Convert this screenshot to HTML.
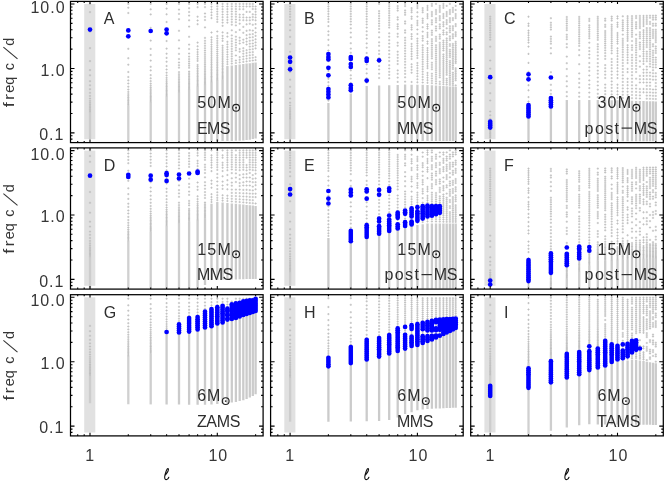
<!DOCTYPE html>
<html><head><meta charset="utf-8"><title>mode diagram</title>
<style>
html,body{margin:0;padding:0;background:#fff;}
body{width:664px;height:481px;overflow:hidden;}
svg{display:block;font-family:"Liberation Sans",sans-serif;}
.t{filter:grayscale(1);}
</style></head><body>
<svg width="664" height="481" viewBox="0 0 664 481">
<rect width="664" height="481" fill="#fff"/>
<g>
<rect x="84.2" y="4" width="11.1" height="135.2" fill="#e1e1e1"/>
<path d="M90 112.2V139M128.3 105.2V141" stroke="#cbcbcb" stroke-opacity="0.9" stroke-width="2.3" fill="none"/>
<path d="M150.7 101.8V141M166.6 96V141M179 92V141" stroke="#cbcbcb" stroke-opacity="0.95" stroke-width="2.3" fill="none"/>
<path d="M189.1 89V141M197.6 86V141M205 84V141M211.5 81.8V141M217.3 80V141M222.6 79.3V141M227.4 66.1V141M231.8 65.5V141M235.9 65V140.8M239.7 64.5V140.7M243.3 64V140.5M246.6 63.6V140.1M249.8 63.2V139.7M252.8 62.8V139.1M255.6 62.4V138.6" stroke="#cbcbcb" stroke-opacity="1.0" stroke-width="2.3" fill="none"/>
<path d="M88.9 104.4h2.2m-1.1 -1.1v2.2M88.9 106h2.2m-1.1 -1.1v2.2M88.9 107.4h2.2m-1.1 -1.1v2.2M88.9 108.9h2.2m-1.1 -1.1v2.2M88.9 110.2h2.2m-1.1 -1.1v2.2M88.9 111.6h2.2m-1.1 -1.1v2.2M88.9 102.7h2.2m-1.1 -1.1v2.2M88.9 100.8h2.2m-1.1 -1.1v2.2M88.9 98.5h2.2m-1.1 -1.1v2.2M88.9 95.9h2.2m-1.1 -1.1v2.2M88.9 92.8h2.2m-1.1 -1.1v2.2M88.9 89.2h2.2m-1.1 -1.1v2.2M88.9 85.3h2.2m-1.1 -1.1v2.2M88.9 81.2h2.2m-1.1 -1.1v2.2M88.9 75.3h2.2m-1.1 -1.1v2.2M88.9 70.1h2.2m-1.1 -1.1v2.2M88.9 61.1h2.2m-1.1 -1.1v2.2M88.9 48.1h2.2m-1.1 -1.1v2.2M88.9 31.7h2.2m-1.1 -1.1v2.2M88.9 12.1h2.2m-1.1 -1.1v2.2M88.9 3.9h2.2m-1.1 -1.1v2.2M127.2 97.4h2.2m-1.1 -1.1v2.2M127.2 99h2.2m-1.1 -1.1v2.2M127.2 100.4h2.2m-1.1 -1.1v2.2M127.2 101.9h2.2m-1.1 -1.1v2.2M127.2 103.2h2.2m-1.1 -1.1v2.2M127.2 104.6h2.2m-1.1 -1.1v2.2M127.2 95.8h2.2m-1.1 -1.1v2.2M127.2 94h2.2m-1.1 -1.1v2.2M127.2 91.9h2.2m-1.1 -1.1v2.2M127.2 89.5h2.2m-1.1 -1.1v2.2M127.2 86.7h2.2m-1.1 -1.1v2.2M127.2 83.5h2.2m-1.1 -1.1v2.2M127.2 80.4h2.2m-1.1 -1.1v2.2M127.2 77h2.2m-1.1 -1.1v2.2M127.2 72h2.2m-1.1 -1.1v2.2M127.2 64.7h2.2m-1.1 -1.1v2.2M127.2 58.2h2.2m-1.1 -1.1v2.2M127.2 48.8h2.2m-1.1 -1.1v2.2M127.2 31.5h2.2m-1.1 -1.1v2.2M127.2 13h2.2m-1.1 -1.1v2.2M127.2 7.7h2.2m-1.1 -1.1v2.2M127.2 3.9h2.2m-1.1 -1.1v2.2M149.6 89.2h2.2m-1.1 -1.1v2.2M149.6 90.8h2.2m-1.1 -1.1v2.2M149.6 92.2h2.2m-1.1 -1.1v2.2M149.6 93.7h2.2m-1.1 -1.1v2.2M149.6 95.1h2.2m-1.1 -1.1v2.2M149.6 96.4h2.2m-1.1 -1.1v2.2M149.6 97.7h2.2m-1.1 -1.1v2.2M149.6 98.9h2.2m-1.1 -1.1v2.2M149.6 100.1h2.2m-1.1 -1.1v2.2M149.6 101.2h2.2m-1.1 -1.1v2.2M149.6 87.6h2.2m-1.1 -1.1v2.2M149.6 85.7h2.2m-1.1 -1.1v2.2M149.6 83.6h2.2m-1.1 -1.1v2.2M149.6 81.1h2.2m-1.1 -1.1v2.2M149.6 78.3h2.2m-1.1 -1.1v2.2M149.6 75.1h2.2m-1.1 -1.1v2.2M149.6 70.4h2.2m-1.1 -1.1v2.2M149.6 66.8h2.2m-1.1 -1.1v2.2M149.6 60.6h2.2m-1.1 -1.1v2.2M149.6 55h2.2m-1.1 -1.1v2.2M149.6 48.9h2.2m-1.1 -1.1v2.2M149.6 40.6h2.2m-1.1 -1.1v2.2M149.6 27.9h2.2m-1.1 -1.1v2.2M149.6 14.4h2.2m-1.1 -1.1v2.2M149.6 9.3h2.2m-1.1 -1.1v2.2M149.6 3.9h2.2m-1.1 -1.1v2.2M165.5 83.4h2.2m-1.1 -1.1v2.2M165.5 85h2.2m-1.1 -1.1v2.2M165.5 86.4h2.2m-1.1 -1.1v2.2M165.5 87.9h2.2m-1.1 -1.1v2.2M165.5 89.2h2.2m-1.1 -1.1v2.2M165.5 90.6h2.2m-1.1 -1.1v2.2M165.5 91.8h2.2m-1.1 -1.1v2.2M165.5 93.1h2.2m-1.1 -1.1v2.2M165.5 94.3h2.2m-1.1 -1.1v2.2M165.5 95.4h2.2m-1.1 -1.1v2.2M165.5 81.8h2.2m-1.1 -1.1v2.2M165.5 79.9h2.2m-1.1 -1.1v2.2M165.5 77.8h2.2m-1.1 -1.1v2.2M165.5 75.4h2.2m-1.1 -1.1v2.2M165.5 72.7h2.2m-1.1 -1.1v2.2M165.5 69.5h2.2m-1.1 -1.1v2.2M165.5 66h2.2m-1.1 -1.1v2.2M165.5 61.7h2.2m-1.1 -1.1v2.2M165.5 57.9h2.2m-1.1 -1.1v2.2M165.5 53.7h2.2m-1.1 -1.1v2.2M165.5 48.6h2.2m-1.1 -1.1v2.2M165.5 41h2.2m-1.1 -1.1v2.2M165.5 31.5h2.2m-1.1 -1.1v2.2M165.5 22h2.2m-1.1 -1.1v2.2M165.5 14.3h2.2m-1.1 -1.1v2.2M165.5 8.6h2.2m-1.1 -1.1v2.2M165.5 3.9h2.2m-1.1 -1.1v2.2M177.9 79.4h2.2m-1.1 -1.1v2.2M177.9 81h2.2m-1.1 -1.1v2.2M177.9 82.4h2.2m-1.1 -1.1v2.2M177.9 83.9h2.2m-1.1 -1.1v2.2M177.9 85.2h2.2m-1.1 -1.1v2.2M177.9 86.6h2.2m-1.1 -1.1v2.2M177.9 87.8h2.2m-1.1 -1.1v2.2M177.9 89.1h2.2m-1.1 -1.1v2.2M177.9 90.3h2.2m-1.1 -1.1v2.2M177.9 91.4h2.2m-1.1 -1.1v2.2M177.9 77.8h2.2m-1.1 -1.1v2.2M177.9 76h2.2m-1.1 -1.1v2.2M177.9 74.2h2.2m-1.1 -1.1v2.2M177.9 72.1h2.2m-1.1 -1.1v2.2M177.9 67.7h2.2m-1.1 -1.1v2.2M177.9 65.2h2.2m-1.1 -1.1v2.2M177.9 62.5h2.2m-1.1 -1.1v2.2M177.9 59h2.2m-1.1 -1.1v2.2M177.9 53.9h2.2m-1.1 -1.1v2.2M177.9 48.4h2.2m-1.1 -1.1v2.2M177.9 40.3h2.2m-1.1 -1.1v2.2M177.9 30.8h2.2m-1.1 -1.1v2.2M177.9 19.2h2.2m-1.1 -1.1v2.2M177.9 13.9h2.2m-1.1 -1.1v2.2M177.9 9.6h2.2m-1.1 -1.1v2.2M177.9 3.9h2.2m-1.1 -1.1v2.2M188 76.4h2.2m-1.1 -1.1v2.2M188 78h2.2m-1.1 -1.1v2.2M188 79.4h2.2m-1.1 -1.1v2.2M188 80.9h2.2m-1.1 -1.1v2.2M188 82.2h2.2m-1.1 -1.1v2.2M188 83.6h2.2m-1.1 -1.1v2.2M188 84.8h2.2m-1.1 -1.1v2.2M188 86.1h2.2m-1.1 -1.1v2.2M188 87.3h2.2m-1.1 -1.1v2.2M188 88.4h2.2m-1.1 -1.1v2.2M188 74.8h2.2m-1.1 -1.1v2.2M188 73.2h2.2m-1.1 -1.1v2.2M188 71.5h2.2m-1.1 -1.1v2.2M188 67.8h2.2m-1.1 -1.1v2.2M188 65.7h2.2m-1.1 -1.1v2.2M188 63.6h2.2m-1.1 -1.1v2.2M188 61.4h2.2m-1.1 -1.1v2.2M188 59.1h2.2m-1.1 -1.1v2.2M188 56.6h2.2m-1.1 -1.1v2.2M188 53.5h2.2m-1.1 -1.1v2.2M188 49h2.2m-1.1 -1.1v2.2M188 44.6h2.2m-1.1 -1.1v2.2M188 36.8h2.2m-1.1 -1.1v2.2M188 26.6h2.2m-1.1 -1.1v2.2M188 20.3h2.2m-1.1 -1.1v2.2M188 15.6h2.2m-1.1 -1.1v2.2M188 12h2.2m-1.1 -1.1v2.2M188 8.2h2.2m-1.1 -1.1v2.2M188 3.9h2.2m-1.1 -1.1v2.2M196.5 73.4h2.2m-1.1 -1.1v2.2M196.5 75h2.2m-1.1 -1.1v2.2M196.5 76.4h2.2m-1.1 -1.1v2.2M196.5 77.9h2.2m-1.1 -1.1v2.2M196.5 79.2h2.2m-1.1 -1.1v2.2M196.5 80.6h2.2m-1.1 -1.1v2.2M196.5 81.8h2.2m-1.1 -1.1v2.2M196.5 83.1h2.2m-1.1 -1.1v2.2M196.5 84.3h2.2m-1.1 -1.1v2.2M196.5 85.4h2.2m-1.1 -1.1v2.2M196.5 71.8h2.2m-1.1 -1.1v2.2M196.5 70.2h2.2m-1.1 -1.1v2.2M196.5 68.5h2.2m-1.1 -1.1v2.2M196.5 66.7h2.2m-1.1 -1.1v2.2M196.5 64.9h2.2m-1.1 -1.1v2.2M196.5 60.9h2.2m-1.1 -1.1v2.2M196.5 58.8h2.2m-1.1 -1.1v2.2M196.5 56.6h2.2m-1.1 -1.1v2.2M196.5 54.3h2.2m-1.1 -1.1v2.2M196.5 52h2.2m-1.1 -1.1v2.2M196.5 49.5h2.2m-1.1 -1.1v2.2M196.5 46.3h2.2m-1.1 -1.1v2.2M196.5 42.6h2.2m-1.1 -1.1v2.2M196.5 24.2h2.2m-1.1 -1.1v2.2M196.5 20.5h2.2m-1.1 -1.1v2.2M196.5 16.7h2.2m-1.1 -1.1v2.2M196.5 7.2h2.2m-1.1 -1.1v2.2M196.5 3.9h2.2m-1.1 -1.1v2.2M203.9 71.4h2.2m-1.1 -1.1v2.2M203.9 73h2.2m-1.1 -1.1v2.2M203.9 74.4h2.2m-1.1 -1.1v2.2M203.9 75.9h2.2m-1.1 -1.1v2.2M203.9 77.2h2.2m-1.1 -1.1v2.2M203.9 78.6h2.2m-1.1 -1.1v2.2M203.9 79.8h2.2m-1.1 -1.1v2.2M203.9 81.1h2.2m-1.1 -1.1v2.2M203.9 82.3h2.2m-1.1 -1.1v2.2M203.9 83.4h2.2m-1.1 -1.1v2.2M203.9 69.8h2.2m-1.1 -1.1v2.2M203.9 68.1h2.2m-1.1 -1.1v2.2M203.9 66.4h2.2m-1.1 -1.1v2.2M203.9 64.6h2.2m-1.1 -1.1v2.2M203.9 62.8h2.2m-1.1 -1.1v2.2M203.9 60.9h2.2m-1.1 -1.1v2.2M203.9 58.9h2.2m-1.1 -1.1v2.2M203.9 56.9h2.2m-1.1 -1.1v2.2M203.9 54.8h2.2m-1.1 -1.1v2.2M203.9 52.7h2.2m-1.1 -1.1v2.2M203.9 50.5h2.2m-1.1 -1.1v2.2M203.9 48.2h2.2m-1.1 -1.1v2.2M203.9 45.8h2.2m-1.1 -1.1v2.2M203.9 43.3h2.2m-1.1 -1.1v2.2M203.9 40.8h2.2m-1.1 -1.1v2.2M203.9 37.9h2.2m-1.1 -1.1v2.2M203.9 27.4h2.2m-1.1 -1.1v2.2M203.9 20h2.2m-1.1 -1.1v2.2M203.9 16.8h2.2m-1.1 -1.1v2.2M203.9 13.5h2.2m-1.1 -1.1v2.2M203.9 7.1h2.2m-1.1 -1.1v2.2M203.9 3.9h2.2m-1.1 -1.1v2.2M210.4 69.3h2.2m-1.1 -1.1v2.2M210.4 70.8h2.2m-1.1 -1.1v2.2M210.4 72.3h2.2m-1.1 -1.1v2.2M210.4 73.8h2.2m-1.1 -1.1v2.2M210.4 75.1h2.2m-1.1 -1.1v2.2M210.4 76.5h2.2m-1.1 -1.1v2.2M210.4 77.7h2.2m-1.1 -1.1v2.2M210.4 79h2.2m-1.1 -1.1v2.2M210.4 80.2h2.2m-1.1 -1.1v2.2M210.4 81.3h2.2m-1.1 -1.1v2.2M210.4 67.7h2.2m-1.1 -1.1v2.2M210.4 66.1h2.2m-1.1 -1.1v2.2M210.4 64.4h2.2m-1.1 -1.1v2.2M210.4 62.7h2.2m-1.1 -1.1v2.2M210.4 60.9h2.2m-1.1 -1.1v2.2M210.4 59.1h2.2m-1.1 -1.1v2.2M210.4 57.2h2.2m-1.1 -1.1v2.2M210.4 55.2h2.2m-1.1 -1.1v2.2M210.4 53.2h2.2m-1.1 -1.1v2.2M210.4 51.2h2.2m-1.1 -1.1v2.2M210.4 49h2.2m-1.1 -1.1v2.2M210.4 46.8h2.2m-1.1 -1.1v2.2M210.4 44.6h2.2m-1.1 -1.1v2.2M210.4 42.2h2.2m-1.1 -1.1v2.2M210.4 39.8h2.2m-1.1 -1.1v2.2M210.4 37.3h2.2m-1.1 -1.1v2.2M210.4 32.5h2.2m-1.1 -1.1v2.2M210.4 18.1h2.2m-1.1 -1.1v2.2M210.4 15.2h2.2m-1.1 -1.1v2.2M210.4 12.4h2.2m-1.1 -1.1v2.2M210.4 9.5h2.2m-1.1 -1.1v2.2M210.4 6.7h2.2m-1.1 -1.1v2.2M210.4 3.9h2.2m-1.1 -1.1v2.2M216.2 67.4h2.2m-1.1 -1.1v2.2M216.2 69h2.2m-1.1 -1.1v2.2M216.2 70.4h2.2m-1.1 -1.1v2.2M216.2 71.9h2.2m-1.1 -1.1v2.2M216.2 73.2h2.2m-1.1 -1.1v2.2M216.2 74.6h2.2m-1.1 -1.1v2.2M216.2 75.8h2.2m-1.1 -1.1v2.2M216.2 77.1h2.2m-1.1 -1.1v2.2M216.2 78.3h2.2m-1.1 -1.1v2.2M216.2 79.4h2.2m-1.1 -1.1v2.2M216.2 65.8h2.2m-1.1 -1.1v2.2M216.2 64.2h2.2m-1.1 -1.1v2.2M216.2 62.6h2.2m-1.1 -1.1v2.2M216.2 60.9h2.2m-1.1 -1.1v2.2M216.2 59.1h2.2m-1.1 -1.1v2.2M216.2 57.3h2.2m-1.1 -1.1v2.2M216.2 55.4h2.2m-1.1 -1.1v2.2M216.2 53.5h2.2m-1.1 -1.1v2.2M216.2 51.5h2.2m-1.1 -1.1v2.2M216.2 49.5h2.2m-1.1 -1.1v2.2M216.2 47.4h2.2m-1.1 -1.1v2.2M216.2 45.3h2.2m-1.1 -1.1v2.2M216.2 43h2.2m-1.1 -1.1v2.2M216.2 40.8h2.2m-1.1 -1.1v2.2M216.2 38.4h2.2m-1.1 -1.1v2.2M216.2 36h2.2m-1.1 -1.1v2.2M216.2 31.5h2.2m-1.1 -1.1v2.2M216.2 21.9h2.2m-1.1 -1.1v2.2M216.2 19.3h2.2m-1.1 -1.1v2.2M216.2 16.7h2.2m-1.1 -1.1v2.2M216.2 14.1h2.2m-1.1 -1.1v2.2M216.2 11.6h2.2m-1.1 -1.1v2.2M216.2 9h2.2m-1.1 -1.1v2.2M216.2 6.4h2.2m-1.1 -1.1v2.2M216.2 3.9h2.2m-1.1 -1.1v2.2M221.5 66.7h2.2m-1.1 -1.1v2.2M221.5 68.3h2.2m-1.1 -1.1v2.2M221.5 69.7h2.2m-1.1 -1.1v2.2M221.5 71.2h2.2m-1.1 -1.1v2.2M221.5 72.6h2.2m-1.1 -1.1v2.2M221.5 73.9h2.2m-1.1 -1.1v2.2M221.5 75.2h2.2m-1.1 -1.1v2.2M221.5 76.4h2.2m-1.1 -1.1v2.2M221.5 77.6h2.2m-1.1 -1.1v2.2M221.5 78.7h2.2m-1.1 -1.1v2.2M221.5 65.1h2.2m-1.1 -1.1v2.2M221.5 63.4h2.2m-1.1 -1.1v2.2M221.5 61.7h2.2m-1.1 -1.1v2.2M221.5 59.9h2.2m-1.1 -1.1v2.2M221.5 58.1h2.2m-1.1 -1.1v2.2M221.5 56.2h2.2m-1.1 -1.1v2.2M221.5 54.2h2.2m-1.1 -1.1v2.2M221.5 52.2h2.2m-1.1 -1.1v2.2M221.5 50.1h2.2m-1.1 -1.1v2.2M221.5 47.9h2.2m-1.1 -1.1v2.2M221.5 45.7h2.2m-1.1 -1.1v2.2M221.5 40.9h2.2m-1.1 -1.1v2.2M221.5 38.5h2.2m-1.1 -1.1v2.2M221.5 35.9h2.2m-1.1 -1.1v2.2M221.5 32.4h2.2m-1.1 -1.1v2.2M221.5 25.8h2.2m-1.1 -1.1v2.2M221.5 22.6h2.2m-1.1 -1.1v2.2M221.5 19.9h2.2m-1.1 -1.1v2.2M221.5 17.2h2.2m-1.1 -1.1v2.2M221.5 14.5h2.2m-1.1 -1.1v2.2M221.5 11.8h2.2m-1.1 -1.1v2.2M221.5 9.2h2.2m-1.1 -1.1v2.2M221.5 6.5h2.2m-1.1 -1.1v2.2M221.5 3.9h2.2m-1.1 -1.1v2.2M226.3 64.2h2.2m-1.1 -1.1v2.2M226.3 61.8h2.2m-1.1 -1.1v2.2M226.3 59.4h2.2m-1.1 -1.1v2.2M226.3 56.9h2.2m-1.1 -1.1v2.2M226.3 54.5h2.2m-1.1 -1.1v2.2M226.3 52h2.2m-1.1 -1.1v2.2M226.3 49.5h2.2m-1.1 -1.1v2.2M226.3 47h2.2m-1.1 -1.1v2.2M226.3 44.4h2.2m-1.1 -1.1v2.2M226.3 41.8h2.2m-1.1 -1.1v2.2M226.3 36.6h2.2m-1.1 -1.1v2.2M226.3 33.1h2.2m-1.1 -1.1v2.2M226.3 22.6h2.2m-1.1 -1.1v2.2M226.3 19.9h2.2m-1.1 -1.1v2.2M226.3 17.2h2.2m-1.1 -1.1v2.2M226.3 14.5h2.2m-1.1 -1.1v2.2M226.3 11.8h2.2m-1.1 -1.1v2.2M226.3 9.1h2.2m-1.1 -1.1v2.2M226.3 6.5h2.2m-1.1 -1.1v2.2M226.3 3.9h2.2m-1.1 -1.1v2.2M230.7 63.6h2.2m-1.1 -1.1v2.2M230.7 61.2h2.2m-1.1 -1.1v2.2M230.7 58.8h2.2m-1.1 -1.1v2.2M230.7 56.3h2.2m-1.1 -1.1v2.2M230.7 53.9h2.2m-1.1 -1.1v2.2M230.7 51.4h2.2m-1.1 -1.1v2.2M230.7 48.9h2.2m-1.1 -1.1v2.2M230.7 46.3h2.2m-1.1 -1.1v2.2M230.7 43.8h2.2m-1.1 -1.1v2.2M230.7 41.2h2.2m-1.1 -1.1v2.2M230.7 38.6h2.2m-1.1 -1.1v2.2M230.7 35.4h2.2m-1.1 -1.1v2.2M230.7 30.3h2.2m-1.1 -1.1v2.2M230.7 24.7h2.2m-1.1 -1.1v2.2M230.7 22h2.2m-1.1 -1.1v2.2M230.7 19.4h2.2m-1.1 -1.1v2.2M230.7 16.7h2.2m-1.1 -1.1v2.2M230.7 14.1h2.2m-1.1 -1.1v2.2M230.7 11.5h2.2m-1.1 -1.1v2.2M230.7 9h2.2m-1.1 -1.1v2.2M230.7 6.4h2.2m-1.1 -1.1v2.2M230.7 3.9h2.2m-1.1 -1.1v2.2M234.8 63h2.2m-1.1 -1.1v2.2M234.8 60.5h2.2m-1.1 -1.1v2.2M234.8 55.5h2.2m-1.1 -1.1v2.2M234.8 50.3h2.2m-1.1 -1.1v2.2M234.8 47.7h2.2m-1.1 -1.1v2.2M234.8 45.1h2.2m-1.1 -1.1v2.2M234.8 42.5h2.2m-1.1 -1.1v2.2M234.8 39.8h2.2m-1.1 -1.1v2.2M234.8 36.7h2.2m-1.1 -1.1v2.2M234.8 32.1h2.2m-1.1 -1.1v2.2M234.8 25.4h2.2m-1.1 -1.1v2.2M234.8 22.2h2.2m-1.1 -1.1v2.2M234.8 19.5h2.2m-1.1 -1.1v2.2M234.8 16.8h2.2m-1.1 -1.1v2.2M234.8 14.2h2.2m-1.1 -1.1v2.2M234.8 11.6h2.2m-1.1 -1.1v2.2M234.8 9h2.2m-1.1 -1.1v2.2M234.8 6.4h2.2m-1.1 -1.1v2.2M234.8 3.9h2.2m-1.1 -1.1v2.2M238.6 62.4h2.2m-1.1 -1.1v2.2M238.6 59.8h2.2m-1.1 -1.1v2.2M238.6 57.1h2.2m-1.1 -1.1v2.2M238.6 51.7h2.2m-1.1 -1.1v2.2M238.6 49h2.2m-1.1 -1.1v2.2M238.6 43.5h2.2m-1.1 -1.1v2.2M238.6 40.7h2.2m-1.1 -1.1v2.2M238.6 37.7h2.2m-1.1 -1.1v2.2M238.6 29.9h2.2m-1.1 -1.1v2.2M238.6 23.7h2.2m-1.1 -1.1v2.2M238.6 20.1h2.2m-1.1 -1.1v2.2M238.6 17.3h2.2m-1.1 -1.1v2.2M238.6 14.6h2.2m-1.1 -1.1v2.2M238.6 9.2h2.2m-1.1 -1.1v2.2M238.6 6.5h2.2m-1.1 -1.1v2.2M238.6 3.9h2.2m-1.1 -1.1v2.2M242.2 61.9h2.2m-1.1 -1.1v2.2M242.2 59.2h2.2m-1.1 -1.1v2.2M242.2 56.5h2.2m-1.1 -1.1v2.2M242.2 53.7h2.2m-1.1 -1.1v2.2M242.2 51h2.2m-1.1 -1.1v2.2M242.2 48.2h2.2m-1.1 -1.1v2.2M242.2 42.6h2.2m-1.1 -1.1v2.2M242.2 39.7h2.2m-1.1 -1.1v2.2M242.2 32.8h2.2m-1.1 -1.1v2.2M242.2 26.9h2.2m-1.1 -1.1v2.2M242.2 20.2h2.2m-1.1 -1.1v2.2M242.2 17.4h2.2m-1.1 -1.1v2.2M242.2 14.6h2.2m-1.1 -1.1v2.2M242.2 9.2h2.2m-1.1 -1.1v2.2M242.2 6.5h2.2m-1.1 -1.1v2.2M242.2 3.9h2.2m-1.1 -1.1v2.2M245.5 61.4h2.2m-1.1 -1.1v2.2M245.5 58.6h2.2m-1.1 -1.1v2.2M245.5 55.8h2.2m-1.1 -1.1v2.2M245.5 53h2.2m-1.1 -1.1v2.2M245.5 50.2h2.2m-1.1 -1.1v2.2M245.5 44.5h2.2m-1.1 -1.1v2.2M245.5 41.6h2.2m-1.1 -1.1v2.2M245.5 38.5h2.2m-1.1 -1.1v2.2M245.5 35.1h2.2m-1.1 -1.1v2.2M245.5 30.8h2.2m-1.1 -1.1v2.2M245.5 24.3h2.2m-1.1 -1.1v2.2M245.5 20.3h2.2m-1.1 -1.1v2.2M245.5 17.5h2.2m-1.1 -1.1v2.2M245.5 11.9h2.2m-1.1 -1.1v2.2M245.5 6.5h2.2m-1.1 -1.1v2.2M245.5 3.9h2.2m-1.1 -1.1v2.2M248.7 60.9h2.2m-1.1 -1.1v2.2M248.7 58.1h2.2m-1.1 -1.1v2.2M248.7 55.3h2.2m-1.1 -1.1v2.2M248.7 52.4h2.2m-1.1 -1.1v2.2M248.7 49.5h2.2m-1.1 -1.1v2.2M248.7 46.6h2.2m-1.1 -1.1v2.2M248.7 43.7h2.2m-1.1 -1.1v2.2M248.7 40.8h2.2m-1.1 -1.1v2.2M248.7 37.5h2.2m-1.1 -1.1v2.2M248.7 34.4h2.2m-1.1 -1.1v2.2M248.7 30.2h2.2m-1.1 -1.1v2.2M248.7 23.8h2.2m-1.1 -1.1v2.2M248.7 20.3h2.2m-1.1 -1.1v2.2M248.7 17.5h2.2m-1.1 -1.1v2.2M248.7 11.9h2.2m-1.1 -1.1v2.2M248.7 6.5h2.2m-1.1 -1.1v2.2M248.7 3.9h2.2m-1.1 -1.1v2.2M251.7 60.5h2.2m-1.1 -1.1v2.2M251.7 57.7h2.2m-1.1 -1.1v2.2M251.7 54.9h2.2m-1.1 -1.1v2.2M251.7 52.1h2.2m-1.1 -1.1v2.2M251.7 49.2h2.2m-1.1 -1.1v2.2M251.7 46.3h2.2m-1.1 -1.1v2.2M251.7 43.5h2.2m-1.1 -1.1v2.2M251.7 40.4h2.2m-1.1 -1.1v2.2M251.7 37.2h2.2m-1.1 -1.1v2.2M251.7 34.1h2.2m-1.1 -1.1v2.2M251.7 30.6h2.2m-1.1 -1.1v2.2M251.7 24.8h2.2m-1.1 -1.1v2.2M251.7 19.8h2.2m-1.1 -1.1v2.2M251.7 17h2.2m-1.1 -1.1v2.2M251.7 14.3h2.2m-1.1 -1.1v2.2M251.7 9h2.2m-1.1 -1.1v2.2M251.7 6.4h2.2m-1.1 -1.1v2.2M251.7 3.9h2.2m-1.1 -1.1v2.2M254.5 60.1h2.2m-1.1 -1.1v2.2M254.5 57.2h2.2m-1.1 -1.1v2.2M254.5 48.4h2.2m-1.1 -1.1v2.2M254.5 45.4h2.2m-1.1 -1.1v2.2M254.5 42.4h2.2m-1.1 -1.1v2.2M254.5 39.3h2.2m-1.1 -1.1v2.2M254.5 35.9h2.2m-1.1 -1.1v2.2M254.5 32.5h2.2m-1.1 -1.1v2.2M254.5 28.1h2.2m-1.1 -1.1v2.2M254.5 24.1h2.2m-1.1 -1.1v2.2M254.5 20.3h2.2m-1.1 -1.1v2.2M254.5 17.4h2.2m-1.1 -1.1v2.2M254.5 14.6h2.2m-1.1 -1.1v2.2M254.5 11.8h2.2m-1.1 -1.1v2.2M254.5 9.1h2.2m-1.1 -1.1v2.2M254.5 6.5h2.2m-1.1 -1.1v2.2" stroke="#bcbcbc" stroke-width="0.8" fill="none"/>
<g fill="#0000ff"><circle cx="90" cy="29.6" r="2.35"/><circle cx="128.3" cy="30.4" r="2.35"/><circle cx="128.3" cy="36.3" r="2.35"/><circle cx="150.7" cy="31" r="2.35"/><circle cx="166.6" cy="29.5" r="2.35"/><circle cx="166.6" cy="33.3" r="2.35"/></g>
<path d="M70.5 139.1h2M263.1 139.1h-2M70.5 135.8h2M263.1 135.8h-2M70.5 132.9h4M263.1 132.9h-4M70.5 113.5h2M263.1 113.5h-2M70.5 102.1h2M263.1 102.1h-2M70.5 94.1h2M263.1 94.1h-2M70.5 87.8h2M263.1 87.8h-2M70.5 82.7h2M263.1 82.7h-2M70.5 78.4h2M263.1 78.4h-2M70.5 74.7h2M263.1 74.7h-2M70.5 71.4h2M263.1 71.4h-2M70.5 68.5h4M263.1 68.5h-4M70.5 49.1h2M263.1 49.1h-2M70.5 37.7h2M263.1 37.7h-2M70.5 29.7h2M263.1 29.7h-2M70.5 23.4h2M263.1 23.4h-2M70.5 18.3h2M263.1 18.3h-2M70.5 14h2M263.1 14h-2M70.5 10.3h2M263.1 10.3h-2M70.5 7h2M263.1 7h-2M70.5 4h4M263.1 4h-4M77.7 1.4v1.6M77.7 142.6v-1.7M84.2 1.4v1.6M84.2 142.6v-1.7M90 1.4v2.7M90 142.6v-3.2M128.3 1.4v1.6M128.3 142.6v-1.7M150.7 1.4v1.6M150.7 142.6v-1.7M166.6 1.4v1.6M166.6 142.6v-1.7M179 1.4v1.6M179 142.6v-1.7M189.1 1.4v1.6M189.1 142.6v-1.7M197.6 1.4v1.6M197.6 142.6v-1.7M205 1.4v1.6M205 142.6v-1.7M211.5 1.4v1.6M211.5 142.6v-1.7M217.3 1.4v2.7M217.3 142.6v-3.2M255.6 1.4v1.6M255.6 142.6v-1.7" stroke="#000" stroke-width="1.1" fill="none"/>
<rect x="70.5" y="1.4" width="192.6" height="141.2" fill="none" stroke="#000" stroke-width="1.25"/>
<g font-size="16" fill="#2e2e2e" class="t">
<text x="103.8" y="24.2">A</text>
<text x="197.2" y="108" textLength="33.6" lengthAdjust="spacing">50M</text>
<circle cx="236.1" cy="107.8" r="3.4" fill="none" stroke="#222" stroke-width="1.1"/><circle cx="236.1" cy="107.8" r="0.95"/>
<text x="196.9" y="133.7" textLength="33.4" lengthAdjust="spacing">EMS</text>
</g>
</g>
<g>
<rect x="284.3" y="4" width="11.1" height="135.2" fill="#e1e1e1"/>
<path d="M290.1 119.2V139" stroke="#cbcbcb" stroke-opacity="0.9" stroke-width="2.3" fill="none"/>
<path d="M328.4 103V141.2M350.8 93.6V141.2M366.7 86V141.1M379.1 85.5V141.1M389.2 85.2V141.1M397.7 84.9V141.1M405.1 84.6V141.1M411.6 84.7V141.1M417.4 84.8V141.1M422.7 84.8V141.1M427.5 84.9V141M431.9 85.2V141M436 85.5V141M439.8 85.7V141M443.4 86V141M446.7 86.2V141M449.9 86.4V141M452.9 86.6V141M455.7 86.8V141" stroke="#cbcbcb" stroke-opacity="1.0" stroke-width="2.3" fill="none"/>
<path d="M289 111.4h2.2m-1.1 -1.1v2.2M289 113h2.2m-1.1 -1.1v2.2M289 114.4h2.2m-1.1 -1.1v2.2M289 115.9h2.2m-1.1 -1.1v2.2M289 117.2h2.2m-1.1 -1.1v2.2M289 118.6h2.2m-1.1 -1.1v2.2M289 109.8h2.2m-1.1 -1.1v2.2M289 107.9h2.2m-1.1 -1.1v2.2M289 105.5h2.2m-1.1 -1.1v2.2M289 102.7h2.2m-1.1 -1.1v2.2M289 98.5h2.2m-1.1 -1.1v2.2M289 93h2.2m-1.1 -1.1v2.2M289 86.8h2.2m-1.1 -1.1v2.2M289 79.7h2.2m-1.1 -1.1v2.2M289 72h2.2m-1.1 -1.1v2.2M289 66.3h2.2m-1.1 -1.1v2.2M289 59h2.2m-1.1 -1.1v2.2M289 51.8h2.2m-1.1 -1.1v2.2M289 44h2.2m-1.1 -1.1v2.2M289 36.9h2.2m-1.1 -1.1v2.2M289 30.3h2.2m-1.1 -1.1v2.2M289 24.9h2.2m-1.1 -1.1v2.2M289 19.9h2.2m-1.1 -1.1v2.2M289 16.9h2.2m-1.1 -1.1v2.2M289 14.3h2.2m-1.1 -1.1v2.2M289 11.6h2.2m-1.1 -1.1v2.2M289 9h2.2m-1.1 -1.1v2.2M289 6.5h2.2m-1.1 -1.1v2.2M289 3.9h2.2m-1.1 -1.1v2.2M327.3 100.6h2.2m-1.1 -1.1v2.2M327.3 97.4h2.2m-1.1 -1.1v2.2M327.3 94.1h2.2m-1.1 -1.1v2.2M327.3 90.1h2.2m-1.1 -1.1v2.2M327.3 85.8h2.2m-1.1 -1.1v2.2M327.3 82.2h2.2m-1.1 -1.1v2.2M327.3 78.8h2.2m-1.1 -1.1v2.2M327.3 75.2h2.2m-1.1 -1.1v2.2M327.3 70.9h2.2m-1.1 -1.1v2.2M327.3 67h2.2m-1.1 -1.1v2.2M327.3 61.2h2.2m-1.1 -1.1v2.2M327.3 55.9h2.2m-1.1 -1.1v2.2M327.3 50.5h2.2m-1.1 -1.1v2.2M327.3 45.2h2.2m-1.1 -1.1v2.2M327.3 39.8h2.2m-1.1 -1.1v2.2M327.3 35h2.2m-1.1 -1.1v2.2M327.3 31.4h2.2m-1.1 -1.1v2.2M327.3 26.1h2.2m-1.1 -1.1v2.2M327.3 21.9h2.2m-1.1 -1.1v2.2M327.3 19.1h2.2m-1.1 -1.1v2.2M327.3 16.5h2.2m-1.1 -1.1v2.2M327.3 13.9h2.2m-1.1 -1.1v2.2M327.3 11.3h2.2m-1.1 -1.1v2.2M327.3 8.8h2.2m-1.1 -1.1v2.2M327.3 6.4h2.2m-1.1 -1.1v2.2M327.3 3.9h2.2m-1.1 -1.1v2.2M349.7 90.8h2.2m-1.1 -1.1v2.2M349.7 87h2.2m-1.1 -1.1v2.2M349.7 83h2.2m-1.1 -1.1v2.2M349.7 78.6h2.2m-1.1 -1.1v2.2M349.7 75.3h2.2m-1.1 -1.1v2.2M349.7 70.4h2.2m-1.1 -1.1v2.2M349.7 66.4h2.2m-1.1 -1.1v2.2M349.7 62.7h2.2m-1.1 -1.1v2.2M349.7 58.4h2.2m-1.1 -1.1v2.2M349.7 52.8h2.2m-1.1 -1.1v2.2M349.7 48.6h2.2m-1.1 -1.1v2.2M349.7 43.2h2.2m-1.1 -1.1v2.2M349.7 37.3h2.2m-1.1 -1.1v2.2M349.7 32.6h2.2m-1.1 -1.1v2.2M349.7 28.3h2.2m-1.1 -1.1v2.2M349.7 24.5h2.2m-1.1 -1.1v2.2M349.7 21.6h2.2m-1.1 -1.1v2.2M349.7 19h2.2m-1.1 -1.1v2.2M349.7 16.4h2.2m-1.1 -1.1v2.2M349.7 13.9h2.2m-1.1 -1.1v2.2M349.7 11.3h2.2m-1.1 -1.1v2.2M349.7 8.8h2.2m-1.1 -1.1v2.2M349.7 6.4h2.2m-1.1 -1.1v2.2M349.7 3.9h2.2m-1.1 -1.1v2.2M365.6 82.7h2.2m-1.1 -1.1v2.2M365.6 78.2h2.2m-1.1 -1.1v2.2M365.6 73.4h2.2m-1.1 -1.1v2.2M365.6 69h2.2m-1.1 -1.1v2.2M365.6 64.4h2.2m-1.1 -1.1v2.2M365.6 60.9h2.2m-1.1 -1.1v2.2M365.6 57.1h2.2m-1.1 -1.1v2.2M365.6 53h2.2m-1.1 -1.1v2.2M365.6 47.7h2.2m-1.1 -1.1v2.2M365.6 43.4h2.2m-1.1 -1.1v2.2M365.6 38.6h2.2m-1.1 -1.1v2.2M365.6 35h2.2m-1.1 -1.1v2.2M365.6 31.3h2.2m-1.1 -1.1v2.2M365.6 27.6h2.2m-1.1 -1.1v2.2M365.6 24.4h2.2m-1.1 -1.1v2.2M365.6 21.7h2.2m-1.1 -1.1v2.2M365.6 19.1h2.2m-1.1 -1.1v2.2M365.6 16.5h2.2m-1.1 -1.1v2.2M365.6 13.9h2.2m-1.1 -1.1v2.2M365.6 11.4h2.2m-1.1 -1.1v2.2M365.6 8.9h2.2m-1.1 -1.1v2.2M365.6 6.4h2.2m-1.1 -1.1v2.2M365.6 3.9h2.2m-1.1 -1.1v2.2M378 78h2.2m-1.1 -1.1v2.2M378 73.7h2.2m-1.1 -1.1v2.2M378 69.5h2.2m-1.1 -1.1v2.2M378 66h2.2m-1.1 -1.1v2.2M378 62h2.2m-1.1 -1.1v2.2M378 58h2.2m-1.1 -1.1v2.2M378 54h2.2m-1.1 -1.1v2.2M378 50.7h2.2m-1.1 -1.1v2.2M378 45.8h2.2m-1.1 -1.1v2.2M378 42.3h2.2m-1.1 -1.1v2.2M378 37.3h2.2m-1.1 -1.1v2.2M378 32.3h2.2m-1.1 -1.1v2.2M378 28.9h2.2m-1.1 -1.1v2.2M378 26h2.2m-1.1 -1.1v2.2M378 23.5h2.2m-1.1 -1.1v2.2M378 21h2.2m-1.1 -1.1v2.2M378 18.5h2.2m-1.1 -1.1v2.2M378 16h2.2m-1.1 -1.1v2.2M378 13.5h2.2m-1.1 -1.1v2.2M378 11.1h2.2m-1.1 -1.1v2.2M378 3.9h2.2m-1.1 -1.1v2.2M388.1 78.3h2.2m-1.1 -1.1v2.2M388.1 74.9h2.2m-1.1 -1.1v2.2M388.1 71.8h2.2m-1.1 -1.1v2.2M388.1 68.5h2.2m-1.1 -1.1v2.2M388.1 65.2h2.2m-1.1 -1.1v2.2M388.1 61h2.2m-1.1 -1.1v2.2M388.1 57.5h2.2m-1.1 -1.1v2.2M388.1 54.1h2.2m-1.1 -1.1v2.2M388.1 50.6h2.2m-1.1 -1.1v2.2M388.1 47.1h2.2m-1.1 -1.1v2.2M388.1 43.6h2.2m-1.1 -1.1v2.2M388.1 40.2h2.2m-1.1 -1.1v2.2M388.1 36.7h2.2m-1.1 -1.1v2.2M388.1 33.3h2.2m-1.1 -1.1v2.2M388.1 27.6h2.2m-1.1 -1.1v2.2M388.1 25.1h2.2m-1.1 -1.1v2.2M388.1 22.7h2.2m-1.1 -1.1v2.2M388.1 20.3h2.2m-1.1 -1.1v2.2M388.1 17.9h2.2m-1.1 -1.1v2.2M388.1 15.6h2.2m-1.1 -1.1v2.2M388.1 13.2h2.2m-1.1 -1.1v2.2M388.1 10.9h2.2m-1.1 -1.1v2.2M388.1 8.5h2.2m-1.1 -1.1v2.2M388.1 6.2h2.2m-1.1 -1.1v2.2M388.1 3.9h2.2m-1.1 -1.1v2.2M396.6 81.9h2.2m-1.1 -1.1v2.2M396.6 77.6h2.2m-1.1 -1.1v2.2M396.6 73.8h2.2m-1.1 -1.1v2.2M396.6 70.4h2.2m-1.1 -1.1v2.2M396.6 64h2.2m-1.1 -1.1v2.2M396.6 60.9h2.2m-1.1 -1.1v2.2M396.6 57.8h2.2m-1.1 -1.1v2.2M396.6 54.8h2.2m-1.1 -1.1v2.2M396.6 51.7h2.2m-1.1 -1.1v2.2M396.6 45.7h2.2m-1.1 -1.1v2.2M396.6 42.7h2.2m-1.1 -1.1v2.2M396.6 36.7h2.2m-1.1 -1.1v2.2M396.6 33.8h2.2m-1.1 -1.1v2.2M396.6 28.8h2.2m-1.1 -1.1v2.2M396.6 26.5h2.2m-1.1 -1.1v2.2M396.6 24.2h2.2m-1.1 -1.1v2.2M396.6 19.6h2.2m-1.1 -1.1v2.2M396.6 17.3h2.2m-1.1 -1.1v2.2M396.6 10.6h2.2m-1.1 -1.1v2.2M396.6 8.3h2.2m-1.1 -1.1v2.2M396.6 6.1h2.2m-1.1 -1.1v2.2M404 81.7h2.2m-1.1 -1.1v2.2M404 77.3h2.2m-1.1 -1.1v2.2M404 73.9h2.2m-1.1 -1.1v2.2M404 70.8h2.2m-1.1 -1.1v2.2M404 67.7h2.2m-1.1 -1.1v2.2M404 64.7h2.2m-1.1 -1.1v2.2M404 61.8h2.2m-1.1 -1.1v2.2M404 59h2.2m-1.1 -1.1v2.2M404 56.3h2.2m-1.1 -1.1v2.2M404 53.6h2.2m-1.1 -1.1v2.2M404 50.9h2.2m-1.1 -1.1v2.2M404 48.3h2.2m-1.1 -1.1v2.2M404 45.6h2.2m-1.1 -1.1v2.2M404 43h2.2m-1.1 -1.1v2.2M404 40.3h2.2m-1.1 -1.1v2.2M404 37.7h2.2m-1.1 -1.1v2.2M404 32.7h2.2m-1.1 -1.1v2.2M404 30.3h2.2m-1.1 -1.1v2.2M404 23.6h2.2m-1.1 -1.1v2.2M404 21.4h2.2m-1.1 -1.1v2.2M404 14.8h2.2m-1.1 -1.1v2.2M404 12.6h2.2m-1.1 -1.1v2.2M404 10.4h2.2m-1.1 -1.1v2.2M404 6.1h2.2m-1.1 -1.1v2.2M404 3.9h2.2m-1.1 -1.1v2.2M410.5 82h2.2m-1.1 -1.1v2.2M410.5 72.7h2.2m-1.1 -1.1v2.2M410.5 69.8h2.2m-1.1 -1.1v2.2M410.5 67h2.2m-1.1 -1.1v2.2M410.5 64.3h2.2m-1.1 -1.1v2.2M410.5 59h2.2m-1.1 -1.1v2.2M410.5 56.4h2.2m-1.1 -1.1v2.2M410.5 53.9h2.2m-1.1 -1.1v2.2M410.5 51.4h2.2m-1.1 -1.1v2.2M410.5 48.9h2.2m-1.1 -1.1v2.2M410.5 46.4h2.2m-1.1 -1.1v2.2M410.5 43.9h2.2m-1.1 -1.1v2.2M410.5 38.9h2.2m-1.1 -1.1v2.2M410.5 36.5h2.2m-1.1 -1.1v2.2M410.5 34.1h2.2m-1.1 -1.1v2.2M410.5 29.6h2.2m-1.1 -1.1v2.2M410.5 27.4h2.2m-1.1 -1.1v2.2M410.5 25.2h2.2m-1.1 -1.1v2.2M410.5 18.8h2.2m-1.1 -1.1v2.2M410.5 16.6h2.2m-1.1 -1.1v2.2M410.5 12.3h2.2m-1.1 -1.1v2.2M410.5 10.2h2.2m-1.1 -1.1v2.2M410.5 8.1h2.2m-1.1 -1.1v2.2M416.3 82.3h2.2m-1.1 -1.1v2.2M416.3 79.3h2.2m-1.1 -1.1v2.2M416.3 76.3h2.2m-1.1 -1.1v2.2M416.3 73.5h2.2m-1.1 -1.1v2.2M416.3 70.8h2.2m-1.1 -1.1v2.2M416.3 68.1h2.2m-1.1 -1.1v2.2M416.3 65.5h2.2m-1.1 -1.1v2.2M416.3 63h2.2m-1.1 -1.1v2.2M416.3 58h2.2m-1.1 -1.1v2.2M416.3 55.5h2.2m-1.1 -1.1v2.2M416.3 53.1h2.2m-1.1 -1.1v2.2M416.3 50.7h2.2m-1.1 -1.1v2.2M416.3 48.3h2.2m-1.1 -1.1v2.2M416.3 45.8h2.2m-1.1 -1.1v2.2M416.3 43.4h2.2m-1.1 -1.1v2.2M416.3 41h2.2m-1.1 -1.1v2.2M416.3 38.6h2.2m-1.1 -1.1v2.2M416.3 34h2.2m-1.1 -1.1v2.2M416.3 29.5h2.2m-1.1 -1.1v2.2M416.3 25.2h2.2m-1.1 -1.1v2.2M416.3 23h2.2m-1.1 -1.1v2.2M416.3 20.8h2.2m-1.1 -1.1v2.2M416.3 16.6h2.2m-1.1 -1.1v2.2M416.3 12.3h2.2m-1.1 -1.1v2.2M416.3 8.1h2.2m-1.1 -1.1v2.2M416.3 6h2.2m-1.1 -1.1v2.2M416.3 3.9h2.2m-1.1 -1.1v2.2M421.6 82.5h2.2m-1.1 -1.1v2.2M421.6 79.7h2.2m-1.1 -1.1v2.2M421.6 77h2.2m-1.1 -1.1v2.2M421.6 74.3h2.2m-1.1 -1.1v2.2M421.6 71.7h2.2m-1.1 -1.1v2.2M421.6 69.2h2.2m-1.1 -1.1v2.2M421.6 66.7h2.2m-1.1 -1.1v2.2M421.6 64.2h2.2m-1.1 -1.1v2.2M421.6 61.8h2.2m-1.1 -1.1v2.2M421.6 59.4h2.2m-1.1 -1.1v2.2M421.6 57h2.2m-1.1 -1.1v2.2M421.6 54.7h2.2m-1.1 -1.1v2.2M421.6 52.4h2.2m-1.1 -1.1v2.2M421.6 50h2.2m-1.1 -1.1v2.2M421.6 47.7h2.2m-1.1 -1.1v2.2M421.6 45.3h2.2m-1.1 -1.1v2.2M421.6 40.7h2.2m-1.1 -1.1v2.2M421.6 38.4h2.2m-1.1 -1.1v2.2M421.6 36.1h2.2m-1.1 -1.1v2.2M421.6 31.6h2.2m-1.1 -1.1v2.2M421.6 27.2h2.2m-1.1 -1.1v2.2M421.6 22.9h2.2m-1.1 -1.1v2.2M421.6 20.8h2.2m-1.1 -1.1v2.2M421.6 18.6h2.2m-1.1 -1.1v2.2M421.6 12.3h2.2m-1.1 -1.1v2.2M421.6 10.2h2.2m-1.1 -1.1v2.2M421.6 8.1h2.2m-1.1 -1.1v2.2M426.4 82.8h2.2m-1.1 -1.1v2.2M426.4 80.2h2.2m-1.1 -1.1v2.2M426.4 77.7h2.2m-1.1 -1.1v2.2M426.4 75.3h2.2m-1.1 -1.1v2.2M426.4 72.9h2.2m-1.1 -1.1v2.2M426.4 68.2h2.2m-1.1 -1.1v2.2M426.4 66h2.2m-1.1 -1.1v2.2M426.4 63.7h2.2m-1.1 -1.1v2.2M426.4 61.4h2.2m-1.1 -1.1v2.2M426.4 59.2h2.2m-1.1 -1.1v2.2M426.4 57h2.2m-1.1 -1.1v2.2M426.4 54.8h2.2m-1.1 -1.1v2.2M426.4 52.5h2.2m-1.1 -1.1v2.2M426.4 50.3h2.2m-1.1 -1.1v2.2M426.4 48.1h2.2m-1.1 -1.1v2.2M426.4 43.7h2.2m-1.1 -1.1v2.2M426.4 41.5h2.2m-1.1 -1.1v2.2M426.4 37.1h2.2m-1.1 -1.1v2.2M426.4 35h2.2m-1.1 -1.1v2.2M426.4 32.8h2.2m-1.1 -1.1v2.2M426.4 28.6h2.2m-1.1 -1.1v2.2M426.4 26.5h2.2m-1.1 -1.1v2.2M426.4 24.4h2.2m-1.1 -1.1v2.2M426.4 18.2h2.2m-1.1 -1.1v2.2M426.4 16.1h2.2m-1.1 -1.1v2.2M426.4 14.1h2.2m-1.1 -1.1v2.2M426.4 10h2.2m-1.1 -1.1v2.2M426.4 7.9h2.2m-1.1 -1.1v2.2M426.4 5.9h2.2m-1.1 -1.1v2.2M430.8 83.2h2.2m-1.1 -1.1v2.2M430.8 80.8h2.2m-1.1 -1.1v2.2M430.8 78.4h2.2m-1.1 -1.1v2.2M430.8 76h2.2m-1.1 -1.1v2.2M430.8 73.7h2.2m-1.1 -1.1v2.2M430.8 69.3h2.2m-1.1 -1.1v2.2M430.8 67.1h2.2m-1.1 -1.1v2.2M430.8 64.9h2.2m-1.1 -1.1v2.2M430.8 62.7h2.2m-1.1 -1.1v2.2M430.8 58.4h2.2m-1.1 -1.1v2.2M430.8 56.2h2.2m-1.1 -1.1v2.2M430.8 54.1h2.2m-1.1 -1.1v2.2M430.8 52h2.2m-1.1 -1.1v2.2M430.8 49.8h2.2m-1.1 -1.1v2.2M430.8 47.7h2.2m-1.1 -1.1v2.2M430.8 45.5h2.2m-1.1 -1.1v2.2M430.8 43.4h2.2m-1.1 -1.1v2.2M430.8 41.2h2.2m-1.1 -1.1v2.2M430.8 39.1h2.2m-1.1 -1.1v2.2M430.8 34.9h2.2m-1.1 -1.1v2.2M430.8 32.7h2.2m-1.1 -1.1v2.2M430.8 30.6h2.2m-1.1 -1.1v2.2M430.8 24.4h2.2m-1.1 -1.1v2.2M430.8 22.3h2.2m-1.1 -1.1v2.2M430.8 20.2h2.2m-1.1 -1.1v2.2M430.8 16.1h2.2m-1.1 -1.1v2.2M430.8 14.1h2.2m-1.1 -1.1v2.2M430.8 12h2.2m-1.1 -1.1v2.2M430.8 5.9h2.2m-1.1 -1.1v2.2M430.8 3.9h2.2m-1.1 -1.1v2.2M434.9 83.6h2.2m-1.1 -1.1v2.2M434.9 81.3h2.2m-1.1 -1.1v2.2M434.9 79h2.2m-1.1 -1.1v2.2M434.9 76.8h2.2m-1.1 -1.1v2.2M434.9 74.6h2.2m-1.1 -1.1v2.2M434.9 72.4h2.2m-1.1 -1.1v2.2M434.9 70.2h2.2m-1.1 -1.1v2.2M434.9 68.1h2.2m-1.1 -1.1v2.2M434.9 66h2.2m-1.1 -1.1v2.2M434.9 63.9h2.2m-1.1 -1.1v2.2M434.9 61.8h2.2m-1.1 -1.1v2.2M434.9 59.7h2.2m-1.1 -1.1v2.2M434.9 57.7h2.2m-1.1 -1.1v2.2M434.9 55.6h2.2m-1.1 -1.1v2.2M434.9 53.5h2.2m-1.1 -1.1v2.2M434.9 51.4h2.2m-1.1 -1.1v2.2M434.9 49.4h2.2m-1.1 -1.1v2.2M434.9 47.3h2.2m-1.1 -1.1v2.2M434.9 45.2h2.2m-1.1 -1.1v2.2M434.9 41h2.2m-1.1 -1.1v2.2M434.9 38.9h2.2m-1.1 -1.1v2.2M434.9 36.8h2.2m-1.1 -1.1v2.2M434.9 30.6h2.2m-1.1 -1.1v2.2M434.9 28.5h2.2m-1.1 -1.1v2.2M434.9 26.4h2.2m-1.1 -1.1v2.2M434.9 22.3h2.2m-1.1 -1.1v2.2M434.9 20.2h2.2m-1.1 -1.1v2.2M434.9 18.2h2.2m-1.1 -1.1v2.2M434.9 14.1h2.2m-1.1 -1.1v2.2M434.9 12h2.2m-1.1 -1.1v2.2M434.9 10h2.2m-1.1 -1.1v2.2M434.9 3.9h2.2m-1.1 -1.1v2.2M438.7 84h2.2m-1.1 -1.1v2.2M438.7 81.7h2.2m-1.1 -1.1v2.2M438.7 77.4h2.2m-1.1 -1.1v2.2M438.7 75.3h2.2m-1.1 -1.1v2.2M438.7 73.2h2.2m-1.1 -1.1v2.2M438.7 71.1h2.2m-1.1 -1.1v2.2M438.7 69.1h2.2m-1.1 -1.1v2.2M438.7 67.1h2.2m-1.1 -1.1v2.2M438.7 65h2.2m-1.1 -1.1v2.2M438.7 63h2.2m-1.1 -1.1v2.2M438.7 61h2.2m-1.1 -1.1v2.2M438.7 59h2.2m-1.1 -1.1v2.2M438.7 57h2.2m-1.1 -1.1v2.2M438.7 55h2.2m-1.1 -1.1v2.2M438.7 53h2.2m-1.1 -1.1v2.2M438.7 51h2.2m-1.1 -1.1v2.2M438.7 48.9h2.2m-1.1 -1.1v2.2M438.7 46.9h2.2m-1.1 -1.1v2.2M438.7 44.9h2.2m-1.1 -1.1v2.2M438.7 42.8h2.2m-1.1 -1.1v2.2M438.7 38.7h2.2m-1.1 -1.1v2.2M438.7 36.7h2.2m-1.1 -1.1v2.2M438.7 34.6h2.2m-1.1 -1.1v2.2M438.7 28.4h2.2m-1.1 -1.1v2.2M438.7 26.4h2.2m-1.1 -1.1v2.2M438.7 24.3h2.2m-1.1 -1.1v2.2M438.7 20.2h2.2m-1.1 -1.1v2.2M438.7 18.1h2.2m-1.1 -1.1v2.2M438.7 16.1h2.2m-1.1 -1.1v2.2M438.7 12h2.2m-1.1 -1.1v2.2M438.7 10h2.2m-1.1 -1.1v2.2M438.7 7.9h2.2m-1.1 -1.1v2.2M438.7 5.9h2.2m-1.1 -1.1v2.2M442.3 84.3h2.2m-1.1 -1.1v2.2M442.3 82.2h2.2m-1.1 -1.1v2.2M442.3 80.1h2.2m-1.1 -1.1v2.2M442.3 78.1h2.2m-1.1 -1.1v2.2M442.3 76h2.2m-1.1 -1.1v2.2M442.3 74h2.2m-1.1 -1.1v2.2M442.3 72h2.2m-1.1 -1.1v2.2M442.3 70h2.2m-1.1 -1.1v2.2M442.3 68.1h2.2m-1.1 -1.1v2.2M442.3 66.1h2.2m-1.1 -1.1v2.2M442.3 64.1h2.2m-1.1 -1.1v2.2M442.3 62.2h2.2m-1.1 -1.1v2.2M442.3 60.3h2.2m-1.1 -1.1v2.2M442.3 58.3h2.2m-1.1 -1.1v2.2M442.3 56.4h2.2m-1.1 -1.1v2.2M442.3 54.4h2.2m-1.1 -1.1v2.2M442.3 50.5h2.2m-1.1 -1.1v2.2M442.3 48.5h2.2m-1.1 -1.1v2.2M442.3 46.6h2.2m-1.1 -1.1v2.2M442.3 44.6h2.2m-1.1 -1.1v2.2M442.3 42.6h2.2m-1.1 -1.1v2.2M442.3 40.6h2.2m-1.1 -1.1v2.2M442.3 34.5h2.2m-1.1 -1.1v2.2M442.3 32.5h2.2m-1.1 -1.1v2.2M442.3 30.4h2.2m-1.1 -1.1v2.2M442.3 26.3h2.2m-1.1 -1.1v2.2M442.3 24.3h2.2m-1.1 -1.1v2.2M442.3 22.2h2.2m-1.1 -1.1v2.2M442.3 18.1h2.2m-1.1 -1.1v2.2M442.3 16.1h2.2m-1.1 -1.1v2.2M442.3 14h2.2m-1.1 -1.1v2.2M442.3 7.9h2.2m-1.1 -1.1v2.2M442.3 5.9h2.2m-1.1 -1.1v2.2M442.3 3.9h2.2m-1.1 -1.1v2.2M445.6 84.6h2.2m-1.1 -1.1v2.2M445.6 82.6h2.2m-1.1 -1.1v2.2M445.6 80.6h2.2m-1.1 -1.1v2.2M445.6 78.7h2.2m-1.1 -1.1v2.2M445.6 74.8h2.2m-1.1 -1.1v2.2M445.6 72.8h2.2m-1.1 -1.1v2.2M445.6 70.9h2.2m-1.1 -1.1v2.2M445.6 69h2.2m-1.1 -1.1v2.2M445.6 67.1h2.2m-1.1 -1.1v2.2M445.6 65.2h2.2m-1.1 -1.1v2.2M445.6 63.3h2.2m-1.1 -1.1v2.2M445.6 61.5h2.2m-1.1 -1.1v2.2M445.6 59.6h2.2m-1.1 -1.1v2.2M445.6 57.7h2.2m-1.1 -1.1v2.2M445.6 55.8h2.2m-1.1 -1.1v2.2M445.6 53.9h2.2m-1.1 -1.1v2.2M445.6 52h2.2m-1.1 -1.1v2.2M445.6 50.1h2.2m-1.1 -1.1v2.2M445.6 48.2h2.2m-1.1 -1.1v2.2M445.6 46.3h2.2m-1.1 -1.1v2.2M445.6 44.3h2.2m-1.1 -1.1v2.2M445.6 42.4h2.2m-1.1 -1.1v2.2M445.6 40.4h2.2m-1.1 -1.1v2.2M445.6 38.4h2.2m-1.1 -1.1v2.2M445.6 34.4h2.2m-1.1 -1.1v2.2M445.6 32.4h2.2m-1.1 -1.1v2.2M445.6 28.3h2.2m-1.1 -1.1v2.2M445.6 24.2h2.2m-1.1 -1.1v2.2M445.6 22.2h2.2m-1.1 -1.1v2.2M445.6 20.1h2.2m-1.1 -1.1v2.2M445.6 16.1h2.2m-1.1 -1.1v2.2M445.6 14h2.2m-1.1 -1.1v2.2M445.6 12h2.2m-1.1 -1.1v2.2M445.6 5.9h2.2m-1.1 -1.1v2.2M448.8 84.9h2.2m-1.1 -1.1v2.2M448.8 83h2.2m-1.1 -1.1v2.2M448.8 81.1h2.2m-1.1 -1.1v2.2M448.8 79.2h2.2m-1.1 -1.1v2.2M448.8 77.4h2.2m-1.1 -1.1v2.2M448.8 75.5h2.2m-1.1 -1.1v2.2M448.8 73.6h2.2m-1.1 -1.1v2.2M448.8 71.8h2.2m-1.1 -1.1v2.2M448.8 70h2.2m-1.1 -1.1v2.2M448.8 68.1h2.2m-1.1 -1.1v2.2M448.8 66.3h2.2m-1.1 -1.1v2.2M448.8 64.5h2.2m-1.1 -1.1v2.2M448.8 62.6h2.2m-1.1 -1.1v2.2M448.8 60.8h2.2m-1.1 -1.1v2.2M448.8 57.2h2.2m-1.1 -1.1v2.2M448.8 55.3h2.2m-1.1 -1.1v2.2M448.8 53.5h2.2m-1.1 -1.1v2.2M448.8 51.6h2.2m-1.1 -1.1v2.2M448.8 49.7h2.2m-1.1 -1.1v2.2M448.8 46h2.2m-1.1 -1.1v2.2M448.8 44.1h2.2m-1.1 -1.1v2.2M448.8 40.2h2.2m-1.1 -1.1v2.2M448.8 38.3h2.2m-1.1 -1.1v2.2M448.8 36.3h2.2m-1.1 -1.1v2.2M448.8 32.3h2.2m-1.1 -1.1v2.2M448.8 30.3h2.2m-1.1 -1.1v2.2M448.8 28.3h2.2m-1.1 -1.1v2.2M448.8 26.2h2.2m-1.1 -1.1v2.2M448.8 22.1h2.2m-1.1 -1.1v2.2M448.8 20.1h2.2m-1.1 -1.1v2.2M448.8 18.1h2.2m-1.1 -1.1v2.2M448.8 14h2.2m-1.1 -1.1v2.2M448.8 12h2.2m-1.1 -1.1v2.2M448.8 10h2.2m-1.1 -1.1v2.2M448.8 3.9h2.2m-1.1 -1.1v2.2M451.8 85.2h2.2m-1.1 -1.1v2.2M451.8 83.4h2.2m-1.1 -1.1v2.2M451.8 81.6h2.2m-1.1 -1.1v2.2M451.8 79.8h2.2m-1.1 -1.1v2.2M451.8 78h2.2m-1.1 -1.1v2.2M451.8 76.2h2.2m-1.1 -1.1v2.2M451.8 74.4h2.2m-1.1 -1.1v2.2M451.8 72.6h2.2m-1.1 -1.1v2.2M451.8 69.1h2.2m-1.1 -1.1v2.2M451.8 67.3h2.2m-1.1 -1.1v2.2M451.8 65.5h2.2m-1.1 -1.1v2.2M451.8 63.7h2.2m-1.1 -1.1v2.2M451.8 62h2.2m-1.1 -1.1v2.2M451.8 60.2h2.2m-1.1 -1.1v2.2M451.8 58.4h2.2m-1.1 -1.1v2.2M451.8 56.6h2.2m-1.1 -1.1v2.2M451.8 54.8h2.2m-1.1 -1.1v2.2M451.8 53h2.2m-1.1 -1.1v2.2M451.8 51.2h2.2m-1.1 -1.1v2.2M451.8 49.4h2.2m-1.1 -1.1v2.2M451.8 47.6h2.2m-1.1 -1.1v2.2M451.8 45.7h2.2m-1.1 -1.1v2.2M451.8 43.9h2.2m-1.1 -1.1v2.2M451.8 38.2h2.2m-1.1 -1.1v2.2M451.8 36.2h2.2m-1.1 -1.1v2.2M451.8 34.2h2.2m-1.1 -1.1v2.2M451.8 30.2h2.2m-1.1 -1.1v2.2M451.8 28.2h2.2m-1.1 -1.1v2.2M451.8 26.2h2.2m-1.1 -1.1v2.2M451.8 20.1h2.2m-1.1 -1.1v2.2M451.8 18.1h2.2m-1.1 -1.1v2.2M451.8 12h2.2m-1.1 -1.1v2.2M451.8 10h2.2m-1.1 -1.1v2.2M451.8 7.9h2.2m-1.1 -1.1v2.2M454.6 85.4h2.2m-1.1 -1.1v2.2M454.6 80.3h2.2m-1.1 -1.1v2.2M454.6 78.6h2.2m-1.1 -1.1v2.2M454.6 76.8h2.2m-1.1 -1.1v2.2M454.6 75.1h2.2m-1.1 -1.1v2.2M454.6 73.4h2.2m-1.1 -1.1v2.2M454.6 71.7h2.2m-1.1 -1.1v2.2M454.6 70h2.2m-1.1 -1.1v2.2M454.6 68.2h2.2m-1.1 -1.1v2.2M454.6 63.1h2.2m-1.1 -1.1v2.2M454.6 61.4h2.2m-1.1 -1.1v2.2M454.6 59.6h2.2m-1.1 -1.1v2.2M454.6 57.9h2.2m-1.1 -1.1v2.2M454.6 56.2h2.2m-1.1 -1.1v2.2M454.6 54.4h2.2m-1.1 -1.1v2.2M454.6 52.7h2.2m-1.1 -1.1v2.2M454.6 50.9h2.2m-1.1 -1.1v2.2M454.6 49.1h2.2m-1.1 -1.1v2.2M454.6 47.3h2.2m-1.1 -1.1v2.2M454.6 45.5h2.2m-1.1 -1.1v2.2M454.6 43.7h2.2m-1.1 -1.1v2.2M454.6 41.8h2.2m-1.1 -1.1v2.2M454.6 36.1h2.2m-1.1 -1.1v2.2M454.6 34.2h2.2m-1.1 -1.1v2.2M454.6 32.2h2.2m-1.1 -1.1v2.2M454.6 26.1h2.2m-1.1 -1.1v2.2M454.6 24.1h2.2m-1.1 -1.1v2.2M454.6 18.1h2.2m-1.1 -1.1v2.2M454.6 16h2.2m-1.1 -1.1v2.2M454.6 14h2.2m-1.1 -1.1v2.2M454.6 10h2.2m-1.1 -1.1v2.2M454.6 5.9h2.2m-1.1 -1.1v2.2" stroke="#bcbcbc" stroke-width="0.8" fill="none"/>
<g fill="#0000ff"><circle cx="290.1" cy="57.5" r="2.35"/><circle cx="290.1" cy="61.8" r="2.35"/><circle cx="290.1" cy="69.3" r="2.35"/><circle cx="328.4" cy="54" r="2.35"/><circle cx="328.4" cy="57.1" r="2.35"/><circle cx="328.4" cy="59.4" r="2.35"/><circle cx="328.4" cy="67.8" r="2.35"/><circle cx="328.4" cy="75.3" r="2.35"/><circle cx="328.4" cy="89" r="2.35"/><circle cx="328.4" cy="91.8" r="2.35"/><circle cx="328.4" cy="94.6" r="2.35"/><circle cx="328.4" cy="97.4" r="2.35"/><circle cx="350.8" cy="57.1" r="2.35"/><circle cx="350.8" cy="59" r="2.35"/><circle cx="350.8" cy="64.1" r="2.35"/><circle cx="350.8" cy="66.9" r="2.35"/><circle cx="350.8" cy="85.2" r="2.35"/><circle cx="350.8" cy="88" r="2.35"/><circle cx="350.8" cy="90.3" r="2.35"/><circle cx="366.7" cy="58.5" r="2.35"/><circle cx="366.7" cy="60.9" r="2.35"/><circle cx="366.7" cy="80.6" r="2.35"/><circle cx="379.1" cy="60.3" r="2.35"/></g>
<path d="M270.6 139.1h2M463.2 139.1h-2M270.6 135.8h2M463.2 135.8h-2M270.6 132.9h4M463.2 132.9h-4M270.6 113.5h2M463.2 113.5h-2M270.6 102.1h2M463.2 102.1h-2M270.6 94.1h2M463.2 94.1h-2M270.6 87.8h2M463.2 87.8h-2M270.6 82.7h2M463.2 82.7h-2M270.6 78.4h2M463.2 78.4h-2M270.6 74.7h2M463.2 74.7h-2M270.6 71.4h2M463.2 71.4h-2M270.6 68.5h4M463.2 68.5h-4M270.6 49.1h2M463.2 49.1h-2M270.6 37.7h2M463.2 37.7h-2M270.6 29.7h2M463.2 29.7h-2M270.6 23.4h2M463.2 23.4h-2M270.6 18.3h2M463.2 18.3h-2M270.6 14h2M463.2 14h-2M270.6 10.3h2M463.2 10.3h-2M270.6 7h2M463.2 7h-2M270.6 4h4M463.2 4h-4M277.8 1.4v1.6M277.8 142.6v-1.7M284.3 1.4v1.6M284.3 142.6v-1.7M290.1 1.4v2.7M290.1 142.6v-3.2M328.4 1.4v1.6M328.4 142.6v-1.7M350.8 1.4v1.6M350.8 142.6v-1.7M366.7 1.4v1.6M366.7 142.6v-1.7M379.1 1.4v1.6M379.1 142.6v-1.7M389.2 1.4v1.6M389.2 142.6v-1.7M397.7 1.4v1.6M397.7 142.6v-1.7M405.1 1.4v1.6M405.1 142.6v-1.7M411.6 1.4v1.6M411.6 142.6v-1.7M417.4 1.4v2.7M417.4 142.6v-3.2M455.7 1.4v1.6M455.7 142.6v-1.7" stroke="#000" stroke-width="1.1" fill="none"/>
<rect x="270.6" y="1.4" width="192.6" height="141.2" fill="none" stroke="#000" stroke-width="1.25"/>
<g font-size="16" fill="#2e2e2e" class="t">
<text x="303.9" y="24.2">B</text>
<text x="397.3" y="108" textLength="33.6" lengthAdjust="spacing">50M</text>
<circle cx="436.2" cy="107.8" r="3.4" fill="none" stroke="#222" stroke-width="1.1"/><circle cx="436.2" cy="107.8" r="0.95"/>
<text x="397" y="133.7" textLength="36.3" lengthAdjust="spacing">MMS</text>
</g>
</g>
<g>
<rect x="484.4" y="4" width="11.1" height="135.2" fill="#e1e1e1"/>
<path d="M528.5 117V141.2M550.9 107V141.2M566.8 100V141.2M579.2 100V141.2M589.3 100V141.2M597.8 100V141.3M605.2 100V141.3M611.7 100.2V141.3M617.5 100.3V141.3M622.8 100.5V141.3M627.6 100.6V141.3M632 100.7V141.3M636.1 100.9V141.3M639.9 101V141.3M643.5 101.1V141.3M646.8 101.2V141.3M650 101.2V141.3M653 101.3V141.3M655.8 101.4V141.3" stroke="#cbcbcb" stroke-opacity="1.0" stroke-width="2.3" fill="none"/>
<path d="M489.1 130.4h2.2m-1.1 -1.1v2.2M489.1 132h2.2m-1.1 -1.1v2.2M489.1 133.4h2.2m-1.1 -1.1v2.2M489.1 134.9h2.2m-1.1 -1.1v2.2M489.1 136.2h2.2m-1.1 -1.1v2.2M489.1 137.6h2.2m-1.1 -1.1v2.2M489.1 128.8h2.2m-1.1 -1.1v2.2M489.1 127h2.2m-1.1 -1.1v2.2M489.1 124.7h2.2m-1.1 -1.1v2.2M489.1 118.8h2.2m-1.1 -1.1v2.2M489.1 115.3h2.2m-1.1 -1.1v2.2M489.1 111.5h2.2m-1.1 -1.1v2.2M489.1 100.5h2.2m-1.1 -1.1v2.2M489.1 93.2h2.2m-1.1 -1.1v2.2M489.1 83.2h2.2m-1.1 -1.1v2.2M489.1 75.8h2.2m-1.1 -1.1v2.2M489.1 68.6h2.2m-1.1 -1.1v2.2M489.1 60.5h2.2m-1.1 -1.1v2.2M489.1 46.7h2.2m-1.1 -1.1v2.2M489.1 39.7h2.2m-1.1 -1.1v2.2M489.1 37.3h2.2m-1.1 -1.1v2.2M489.1 34.9h2.2m-1.1 -1.1v2.2M489.1 32.6h2.2m-1.1 -1.1v2.2M489.1 30.3h2.2m-1.1 -1.1v2.2M489.1 28h2.2m-1.1 -1.1v2.2M489.1 25.7h2.2m-1.1 -1.1v2.2M489.1 23.4h2.2m-1.1 -1.1v2.2M489.1 21.2h2.2m-1.1 -1.1v2.2M489.1 18.9h2.2m-1.1 -1.1v2.2M489.1 16.7h2.2m-1.1 -1.1v2.2M527.4 114.6h2.2m-1.1 -1.1v2.2M527.4 111.2h2.2m-1.1 -1.1v2.2M527.4 107h2.2m-1.1 -1.1v2.2M527.4 101.5h2.2m-1.1 -1.1v2.2M527.4 97.1h2.2m-1.1 -1.1v2.2M527.4 90.3h2.2m-1.1 -1.1v2.2M527.4 85.2h2.2m-1.1 -1.1v2.2M527.4 78.9h2.2m-1.1 -1.1v2.2M527.4 71.9h2.2m-1.1 -1.1v2.2M527.4 62.9h2.2m-1.1 -1.1v2.2M527.4 53.9h2.2m-1.1 -1.1v2.2M527.4 46.6h2.2m-1.1 -1.1v2.2M527.4 42.6h2.2m-1.1 -1.1v2.2M527.4 40.1h2.2m-1.1 -1.1v2.2M527.4 37.7h2.2m-1.1 -1.1v2.2M527.4 35.3h2.2m-1.1 -1.1v2.2M527.4 32.9h2.2m-1.1 -1.1v2.2M527.4 30.6h2.2m-1.1 -1.1v2.2M527.4 25.9h2.2m-1.1 -1.1v2.2M527.4 23.6h2.2m-1.1 -1.1v2.2M527.4 16.7h2.2m-1.1 -1.1v2.2M549.8 104.2h2.2m-1.1 -1.1v2.2M549.8 100.6h2.2m-1.1 -1.1v2.2M549.8 93.9h2.2m-1.1 -1.1v2.2M549.8 90.3h2.2m-1.1 -1.1v2.2M549.8 84.8h2.2m-1.1 -1.1v2.2M549.8 72.2h2.2m-1.1 -1.1v2.2M549.8 53.4h2.2m-1.1 -1.1v2.2M549.8 48.1h2.2m-1.1 -1.1v2.2M549.8 43.7h2.2m-1.1 -1.1v2.2M549.8 41.3h2.2m-1.1 -1.1v2.2M549.8 38.9h2.2m-1.1 -1.1v2.2M549.8 36.6h2.2m-1.1 -1.1v2.2M549.8 29.6h2.2m-1.1 -1.1v2.2M549.8 27.3h2.2m-1.1 -1.1v2.2M549.8 25h2.2m-1.1 -1.1v2.2M549.8 22.7h2.2m-1.1 -1.1v2.2M549.8 18.2h2.2m-1.1 -1.1v2.2M565.7 96.3h2.2m-1.1 -1.1v2.2M565.7 92h2.2m-1.1 -1.1v2.2M565.7 86.3h2.2m-1.1 -1.1v2.2M565.7 81.3h2.2m-1.1 -1.1v2.2M565.7 76.2h2.2m-1.1 -1.1v2.2M565.7 69h2.2m-1.1 -1.1v2.2M565.7 63.2h2.2m-1.1 -1.1v2.2M565.7 56.6h2.2m-1.1 -1.1v2.2M565.7 47.3h2.2m-1.1 -1.1v2.2M565.7 44h2.2m-1.1 -1.1v2.2M565.7 39.3h2.2m-1.1 -1.1v2.2M565.7 37h2.2m-1.1 -1.1v2.2M565.7 34.7h2.2m-1.1 -1.1v2.2M565.7 30.2h2.2m-1.1 -1.1v2.2M565.7 28h2.2m-1.1 -1.1v2.2M565.7 25.7h2.2m-1.1 -1.1v2.2M565.7 23.5h2.2m-1.1 -1.1v2.2M565.7 21.3h2.2m-1.1 -1.1v2.2M565.7 19.2h2.2m-1.1 -1.1v2.2M565.7 17h2.2m-1.1 -1.1v2.2M578.1 96.7h2.2m-1.1 -1.1v2.2M578.1 92.8h2.2m-1.1 -1.1v2.2M578.1 87.3h2.2m-1.1 -1.1v2.2M578.1 83h2.2m-1.1 -1.1v2.2M578.1 78.8h2.2m-1.1 -1.1v2.2M578.1 73.4h2.2m-1.1 -1.1v2.2M578.1 64.2h2.2m-1.1 -1.1v2.2M578.1 55.2h2.2m-1.1 -1.1v2.2M578.1 50h2.2m-1.1 -1.1v2.2M578.1 45.9h2.2m-1.1 -1.1v2.2M578.1 43.3h2.2m-1.1 -1.1v2.2M578.1 41h2.2m-1.1 -1.1v2.2M578.1 38.8h2.2m-1.1 -1.1v2.2M578.1 36.5h2.2m-1.1 -1.1v2.2M578.1 34.3h2.2m-1.1 -1.1v2.2M578.1 32.1h2.2m-1.1 -1.1v2.2M578.1 29.9h2.2m-1.1 -1.1v2.2M578.1 27.7h2.2m-1.1 -1.1v2.2M578.1 25.5h2.2m-1.1 -1.1v2.2M578.1 23.3h2.2m-1.1 -1.1v2.2M578.1 21.2h2.2m-1.1 -1.1v2.2M578.1 19h2.2m-1.1 -1.1v2.2M578.1 16.9h2.2m-1.1 -1.1v2.2M588.2 97h2.2m-1.1 -1.1v2.2M588.2 92.6h2.2m-1.1 -1.1v2.2M588.2 88.1h2.2m-1.1 -1.1v2.2M588.2 84.6h2.2m-1.1 -1.1v2.2M588.2 80.4h2.2m-1.1 -1.1v2.2M588.2 75.5h2.2m-1.1 -1.1v2.2M588.2 70.8h2.2m-1.1 -1.1v2.2M588.2 67.2h2.2m-1.1 -1.1v2.2M588.2 63h2.2m-1.1 -1.1v2.2M588.2 58h2.2m-1.1 -1.1v2.2M588.2 54.5h2.2m-1.1 -1.1v2.2M588.2 51.1h2.2m-1.1 -1.1v2.2M588.2 47.8h2.2m-1.1 -1.1v2.2M588.2 42.7h2.2m-1.1 -1.1v2.2M588.2 38.3h2.2m-1.1 -1.1v2.2M588.2 36.1h2.2m-1.1 -1.1v2.2M588.2 33.9h2.2m-1.1 -1.1v2.2M588.2 31.7h2.2m-1.1 -1.1v2.2M588.2 29.6h2.2m-1.1 -1.1v2.2M588.2 27.4h2.2m-1.1 -1.1v2.2M588.2 25.3h2.2m-1.1 -1.1v2.2M588.2 21h2.2m-1.1 -1.1v2.2M588.2 18.9h2.2m-1.1 -1.1v2.2M596.7 97.2h2.2m-1.1 -1.1v2.2M596.7 93.8h2.2m-1.1 -1.1v2.2M596.7 89.6h2.2m-1.1 -1.1v2.2M596.7 85.5h2.2m-1.1 -1.1v2.2M596.7 81.7h2.2m-1.1 -1.1v2.2M596.7 77.6h2.2m-1.1 -1.1v2.2M596.7 73.8h2.2m-1.1 -1.1v2.2M596.7 70.6h2.2m-1.1 -1.1v2.2M596.7 66.6h2.2m-1.1 -1.1v2.2M596.7 63.1h2.2m-1.1 -1.1v2.2M596.7 59h2.2m-1.1 -1.1v2.2M596.7 55.6h2.2m-1.1 -1.1v2.2M596.7 52.2h2.2m-1.1 -1.1v2.2M596.7 49.2h2.2m-1.1 -1.1v2.2M596.7 46.6h2.2m-1.1 -1.1v2.2M596.7 44.2h2.2m-1.1 -1.1v2.2M596.7 39.9h2.2m-1.1 -1.1v2.2M596.7 37.7h2.2m-1.1 -1.1v2.2M596.7 35.6h2.2m-1.1 -1.1v2.2M596.7 33.5h2.2m-1.1 -1.1v2.2M596.7 31.3h2.2m-1.1 -1.1v2.2M596.7 29.2h2.2m-1.1 -1.1v2.2M596.7 27.1h2.2m-1.1 -1.1v2.2M596.7 25h2.2m-1.1 -1.1v2.2M596.7 23h2.2m-1.1 -1.1v2.2M596.7 20.9h2.2m-1.1 -1.1v2.2M596.7 18.8h2.2m-1.1 -1.1v2.2M596.7 16.8h2.2m-1.1 -1.1v2.2M604.1 97.4h2.2m-1.1 -1.1v2.2M604.1 94.2h2.2m-1.1 -1.1v2.2M604.1 91h2.2m-1.1 -1.1v2.2M604.1 87.8h2.2m-1.1 -1.1v2.2M604.1 84.6h2.2m-1.1 -1.1v2.2M604.1 78h2.2m-1.1 -1.1v2.2M604.1 74.7h2.2m-1.1 -1.1v2.2M604.1 71.4h2.2m-1.1 -1.1v2.2M604.1 68.2h2.2m-1.1 -1.1v2.2M604.1 65.1h2.2m-1.1 -1.1v2.2M604.1 58.9h2.2m-1.1 -1.1v2.2M604.1 56h2.2m-1.1 -1.1v2.2M604.1 53.1h2.2m-1.1 -1.1v2.2M604.1 50.4h2.2m-1.1 -1.1v2.2M604.1 47.9h2.2m-1.1 -1.1v2.2M604.1 45.6h2.2m-1.1 -1.1v2.2M604.1 43.5h2.2m-1.1 -1.1v2.2M604.1 41.4h2.2m-1.1 -1.1v2.2M604.1 39.3h2.2m-1.1 -1.1v2.2M604.1 37.2h2.2m-1.1 -1.1v2.2M604.1 35.1h2.2m-1.1 -1.1v2.2M604.1 33h2.2m-1.1 -1.1v2.2M604.1 31h2.2m-1.1 -1.1v2.2M604.1 26.9h2.2m-1.1 -1.1v2.2M604.1 24.8h2.2m-1.1 -1.1v2.2M604.1 20.7h2.2m-1.1 -1.1v2.2M604.1 18.7h2.2m-1.1 -1.1v2.2M610.6 97.6h2.2m-1.1 -1.1v2.2M610.6 94.4h2.2m-1.1 -1.1v2.2M610.6 91.2h2.2m-1.1 -1.1v2.2M610.6 87.9h2.2m-1.1 -1.1v2.2M610.6 84.7h2.2m-1.1 -1.1v2.2M610.6 81.4h2.2m-1.1 -1.1v2.2M610.6 78.1h2.2m-1.1 -1.1v2.2M610.6 74.7h2.2m-1.1 -1.1v2.2M610.6 71.4h2.2m-1.1 -1.1v2.2M610.6 68.2h2.2m-1.1 -1.1v2.2M610.6 65.1h2.2m-1.1 -1.1v2.2M610.6 62h2.2m-1.1 -1.1v2.2M610.6 59h2.2m-1.1 -1.1v2.2M610.6 53.3h2.2m-1.1 -1.1v2.2M610.6 50.6h2.2m-1.1 -1.1v2.2M610.6 48.1h2.2m-1.1 -1.1v2.2M610.6 45.8h2.2m-1.1 -1.1v2.2M610.6 43.5h2.2m-1.1 -1.1v2.2M610.6 41.4h2.2m-1.1 -1.1v2.2M610.6 39.3h2.2m-1.1 -1.1v2.2M610.6 37.2h2.2m-1.1 -1.1v2.2M610.6 35.1h2.2m-1.1 -1.1v2.2M610.6 33h2.2m-1.1 -1.1v2.2M610.6 30.9h2.2m-1.1 -1.1v2.2M610.6 28.9h2.2m-1.1 -1.1v2.2M610.6 26.8h2.2m-1.1 -1.1v2.2M610.6 24.7h2.2m-1.1 -1.1v2.2M610.6 20.6h2.2m-1.1 -1.1v2.2M610.6 18.6h2.2m-1.1 -1.1v2.2M610.6 16.6h2.2m-1.1 -1.1v2.2M616.4 97.8h2.2m-1.1 -1.1v2.2M616.4 94.5h2.2m-1.1 -1.1v2.2M616.4 91.3h2.2m-1.1 -1.1v2.2M616.4 88h2.2m-1.1 -1.1v2.2M616.4 84.7h2.2m-1.1 -1.1v2.2M616.4 78.1h2.2m-1.1 -1.1v2.2M616.4 74.7h2.2m-1.1 -1.1v2.2M616.4 71.4h2.2m-1.1 -1.1v2.2M616.4 68.2h2.2m-1.1 -1.1v2.2M616.4 65.1h2.2m-1.1 -1.1v2.2M616.4 62h2.2m-1.1 -1.1v2.2M616.4 59.1h2.2m-1.1 -1.1v2.2M616.4 56.2h2.2m-1.1 -1.1v2.2M616.4 53.4h2.2m-1.1 -1.1v2.2M616.4 50.8h2.2m-1.1 -1.1v2.2M616.4 48.3h2.2m-1.1 -1.1v2.2M616.4 43.6h2.2m-1.1 -1.1v2.2M616.4 41.5h2.2m-1.1 -1.1v2.2M616.4 39.4h2.2m-1.1 -1.1v2.2M616.4 37.2h2.2m-1.1 -1.1v2.2M616.4 35.1h2.2m-1.1 -1.1v2.2M616.4 33h2.2m-1.1 -1.1v2.2M616.4 26.8h2.2m-1.1 -1.1v2.2M616.4 24.7h2.2m-1.1 -1.1v2.2M616.4 22.6h2.2m-1.1 -1.1v2.2M616.4 18.5h2.2m-1.1 -1.1v2.2M616.4 16.4h2.2m-1.1 -1.1v2.2M621.7 98h2.2m-1.1 -1.1v2.2M621.7 94.8h2.2m-1.1 -1.1v2.2M621.7 91.6h2.2m-1.1 -1.1v2.2M621.7 88.4h2.2m-1.1 -1.1v2.2M621.7 85.2h2.2m-1.1 -1.1v2.2M621.7 81.9h2.2m-1.1 -1.1v2.2M621.7 78.6h2.2m-1.1 -1.1v2.2M621.7 75.3h2.2m-1.1 -1.1v2.2M621.7 72.1h2.2m-1.1 -1.1v2.2M621.7 69h2.2m-1.1 -1.1v2.2M621.7 65.9h2.2m-1.1 -1.1v2.2M621.7 63h2.2m-1.1 -1.1v2.2M621.7 60.1h2.2m-1.1 -1.1v2.2M621.7 57.3h2.2m-1.1 -1.1v2.2M621.7 54.7h2.2m-1.1 -1.1v2.2M621.7 52.1h2.2m-1.1 -1.1v2.2M621.7 49.7h2.2m-1.1 -1.1v2.2M621.7 47.3h2.2m-1.1 -1.1v2.2M621.7 45.1h2.2m-1.1 -1.1v2.2M621.7 43h2.2m-1.1 -1.1v2.2M621.7 40.9h2.2m-1.1 -1.1v2.2M621.7 38.8h2.2m-1.1 -1.1v2.2M621.7 34.6h2.2m-1.1 -1.1v2.2M621.7 30.5h2.2m-1.1 -1.1v2.2M621.7 28.5h2.2m-1.1 -1.1v2.2M621.7 26.4h2.2m-1.1 -1.1v2.2M621.7 24.4h2.2m-1.1 -1.1v2.2M621.7 22.4h2.2m-1.1 -1.1v2.2M621.7 20.3h2.2m-1.1 -1.1v2.2M621.7 16.3h2.2m-1.1 -1.1v2.2M626.5 98.1h2.2m-1.1 -1.1v2.2M626.5 94.9h2.2m-1.1 -1.1v2.2M626.5 91.7h2.2m-1.1 -1.1v2.2M626.5 88.5h2.2m-1.1 -1.1v2.2M626.5 85.2h2.2m-1.1 -1.1v2.2M626.5 82h2.2m-1.1 -1.1v2.2M626.5 78.7h2.2m-1.1 -1.1v2.2M626.5 72.1h2.2m-1.1 -1.1v2.2M626.5 68.9h2.2m-1.1 -1.1v2.2M626.5 63h2.2m-1.1 -1.1v2.2M626.5 60.1h2.2m-1.1 -1.1v2.2M626.5 57.4h2.2m-1.1 -1.1v2.2M626.5 54.8h2.2m-1.1 -1.1v2.2M626.5 52.3h2.2m-1.1 -1.1v2.2M626.5 49.8h2.2m-1.1 -1.1v2.2M626.5 47.5h2.2m-1.1 -1.1v2.2M626.5 45.2h2.2m-1.1 -1.1v2.2M626.5 40.9h2.2m-1.1 -1.1v2.2M626.5 38.8h2.2m-1.1 -1.1v2.2M626.5 36.8h2.2m-1.1 -1.1v2.2M626.5 34.7h2.2m-1.1 -1.1v2.2M626.5 32.6h2.2m-1.1 -1.1v2.2M626.5 30.5h2.2m-1.1 -1.1v2.2M626.5 28.5h2.2m-1.1 -1.1v2.2M626.5 26.4h2.2m-1.1 -1.1v2.2M626.5 24.4h2.2m-1.1 -1.1v2.2M626.5 22.3h2.2m-1.1 -1.1v2.2M626.5 20.3h2.2m-1.1 -1.1v2.2M626.5 18.2h2.2m-1.1 -1.1v2.2M626.5 16.2h2.2m-1.1 -1.1v2.2M630.9 98.2h2.2m-1.1 -1.1v2.2M630.9 95h2.2m-1.1 -1.1v2.2M630.9 91.8h2.2m-1.1 -1.1v2.2M630.9 88.6h2.2m-1.1 -1.1v2.2M630.9 85.3h2.2m-1.1 -1.1v2.2M630.9 82h2.2m-1.1 -1.1v2.2M630.9 78.7h2.2m-1.1 -1.1v2.2M630.9 75.3h2.2m-1.1 -1.1v2.2M630.9 72.1h2.2m-1.1 -1.1v2.2M630.9 68.9h2.2m-1.1 -1.1v2.2M630.9 65.9h2.2m-1.1 -1.1v2.2M630.9 63h2.2m-1.1 -1.1v2.2M630.9 60.2h2.2m-1.1 -1.1v2.2M630.9 57.5h2.2m-1.1 -1.1v2.2M630.9 54.9h2.2m-1.1 -1.1v2.2M630.9 50h2.2m-1.1 -1.1v2.2M630.9 47.6h2.2m-1.1 -1.1v2.2M630.9 45.3h2.2m-1.1 -1.1v2.2M630.9 41h2.2m-1.1 -1.1v2.2M630.9 36.8h2.2m-1.1 -1.1v2.2M630.9 34.7h2.2m-1.1 -1.1v2.2M630.9 32.6h2.2m-1.1 -1.1v2.2M630.9 30.5h2.2m-1.1 -1.1v2.2M630.9 28.5h2.2m-1.1 -1.1v2.2M630.9 26.4h2.2m-1.1 -1.1v2.2M630.9 24.3h2.2m-1.1 -1.1v2.2M630.9 22.3h2.2m-1.1 -1.1v2.2M630.9 20.2h2.2m-1.1 -1.1v2.2M630.9 18.2h2.2m-1.1 -1.1v2.2M630.9 16.1h2.2m-1.1 -1.1v2.2M635 98.3h2.2m-1.1 -1.1v2.2M635 95.2h2.2m-1.1 -1.1v2.2M635 91.9h2.2m-1.1 -1.1v2.2M635 88.6h2.2m-1.1 -1.1v2.2M635 85.3h2.2m-1.1 -1.1v2.2M635 78.7h2.2m-1.1 -1.1v2.2M635 72h2.2m-1.1 -1.1v2.2M635 68.9h2.2m-1.1 -1.1v2.2M635 65.9h2.2m-1.1 -1.1v2.2M635 63h2.2m-1.1 -1.1v2.2M635 60.2h2.2m-1.1 -1.1v2.2M635 57.6h2.2m-1.1 -1.1v2.2M635 55h2.2m-1.1 -1.1v2.2M635 52.5h2.2m-1.1 -1.1v2.2M635 50.1h2.2m-1.1 -1.1v2.2M635 47.7h2.2m-1.1 -1.1v2.2M635 45.4h2.2m-1.1 -1.1v2.2M635 43.2h2.2m-1.1 -1.1v2.2M635 41h2.2m-1.1 -1.1v2.2M635 38.9h2.2m-1.1 -1.1v2.2M635 34.7h2.2m-1.1 -1.1v2.2M635 28.4h2.2m-1.1 -1.1v2.2M635 26.4h2.2m-1.1 -1.1v2.2M635 24.3h2.2m-1.1 -1.1v2.2M635 22.2h2.2m-1.1 -1.1v2.2M635 18.1h2.2m-1.1 -1.1v2.2M635 16h2.2m-1.1 -1.1v2.2M638.8 98.5h2.2m-1.1 -1.1v2.2M638.8 95.4h2.2m-1.1 -1.1v2.2M638.8 92.2h2.2m-1.1 -1.1v2.2M638.8 89h2.2m-1.1 -1.1v2.2M638.8 82.5h2.2m-1.1 -1.1v2.2M638.8 79.2h2.2m-1.1 -1.1v2.2M638.8 75.9h2.2m-1.1 -1.1v2.2M638.8 66.7h2.2m-1.1 -1.1v2.2M638.8 61.2h2.2m-1.1 -1.1v2.2M638.8 56.2h2.2m-1.1 -1.1v2.2M638.8 49.1h2.2m-1.1 -1.1v2.2M638.8 46.8h2.2m-1.1 -1.1v2.2M638.8 44.7h2.2m-1.1 -1.1v2.2M638.8 42.5h2.2m-1.1 -1.1v2.2M638.8 38.4h2.2m-1.1 -1.1v2.2M638.8 36.3h2.2m-1.1 -1.1v2.2M638.8 34.3h2.2m-1.1 -1.1v2.2M638.8 32.2h2.2m-1.1 -1.1v2.2M638.8 28.1h2.2m-1.1 -1.1v2.2M638.8 26.1h2.2m-1.1 -1.1v2.2M638.8 24h2.2m-1.1 -1.1v2.2M638.8 22h2.2m-1.1 -1.1v2.2M638.8 20h2.2m-1.1 -1.1v2.2M638.8 18h2.2m-1.1 -1.1v2.2M638.8 15.9h2.2m-1.1 -1.1v2.2M642.4 92.3h2.2m-1.1 -1.1v2.2M642.4 89h2.2m-1.1 -1.1v2.2M642.4 82.5h2.2m-1.1 -1.1v2.2M642.4 79.2h2.2m-1.1 -1.1v2.2M642.4 75.9h2.2m-1.1 -1.1v2.2M642.4 72.7h2.2m-1.1 -1.1v2.2M642.4 69.6h2.2m-1.1 -1.1v2.2M642.4 63.9h2.2m-1.1 -1.1v2.2M642.4 61.2h2.2m-1.1 -1.1v2.2M642.4 58.7h2.2m-1.1 -1.1v2.2M642.4 56.2h2.2m-1.1 -1.1v2.2M642.4 53.8h2.2m-1.1 -1.1v2.2M642.4 51.5h2.2m-1.1 -1.1v2.2M642.4 49.2h2.2m-1.1 -1.1v2.2M642.4 47h2.2m-1.1 -1.1v2.2M642.4 44.8h2.2m-1.1 -1.1v2.2M642.4 42.6h2.2m-1.1 -1.1v2.2M642.4 40.5h2.2m-1.1 -1.1v2.2M642.4 38.4h2.2m-1.1 -1.1v2.2M642.4 36.4h2.2m-1.1 -1.1v2.2M642.4 34.3h2.2m-1.1 -1.1v2.2M642.4 32.2h2.2m-1.1 -1.1v2.2M642.4 30.2h2.2m-1.1 -1.1v2.2M642.4 26.1h2.2m-1.1 -1.1v2.2M642.4 24h2.2m-1.1 -1.1v2.2M642.4 22h2.2m-1.1 -1.1v2.2M642.4 19.9h2.2m-1.1 -1.1v2.2M642.4 17.9h2.2m-1.1 -1.1v2.2M642.4 15.9h2.2m-1.1 -1.1v2.2M645.7 98.7h2.2m-1.1 -1.1v2.2M645.7 95.6h2.2m-1.1 -1.1v2.2M645.7 92.4h2.2m-1.1 -1.1v2.2M645.7 89.1h2.2m-1.1 -1.1v2.2M645.7 85.8h2.2m-1.1 -1.1v2.2M645.7 82.5h2.2m-1.1 -1.1v2.2M645.7 79.2h2.2m-1.1 -1.1v2.2M645.7 75.8h2.2m-1.1 -1.1v2.2M645.7 72.6h2.2m-1.1 -1.1v2.2M645.7 69.6h2.2m-1.1 -1.1v2.2M645.7 66.6h2.2m-1.1 -1.1v2.2M645.7 61.2h2.2m-1.1 -1.1v2.2M645.7 58.7h2.2m-1.1 -1.1v2.2M645.7 56.3h2.2m-1.1 -1.1v2.2M645.7 53.9h2.2m-1.1 -1.1v2.2M645.7 51.6h2.2m-1.1 -1.1v2.2M645.7 47.1h2.2m-1.1 -1.1v2.2M645.7 44.9h2.2m-1.1 -1.1v2.2M645.7 42.7h2.2m-1.1 -1.1v2.2M645.7 40.6h2.2m-1.1 -1.1v2.2M645.7 38.5h2.2m-1.1 -1.1v2.2M645.7 36.4h2.2m-1.1 -1.1v2.2M645.7 34.3h2.2m-1.1 -1.1v2.2M645.7 32.2h2.2m-1.1 -1.1v2.2M645.7 30.2h2.2m-1.1 -1.1v2.2M645.7 28.1h2.2m-1.1 -1.1v2.2M645.7 24h2.2m-1.1 -1.1v2.2M645.7 21.9h2.2m-1.1 -1.1v2.2M645.7 19.9h2.2m-1.1 -1.1v2.2M645.7 17.8h2.2m-1.1 -1.1v2.2M645.7 15.8h2.2m-1.1 -1.1v2.2M648.9 98.8h2.2m-1.1 -1.1v2.2M648.9 95.6h2.2m-1.1 -1.1v2.2M648.9 92.4h2.2m-1.1 -1.1v2.2M648.9 89.1h2.2m-1.1 -1.1v2.2M648.9 85.8h2.2m-1.1 -1.1v2.2M648.9 82.5h2.2m-1.1 -1.1v2.2M648.9 79.2h2.2m-1.1 -1.1v2.2M648.9 75.8h2.2m-1.1 -1.1v2.2M648.9 72.6h2.2m-1.1 -1.1v2.2M648.9 66.6h2.2m-1.1 -1.1v2.2M648.9 63.9h2.2m-1.1 -1.1v2.2M648.9 61.2h2.2m-1.1 -1.1v2.2M648.9 58.8h2.2m-1.1 -1.1v2.2M648.9 56.4h2.2m-1.1 -1.1v2.2M648.9 54h2.2m-1.1 -1.1v2.2M648.9 51.7h2.2m-1.1 -1.1v2.2M648.9 49.4h2.2m-1.1 -1.1v2.2M648.9 47.1h2.2m-1.1 -1.1v2.2M648.9 44.9h2.2m-1.1 -1.1v2.2M648.9 42.8h2.2m-1.1 -1.1v2.2M648.9 40.6h2.2m-1.1 -1.1v2.2M648.9 38.5h2.2m-1.1 -1.1v2.2M648.9 36.4h2.2m-1.1 -1.1v2.2M648.9 34.3h2.2m-1.1 -1.1v2.2M648.9 32.3h2.2m-1.1 -1.1v2.2M648.9 30.2h2.2m-1.1 -1.1v2.2M648.9 28.1h2.2m-1.1 -1.1v2.2M648.9 24h2.2m-1.1 -1.1v2.2M648.9 21.9h2.2m-1.1 -1.1v2.2M648.9 17.8h2.2m-1.1 -1.1v2.2M648.9 15.7h2.2m-1.1 -1.1v2.2M651.9 98.9h2.2m-1.1 -1.1v2.2M651.9 95.8h2.2m-1.1 -1.1v2.2M651.9 92.7h2.2m-1.1 -1.1v2.2M651.9 89.5h2.2m-1.1 -1.1v2.2M651.9 79.7h2.2m-1.1 -1.1v2.2M651.9 76.4h2.2m-1.1 -1.1v2.2M651.9 73.2h2.2m-1.1 -1.1v2.2M651.9 70.2h2.2m-1.1 -1.1v2.2M651.9 67.4h2.2m-1.1 -1.1v2.2M651.9 64.7h2.2m-1.1 -1.1v2.2M651.9 62.2h2.2m-1.1 -1.1v2.2M651.9 59.8h2.2m-1.1 -1.1v2.2M651.9 57.5h2.2m-1.1 -1.1v2.2M651.9 55.2h2.2m-1.1 -1.1v2.2M651.9 52.9h2.2m-1.1 -1.1v2.2M651.9 50.7h2.2m-1.1 -1.1v2.2M651.9 46.3h2.2m-1.1 -1.1v2.2M651.9 44.2h2.2m-1.1 -1.1v2.2M651.9 38h2.2m-1.1 -1.1v2.2M651.9 35.9h2.2m-1.1 -1.1v2.2M651.9 33.9h2.2m-1.1 -1.1v2.2M651.9 31.9h2.2m-1.1 -1.1v2.2M651.9 29.8h2.2m-1.1 -1.1v2.2M651.9 25.8h2.2m-1.1 -1.1v2.2M651.9 23.7h2.2m-1.1 -1.1v2.2M651.9 19.7h2.2m-1.1 -1.1v2.2M651.9 17.7h2.2m-1.1 -1.1v2.2M651.9 15.7h2.2m-1.1 -1.1v2.2M654.7 99h2.2m-1.1 -1.1v2.2M654.7 95.9h2.2m-1.1 -1.1v2.2M654.7 92.7h2.2m-1.1 -1.1v2.2M654.7 89.5h2.2m-1.1 -1.1v2.2M654.7 86.3h2.2m-1.1 -1.1v2.2M654.7 83h2.2m-1.1 -1.1v2.2M654.7 79.7h2.2m-1.1 -1.1v2.2M654.7 76.4h2.2m-1.1 -1.1v2.2M654.7 73.2h2.2m-1.1 -1.1v2.2M654.7 67.4h2.2m-1.1 -1.1v2.2M654.7 64.7h2.2m-1.1 -1.1v2.2M654.7 62.2h2.2m-1.1 -1.1v2.2M654.7 59.8h2.2m-1.1 -1.1v2.2M654.7 57.5h2.2m-1.1 -1.1v2.2M654.7 53h2.2m-1.1 -1.1v2.2M654.7 50.8h2.2m-1.1 -1.1v2.2M654.7 48.6h2.2m-1.1 -1.1v2.2M654.7 46.4h2.2m-1.1 -1.1v2.2M654.7 42.2h2.2m-1.1 -1.1v2.2M654.7 40.1h2.2m-1.1 -1.1v2.2M654.7 38h2.2m-1.1 -1.1v2.2M654.7 36h2.2m-1.1 -1.1v2.2M654.7 33.9h2.2m-1.1 -1.1v2.2M654.7 31.9h2.2m-1.1 -1.1v2.2M654.7 29.8h2.2m-1.1 -1.1v2.2M654.7 25.7h2.2m-1.1 -1.1v2.2M654.7 23.7h2.2m-1.1 -1.1v2.2M654.7 19.6h2.2m-1.1 -1.1v2.2M654.7 17.6h2.2m-1.1 -1.1v2.2M654.7 15.6h2.2m-1.1 -1.1v2.2" stroke="#bcbcbc" stroke-width="0.8" fill="none"/>
<g fill="#0000ff"><circle cx="490.2" cy="77.2" r="2.35"/><circle cx="490.2" cy="121.7" r="2.35"/><circle cx="490.2" cy="123.7" r="2.35"/><circle cx="490.2" cy="125.6" r="2.35"/><circle cx="490.2" cy="127.6" r="2.35"/><circle cx="528.5" cy="74.3" r="2.35"/><circle cx="528.5" cy="79.3" r="2.35"/><circle cx="528.5" cy="105" r="2.35"/><circle cx="528.5" cy="106.9" r="2.35"/><circle cx="528.5" cy="108.8" r="2.35"/><circle cx="528.5" cy="110.7" r="2.35"/><circle cx="528.5" cy="112.6" r="2.35"/><circle cx="528.5" cy="114.5" r="2.35"/><circle cx="528.5" cy="116.4" r="2.35"/><circle cx="550.9" cy="77.5" r="2.35"/><circle cx="550.9" cy="98.1" r="2.35"/><circle cx="550.9" cy="100.2" r="2.35"/><circle cx="550.9" cy="102.3" r="2.35"/><circle cx="550.9" cy="104.4" r="2.35"/><circle cx="550.9" cy="106.5" r="2.35"/></g>
<path d="M470.7 139.1h2M663.3 139.1h-2M470.7 135.8h2M663.3 135.8h-2M470.7 132.9h4M663.3 132.9h-4M470.7 113.5h2M663.3 113.5h-2M470.7 102.1h2M663.3 102.1h-2M470.7 94.1h2M663.3 94.1h-2M470.7 87.8h2M663.3 87.8h-2M470.7 82.7h2M663.3 82.7h-2M470.7 78.4h2M663.3 78.4h-2M470.7 74.7h2M663.3 74.7h-2M470.7 71.4h2M663.3 71.4h-2M470.7 68.5h4M663.3 68.5h-4M470.7 49.1h2M663.3 49.1h-2M470.7 37.7h2M663.3 37.7h-2M470.7 29.7h2M663.3 29.7h-2M470.7 23.4h2M663.3 23.4h-2M470.7 18.3h2M663.3 18.3h-2M470.7 14h2M663.3 14h-2M470.7 10.3h2M663.3 10.3h-2M470.7 7h2M663.3 7h-2M470.7 4h4M663.3 4h-4M477.9 1.4v1.6M477.9 142.6v-1.7M484.4 1.4v1.6M484.4 142.6v-1.7M490.2 1.4v2.7M490.2 142.6v-3.2M528.5 1.4v1.6M528.5 142.6v-1.7M550.9 1.4v1.6M550.9 142.6v-1.7M566.8 1.4v1.6M566.8 142.6v-1.7M579.2 1.4v1.6M579.2 142.6v-1.7M589.3 1.4v1.6M589.3 142.6v-1.7M597.8 1.4v1.6M597.8 142.6v-1.7M605.2 1.4v1.6M605.2 142.6v-1.7M611.7 1.4v1.6M611.7 142.6v-1.7M617.5 1.4v2.7M617.5 142.6v-3.2M655.8 1.4v1.6M655.8 142.6v-1.7" stroke="#000" stroke-width="1.1" fill="none"/>
<rect x="470.7" y="1.4" width="192.6" height="141.2" fill="none" stroke="#000" stroke-width="1.25"/>
<g font-size="16" fill="#2e2e2e" class="t">
<text x="504" y="24.2">C</text>
<text x="597.4" y="108" textLength="33.6" lengthAdjust="spacing">30M</text>
<circle cx="636.3" cy="107.8" r="3.4" fill="none" stroke="#222" stroke-width="1.1"/><circle cx="636.3" cy="107.8" r="0.95"/>
<text x="584.6" y="133.7" textLength="34.4" lengthAdjust="spacing">post</text>
<text x="633.8" y="133.7" textLength="23.6" lengthAdjust="spacing">MS</text>
<path d="M621.6 128.1h10.4" stroke="#2e2e2e" stroke-width="1.2" fill="none"/>
</g>
</g>
<g>
<rect x="84.2" y="150.6" width="11.1" height="135.2" fill="#e1e1e1"/>
<path d="M90 256.7V288.4M128.3 240.7V288.4" stroke="#cbcbcb" stroke-opacity="0.9" stroke-width="2.3" fill="none"/>
<path d="M150.7 231.5V288.4M166.6 225.6V288.4M179 223.3V288.4" stroke="#cbcbcb" stroke-opacity="0.95" stroke-width="2.3" fill="none"/>
<path d="M189.1 221.4V288.4M197.6 219.8V288.4M205 218.5V284.9M211.5 203.8V280.1M217.3 201.9V279.9M222.6 202.5V279.8M227.4 203V279.7M231.8 203.4V279.5M235.9 203.8V279.4M239.7 204.2V279.3M243.3 204.6V279.2M246.6 205V279.1M249.8 205.3V279.1M252.8 205.6V279M255.6 205.9V278.9" stroke="#cbcbcb" stroke-opacity="1.0" stroke-width="2.3" fill="none"/>
<path d="M88.9 248.9h2.2m-1.1 -1.1v2.2M88.9 250.4h2.2m-1.1 -1.1v2.2M88.9 251.9h2.2m-1.1 -1.1v2.2M88.9 253.4h2.2m-1.1 -1.1v2.2M88.9 254.7h2.2m-1.1 -1.1v2.2M88.9 256.1h2.2m-1.1 -1.1v2.2M88.9 247.3h2.2m-1.1 -1.1v2.2M88.9 245.4h2.2m-1.1 -1.1v2.2M88.9 243.3h2.2m-1.1 -1.1v2.2M88.9 240.9h2.2m-1.1 -1.1v2.2M88.9 238h2.2m-1.1 -1.1v2.2M88.9 234.8h2.2m-1.1 -1.1v2.2M88.9 231.6h2.2m-1.1 -1.1v2.2M88.9 226.6h2.2m-1.1 -1.1v2.2M88.9 221.7h2.2m-1.1 -1.1v2.2M88.9 212.7h2.2m-1.1 -1.1v2.2M88.9 202.8h2.2m-1.1 -1.1v2.2M88.9 192h2.2m-1.1 -1.1v2.2M88.9 174.7h2.2m-1.1 -1.1v2.2M88.9 161.8h2.2m-1.1 -1.1v2.2M88.9 156h2.2m-1.1 -1.1v2.2M88.9 150.4h2.2m-1.1 -1.1v2.2M127.2 232.9h2.2m-1.1 -1.1v2.2M127.2 234.4h2.2m-1.1 -1.1v2.2M127.2 235.9h2.2m-1.1 -1.1v2.2M127.2 237.4h2.2m-1.1 -1.1v2.2M127.2 238.7h2.2m-1.1 -1.1v2.2M127.2 240.1h2.2m-1.1 -1.1v2.2M127.2 231.3h2.2m-1.1 -1.1v2.2M127.2 229.5h2.2m-1.1 -1.1v2.2M127.2 227.5h2.2m-1.1 -1.1v2.2M127.2 225.3h2.2m-1.1 -1.1v2.2M127.2 222.8h2.2m-1.1 -1.1v2.2M127.2 220h2.2m-1.1 -1.1v2.2M127.2 216.9h2.2m-1.1 -1.1v2.2M127.2 213.5h2.2m-1.1 -1.1v2.2M127.2 210.5h2.2m-1.1 -1.1v2.2M127.2 206.9h2.2m-1.1 -1.1v2.2M127.2 203.7h2.2m-1.1 -1.1v2.2M127.2 198.9h2.2m-1.1 -1.1v2.2M127.2 194.1h2.2m-1.1 -1.1v2.2M127.2 188.3h2.2m-1.1 -1.1v2.2M127.2 180.8h2.2m-1.1 -1.1v2.2M127.2 170.7h2.2m-1.1 -1.1v2.2M127.2 163.2h2.2m-1.1 -1.1v2.2M127.2 159.9h2.2m-1.1 -1.1v2.2M127.2 156.7h2.2m-1.1 -1.1v2.2M127.2 153.5h2.2m-1.1 -1.1v2.2M127.2 150.4h2.2m-1.1 -1.1v2.2M149.6 218.9h2.2m-1.1 -1.1v2.2M149.6 220.4h2.2m-1.1 -1.1v2.2M149.6 221.9h2.2m-1.1 -1.1v2.2M149.6 223.4h2.2m-1.1 -1.1v2.2M149.6 224.7h2.2m-1.1 -1.1v2.2M149.6 226.1h2.2m-1.1 -1.1v2.2M149.6 227.3h2.2m-1.1 -1.1v2.2M149.6 228.6h2.2m-1.1 -1.1v2.2M149.6 229.8h2.2m-1.1 -1.1v2.2M149.6 230.9h2.2m-1.1 -1.1v2.2M149.6 217.3h2.2m-1.1 -1.1v2.2M149.6 215.6h2.2m-1.1 -1.1v2.2M149.6 213.6h2.2m-1.1 -1.1v2.2M149.6 211.4h2.2m-1.1 -1.1v2.2M149.6 208.8h2.2m-1.1 -1.1v2.2M149.6 206h2.2m-1.1 -1.1v2.2M149.6 202.8h2.2m-1.1 -1.1v2.2M149.6 199.4h2.2m-1.1 -1.1v2.2M149.6 195.7h2.2m-1.1 -1.1v2.2M149.6 191.5h2.2m-1.1 -1.1v2.2M149.6 187.6h2.2m-1.1 -1.1v2.2M149.6 182.2h2.2m-1.1 -1.1v2.2M149.6 175.6h2.2m-1.1 -1.1v2.2M149.6 166h2.2m-1.1 -1.1v2.2M149.6 162.8h2.2m-1.1 -1.1v2.2M149.6 159.7h2.2m-1.1 -1.1v2.2M149.6 156.6h2.2m-1.1 -1.1v2.2M149.6 153.5h2.2m-1.1 -1.1v2.2M149.6 150.4h2.2m-1.1 -1.1v2.2M165.5 213h2.2m-1.1 -1.1v2.2M165.5 214.6h2.2m-1.1 -1.1v2.2M165.5 216h2.2m-1.1 -1.1v2.2M165.5 217.5h2.2m-1.1 -1.1v2.2M165.5 218.8h2.2m-1.1 -1.1v2.2M165.5 220.2h2.2m-1.1 -1.1v2.2M165.5 221.4h2.2m-1.1 -1.1v2.2M165.5 222.7h2.2m-1.1 -1.1v2.2M165.5 223.9h2.2m-1.1 -1.1v2.2M165.5 225h2.2m-1.1 -1.1v2.2M165.5 211.4h2.2m-1.1 -1.1v2.2M165.5 209.6h2.2m-1.1 -1.1v2.2M165.5 207.5h2.2m-1.1 -1.1v2.2M165.5 205.1h2.2m-1.1 -1.1v2.2M165.5 202.3h2.2m-1.1 -1.1v2.2M165.5 199.2h2.2m-1.1 -1.1v2.2M165.5 195.9h2.2m-1.1 -1.1v2.2M165.5 192h2.2m-1.1 -1.1v2.2M165.5 188.7h2.2m-1.1 -1.1v2.2M165.5 183.5h2.2m-1.1 -1.1v2.2M165.5 178h2.2m-1.1 -1.1v2.2M165.5 170.3h2.2m-1.1 -1.1v2.2M165.5 166.5h2.2m-1.1 -1.1v2.2M165.5 163.2h2.2m-1.1 -1.1v2.2M165.5 160h2.2m-1.1 -1.1v2.2M165.5 156.7h2.2m-1.1 -1.1v2.2M165.5 153.6h2.2m-1.1 -1.1v2.2M165.5 150.4h2.2m-1.1 -1.1v2.2M177.9 210.7h2.2m-1.1 -1.1v2.2M177.9 212.3h2.2m-1.1 -1.1v2.2M177.9 213.8h2.2m-1.1 -1.1v2.2M177.9 215.2h2.2m-1.1 -1.1v2.2M177.9 216.6h2.2m-1.1 -1.1v2.2M177.9 217.9h2.2m-1.1 -1.1v2.2M177.9 219.2h2.2m-1.1 -1.1v2.2M177.9 220.4h2.2m-1.1 -1.1v2.2M177.9 221.6h2.2m-1.1 -1.1v2.2M177.9 222.7h2.2m-1.1 -1.1v2.2M177.9 209.1h2.2m-1.1 -1.1v2.2M177.9 207.3h2.2m-1.1 -1.1v2.2M177.9 205.1h2.2m-1.1 -1.1v2.2M177.9 202.7h2.2m-1.1 -1.1v2.2M177.9 196.8h2.2m-1.1 -1.1v2.2M177.9 193.4h2.2m-1.1 -1.1v2.2M177.9 190.1h2.2m-1.1 -1.1v2.2M177.9 185.4h2.2m-1.1 -1.1v2.2M177.9 180.9h2.2m-1.1 -1.1v2.2M177.9 175.8h2.2m-1.1 -1.1v2.2M177.9 168.5h2.2m-1.1 -1.1v2.2M177.9 165.3h2.2m-1.1 -1.1v2.2M177.9 162.3h2.2m-1.1 -1.1v2.2M177.9 159.3h2.2m-1.1 -1.1v2.2M177.9 156.3h2.2m-1.1 -1.1v2.2M177.9 153.3h2.2m-1.1 -1.1v2.2M177.9 150.4h2.2m-1.1 -1.1v2.2M188 208.8h2.2m-1.1 -1.1v2.2M188 210.4h2.2m-1.1 -1.1v2.2M188 211.9h2.2m-1.1 -1.1v2.2M188 213.3h2.2m-1.1 -1.1v2.2M188 214.7h2.2m-1.1 -1.1v2.2M188 216h2.2m-1.1 -1.1v2.2M188 217.3h2.2m-1.1 -1.1v2.2M188 218.5h2.2m-1.1 -1.1v2.2M188 219.7h2.2m-1.1 -1.1v2.2M188 220.9h2.2m-1.1 -1.1v2.2M188 205.4h2.2m-1.1 -1.1v2.2M188 203.3h2.2m-1.1 -1.1v2.2M188 200.9h2.2m-1.1 -1.1v2.2M188 194.9h2.2m-1.1 -1.1v2.2M188 191.6h2.2m-1.1 -1.1v2.2M188 187.2h2.2m-1.1 -1.1v2.2M188 183.9h2.2m-1.1 -1.1v2.2M188 178.6h2.2m-1.1 -1.1v2.2M188 173.4h2.2m-1.1 -1.1v2.2M188 166.9h2.2m-1.1 -1.1v2.2M188 164.1h2.2m-1.1 -1.1v2.2M188 161.4h2.2m-1.1 -1.1v2.2M188 158.6h2.2m-1.1 -1.1v2.2M188 155.8h2.2m-1.1 -1.1v2.2M188 153.1h2.2m-1.1 -1.1v2.2M196.5 207.3h2.2m-1.1 -1.1v2.2M196.5 208.8h2.2m-1.1 -1.1v2.2M196.5 210.3h2.2m-1.1 -1.1v2.2M196.5 211.7h2.2m-1.1 -1.1v2.2M196.5 213.1h2.2m-1.1 -1.1v2.2M196.5 214.4h2.2m-1.1 -1.1v2.2M196.5 215.7h2.2m-1.1 -1.1v2.2M196.5 216.9h2.2m-1.1 -1.1v2.2M196.5 218.1h2.2m-1.1 -1.1v2.2M196.5 219.3h2.2m-1.1 -1.1v2.2M196.5 205.6h2.2m-1.1 -1.1v2.2M196.5 203.8h2.2m-1.1 -1.1v2.2M196.5 201.6h2.2m-1.1 -1.1v2.2M196.5 199.1h2.2m-1.1 -1.1v2.2M196.5 196.3h2.2m-1.1 -1.1v2.2M196.5 189.8h2.2m-1.1 -1.1v2.2M196.5 186.7h2.2m-1.1 -1.1v2.2M196.5 182.5h2.2m-1.1 -1.1v2.2M196.5 173.3h2.2m-1.1 -1.1v2.2M196.5 169.1h2.2m-1.1 -1.1v2.2M196.5 166.1h2.2m-1.1 -1.1v2.2M196.5 163.4h2.2m-1.1 -1.1v2.2M196.5 160.8h2.2m-1.1 -1.1v2.2M196.5 155.6h2.2m-1.1 -1.1v2.2M196.5 153h2.2m-1.1 -1.1v2.2M196.5 150.4h2.2m-1.1 -1.1v2.2M203.9 205.9h2.2m-1.1 -1.1v2.2M203.9 207.4h2.2m-1.1 -1.1v2.2M203.9 208.9h2.2m-1.1 -1.1v2.2M203.9 210.4h2.2m-1.1 -1.1v2.2M203.9 211.7h2.2m-1.1 -1.1v2.2M203.9 213.1h2.2m-1.1 -1.1v2.2M203.9 214.3h2.2m-1.1 -1.1v2.2M203.9 215.6h2.2m-1.1 -1.1v2.2M203.9 216.8h2.2m-1.1 -1.1v2.2M203.9 217.9h2.2m-1.1 -1.1v2.2M203.9 204.3h2.2m-1.1 -1.1v2.2M203.9 202.5h2.2m-1.1 -1.1v2.2M203.9 198h2.2m-1.1 -1.1v2.2M203.9 195.1h2.2m-1.1 -1.1v2.2M203.9 192.1h2.2m-1.1 -1.1v2.2M203.9 188.8h2.2m-1.1 -1.1v2.2M203.9 185.5h2.2m-1.1 -1.1v2.2M203.9 182.2h2.2m-1.1 -1.1v2.2M203.9 177.3h2.2m-1.1 -1.1v2.2M203.9 173h2.2m-1.1 -1.1v2.2M203.9 169.8h2.2m-1.1 -1.1v2.2M203.9 167.2h2.2m-1.1 -1.1v2.2M203.9 164.7h2.2m-1.1 -1.1v2.2M203.9 159.9h2.2m-1.1 -1.1v2.2M203.9 157.5h2.2m-1.1 -1.1v2.2M203.9 155.1h2.2m-1.1 -1.1v2.2M203.9 152.8h2.2m-1.1 -1.1v2.2M203.9 150.4h2.2m-1.1 -1.1v2.2M210.4 202h2.2m-1.1 -1.1v2.2M210.4 199.7h2.2m-1.1 -1.1v2.2M210.4 197.1h2.2m-1.1 -1.1v2.2M210.4 194.2h2.2m-1.1 -1.1v2.2M210.4 187.7h2.2m-1.1 -1.1v2.2M210.4 183.8h2.2m-1.1 -1.1v2.2M210.4 180.6h2.2m-1.1 -1.1v2.2M210.4 171.1h2.2m-1.1 -1.1v2.2M210.4 167.6h2.2m-1.1 -1.1v2.2M210.4 165.1h2.2m-1.1 -1.1v2.2M210.4 162.6h2.2m-1.1 -1.1v2.2M210.4 160.2h2.2m-1.1 -1.1v2.2M210.4 157.7h2.2m-1.1 -1.1v2.2M210.4 155.3h2.2m-1.1 -1.1v2.2M210.4 150.4h2.2m-1.1 -1.1v2.2M216.2 200.2h2.2m-1.1 -1.1v2.2M216.2 197.8h2.2m-1.1 -1.1v2.2M216.2 195.2h2.2m-1.1 -1.1v2.2M216.2 192.3h2.2m-1.1 -1.1v2.2M216.2 189.1h2.2m-1.1 -1.1v2.2M216.2 185.5h2.2m-1.1 -1.1v2.2M216.2 181.5h2.2m-1.1 -1.1v2.2M216.2 177.7h2.2m-1.1 -1.1v2.2M216.2 174h2.2m-1.1 -1.1v2.2M216.2 169.9h2.2m-1.1 -1.1v2.2M216.2 167.2h2.2m-1.1 -1.1v2.2M216.2 164.8h2.2m-1.1 -1.1v2.2M216.2 162.4h2.2m-1.1 -1.1v2.2M216.2 159.9h2.2m-1.1 -1.1v2.2M216.2 157.5h2.2m-1.1 -1.1v2.2M216.2 155.1h2.2m-1.1 -1.1v2.2M216.2 152.8h2.2m-1.1 -1.1v2.2M216.2 150.4h2.2m-1.1 -1.1v2.2M221.5 200.6h2.2m-1.1 -1.1v2.2M221.5 198.1h2.2m-1.1 -1.1v2.2M221.5 195.3h2.2m-1.1 -1.1v2.2M221.5 188.9h2.2m-1.1 -1.1v2.2M221.5 185.5h2.2m-1.1 -1.1v2.2M221.5 181.6h2.2m-1.1 -1.1v2.2M221.5 176.3h2.2m-1.1 -1.1v2.2M221.5 171h2.2m-1.1 -1.1v2.2M221.5 167.7h2.2m-1.1 -1.1v2.2M221.5 165.1h2.2m-1.1 -1.1v2.2M221.5 162.7h2.2m-1.1 -1.1v2.2M221.5 157.7h2.2m-1.1 -1.1v2.2M221.5 155.3h2.2m-1.1 -1.1v2.2M221.5 150.4h2.2m-1.1 -1.1v2.2M226.3 201h2.2m-1.1 -1.1v2.2M226.3 198.5h2.2m-1.1 -1.1v2.2M226.3 195.7h2.2m-1.1 -1.1v2.2M226.3 189.3h2.2m-1.1 -1.1v2.2M226.3 184.7h2.2m-1.1 -1.1v2.2M226.3 180.2h2.2m-1.1 -1.1v2.2M226.3 175h2.2m-1.1 -1.1v2.2M226.3 170.2h2.2m-1.1 -1.1v2.2M226.3 167.4h2.2m-1.1 -1.1v2.2M226.3 164.9h2.2m-1.1 -1.1v2.2M226.3 162.4h2.2m-1.1 -1.1v2.2M226.3 160h2.2m-1.1 -1.1v2.2M226.3 157.6h2.2m-1.1 -1.1v2.2M226.3 155.2h2.2m-1.1 -1.1v2.2M226.3 152.8h2.2m-1.1 -1.1v2.2M226.3 150.4h2.2m-1.1 -1.1v2.2M230.7 201.5h2.2m-1.1 -1.1v2.2M230.7 198.8h2.2m-1.1 -1.1v2.2M230.7 196h2.2m-1.1 -1.1v2.2M230.7 192.9h2.2m-1.1 -1.1v2.2M230.7 189.6h2.2m-1.1 -1.1v2.2M230.7 185.7h2.2m-1.1 -1.1v2.2M230.7 182.6h2.2m-1.1 -1.1v2.2M230.7 178.3h2.2m-1.1 -1.1v2.2M230.7 173.1h2.2m-1.1 -1.1v2.2M230.7 169.5h2.2m-1.1 -1.1v2.2M230.7 167h2.2m-1.1 -1.1v2.2M230.7 164.6h2.2m-1.1 -1.1v2.2M230.7 162.2h2.2m-1.1 -1.1v2.2M230.7 159.8h2.2m-1.1 -1.1v2.2M230.7 157.4h2.2m-1.1 -1.1v2.2M230.7 155.1h2.2m-1.1 -1.1v2.2M230.7 152.7h2.2m-1.1 -1.1v2.2M230.7 150.4h2.2m-1.1 -1.1v2.2M234.8 201.8h2.2m-1.1 -1.1v2.2M234.8 199.1h2.2m-1.1 -1.1v2.2M234.8 196.1h2.2m-1.1 -1.1v2.2M234.8 193h2.2m-1.1 -1.1v2.2M234.8 189.6h2.2m-1.1 -1.1v2.2M234.8 182h2.2m-1.1 -1.1v2.2M234.8 177.6h2.2m-1.1 -1.1v2.2M234.8 173.4h2.2m-1.1 -1.1v2.2M234.8 169.9h2.2m-1.1 -1.1v2.2M234.8 167.3h2.2m-1.1 -1.1v2.2M234.8 164.8h2.2m-1.1 -1.1v2.2M234.8 162.4h2.2m-1.1 -1.1v2.2M234.8 159.9h2.2m-1.1 -1.1v2.2M234.8 157.5h2.2m-1.1 -1.1v2.2M234.8 155.1h2.2m-1.1 -1.1v2.2M234.8 150.4h2.2m-1.1 -1.1v2.2M238.6 202.1h2.2m-1.1 -1.1v2.2M238.6 199.3h2.2m-1.1 -1.1v2.2M238.6 196.3h2.2m-1.1 -1.1v2.2M238.6 193.1h2.2m-1.1 -1.1v2.2M238.6 189.6h2.2m-1.1 -1.1v2.2M238.6 186h2.2m-1.1 -1.1v2.2M238.6 183h2.2m-1.1 -1.1v2.2M238.6 179.1h2.2m-1.1 -1.1v2.2M238.6 175h2.2m-1.1 -1.1v2.2M238.6 170.2h2.2m-1.1 -1.1v2.2M238.6 167.4h2.2m-1.1 -1.1v2.2M238.6 164.9h2.2m-1.1 -1.1v2.2M238.6 162.5h2.2m-1.1 -1.1v2.2M238.6 160h2.2m-1.1 -1.1v2.2M238.6 157.6h2.2m-1.1 -1.1v2.2M238.6 155.2h2.2m-1.1 -1.1v2.2M238.6 152.8h2.2m-1.1 -1.1v2.2M238.6 150.4h2.2m-1.1 -1.1v2.2M242.2 202.4h2.2m-1.1 -1.1v2.2M242.2 199.6h2.2m-1.1 -1.1v2.2M242.2 196.5h2.2m-1.1 -1.1v2.2M242.2 193.3h2.2m-1.1 -1.1v2.2M242.2 189.9h2.2m-1.1 -1.1v2.2M242.2 185.5h2.2m-1.1 -1.1v2.2M242.2 182.3h2.2m-1.1 -1.1v2.2M242.2 177.5h2.2m-1.1 -1.1v2.2M242.2 174.3h2.2m-1.1 -1.1v2.2M242.2 169.8h2.2m-1.1 -1.1v2.2M242.2 167.3h2.2m-1.1 -1.1v2.2M242.2 164.8h2.2m-1.1 -1.1v2.2M242.2 162.3h2.2m-1.1 -1.1v2.2M242.2 159.9h2.2m-1.1 -1.1v2.2M242.2 157.5h2.2m-1.1 -1.1v2.2M242.2 155.1h2.2m-1.1 -1.1v2.2M242.2 152.7h2.2m-1.1 -1.1v2.2M242.2 150.4h2.2m-1.1 -1.1v2.2M245.5 202.7h2.2m-1.1 -1.1v2.2M245.5 199.7h2.2m-1.1 -1.1v2.2M245.5 196.6h2.2m-1.1 -1.1v2.2M245.5 193.3h2.2m-1.1 -1.1v2.2M245.5 189.8h2.2m-1.1 -1.1v2.2M245.5 185.5h2.2m-1.1 -1.1v2.2M245.5 181.5h2.2m-1.1 -1.1v2.2M245.5 177.6h2.2m-1.1 -1.1v2.2M245.5 174h2.2m-1.1 -1.1v2.2M245.5 170.4h2.2m-1.1 -1.1v2.2M245.5 167.5h2.2m-1.1 -1.1v2.2M245.5 165h2.2m-1.1 -1.1v2.2M245.5 157.6h2.2m-1.1 -1.1v2.2M245.5 155.2h2.2m-1.1 -1.1v2.2M245.5 152.8h2.2m-1.1 -1.1v2.2M245.5 150.4h2.2m-1.1 -1.1v2.2M248.7 203h2.2m-1.1 -1.1v2.2M248.7 200h2.2m-1.1 -1.1v2.2M248.7 196.9h2.2m-1.1 -1.1v2.2M248.7 193.6h2.2m-1.1 -1.1v2.2M248.7 190.1h2.2m-1.1 -1.1v2.2M248.7 185.5h2.2m-1.1 -1.1v2.2M248.7 181.6h2.2m-1.1 -1.1v2.2M248.7 177.5h2.2m-1.1 -1.1v2.2M248.7 173h2.2m-1.1 -1.1v2.2M248.7 169.7h2.2m-1.1 -1.1v2.2M248.7 167.2h2.2m-1.1 -1.1v2.2M248.7 164.7h2.2m-1.1 -1.1v2.2M248.7 162.3h2.2m-1.1 -1.1v2.2M248.7 159.9h2.2m-1.1 -1.1v2.2M248.7 157.5h2.2m-1.1 -1.1v2.2M248.7 155.1h2.2m-1.1 -1.1v2.2M248.7 152.7h2.2m-1.1 -1.1v2.2M248.7 150.4h2.2m-1.1 -1.1v2.2M251.7 203.2h2.2m-1.1 -1.1v2.2M251.7 200.2h2.2m-1.1 -1.1v2.2M251.7 197h2.2m-1.1 -1.1v2.2M251.7 193.7h2.2m-1.1 -1.1v2.2M251.7 190.4h2.2m-1.1 -1.1v2.2M251.7 186.6h2.2m-1.1 -1.1v2.2M251.7 182.2h2.2m-1.1 -1.1v2.2M251.7 178.8h2.2m-1.1 -1.1v2.2M251.7 175.1h2.2m-1.1 -1.1v2.2M251.7 170.1h2.2m-1.1 -1.1v2.2M251.7 167.4h2.2m-1.1 -1.1v2.2M251.7 164.9h2.2m-1.1 -1.1v2.2M251.7 162.4h2.2m-1.1 -1.1v2.2M251.7 160h2.2m-1.1 -1.1v2.2M251.7 157.5h2.2m-1.1 -1.1v2.2M251.7 155.1h2.2m-1.1 -1.1v2.2M251.7 152.8h2.2m-1.1 -1.1v2.2M251.7 150.4h2.2m-1.1 -1.1v2.2M254.5 203.5h2.2m-1.1 -1.1v2.2M254.5 197.1h2.2m-1.1 -1.1v2.2M254.5 193.7h2.2m-1.1 -1.1v2.2M254.5 189.3h2.2m-1.1 -1.1v2.2M254.5 185.2h2.2m-1.1 -1.1v2.2M254.5 182.2h2.2m-1.1 -1.1v2.2M254.5 178.4h2.2m-1.1 -1.1v2.2M254.5 173.7h2.2m-1.1 -1.1v2.2M254.5 170.3h2.2m-1.1 -1.1v2.2M254.5 167.5h2.2m-1.1 -1.1v2.2M254.5 165h2.2m-1.1 -1.1v2.2M254.5 162.5h2.2m-1.1 -1.1v2.2M254.5 160h2.2m-1.1 -1.1v2.2M254.5 157.6h2.2m-1.1 -1.1v2.2M254.5 155.2h2.2m-1.1 -1.1v2.2M254.5 152.8h2.2m-1.1 -1.1v2.2M254.5 150.4h2.2m-1.1 -1.1v2.2" stroke="#bcbcbc" stroke-width="0.8" fill="none"/>
<g fill="#0000ff"><circle cx="90" cy="175.7" r="2.35"/><circle cx="128.3" cy="174.8" r="2.35"/><circle cx="128.3" cy="176.9" r="2.35"/><circle cx="150.7" cy="175.7" r="2.35"/><circle cx="150.7" cy="179.7" r="2.35"/><circle cx="166.6" cy="173.2" r="2.35"/><circle cx="166.6" cy="175" r="2.35"/><circle cx="166.6" cy="180.9" r="2.35"/><circle cx="179" cy="174.5" r="2.35"/><circle cx="179" cy="178.5" r="2.35"/><circle cx="189.1" cy="173.5" r="2.35"/><circle cx="197.6" cy="171.7" r="2.35"/><circle cx="197.6" cy="172.9" r="2.35"/></g>
<path d="M70.5 285.6h2M263.1 285.6h-2M70.5 282.3h2M263.1 282.3h-2M70.5 279.4h4M263.1 279.4h-4M70.5 260h2M263.1 260h-2M70.5 248.6h2M263.1 248.6h-2M70.5 240.6h2M263.1 240.6h-2M70.5 234.3h2M263.1 234.3h-2M70.5 229.2h2M263.1 229.2h-2M70.5 224.9h2M263.1 224.9h-2M70.5 221.2h2M263.1 221.2h-2M70.5 217.9h2M263.1 217.9h-2M70.5 215h4M263.1 215h-4M70.5 195.6h2M263.1 195.6h-2M70.5 184.2h2M263.1 184.2h-2M70.5 176.2h2M263.1 176.2h-2M70.5 169.9h2M263.1 169.9h-2M70.5 164.8h2M263.1 164.8h-2M70.5 160.5h2M263.1 160.5h-2M70.5 156.8h2M263.1 156.8h-2M70.5 153.5h2M263.1 153.5h-2M70.5 150.6h4M263.1 150.6h-4M77.7 147.9v1.6M77.7 289.1v-1.7M84.2 147.9v1.6M84.2 289.1v-1.7M90 147.9v2.7M90 289.1v-3.2M128.3 147.9v1.6M128.3 289.1v-1.7M150.7 147.9v1.6M150.7 289.1v-1.7M166.6 147.9v1.6M166.6 289.1v-1.7M179 147.9v1.6M179 289.1v-1.7M189.1 147.9v1.6M189.1 289.1v-1.7M197.6 147.9v1.6M197.6 289.1v-1.7M205 147.9v1.6M205 289.1v-1.7M211.5 147.9v1.6M211.5 289.1v-1.7M217.3 147.9v2.7M217.3 289.1v-3.2M255.6 147.9v1.6M255.6 289.1v-1.7" stroke="#000" stroke-width="1.1" fill="none"/>
<rect x="70.5" y="147.9" width="192.6" height="141.2" fill="none" stroke="#000" stroke-width="1.25"/>
<g font-size="16" fill="#2e2e2e" class="t">
<text x="103.8" y="170.7">D</text>
<text x="197.2" y="254.5" textLength="33.6" lengthAdjust="spacing">15M</text>
<circle cx="236.1" cy="254.3" r="3.4" fill="none" stroke="#222" stroke-width="1.1"/><circle cx="236.1" cy="254.3" r="0.95"/>
<text x="196.9" y="280.2" textLength="36.3" lengthAdjust="spacing">MMS</text>
</g>
</g>
<g>
<rect x="284.3" y="150.6" width="11.1" height="135.2" fill="#e1e1e1"/>
<path d="M290.1 271.7V285.7" stroke="#cbcbcb" stroke-opacity="0.9" stroke-width="2.3" fill="none"/>
<path d="M328.4 237.9V288.7M350.8 242.9V288.7M366.7 236.9V288.7M379.1 233.7V288.7M389.2 231.1V288.7M397.7 228.8V288.7M405.1 226.9V288.7M411.6 225.9V288.7M417.4 225V288.7M422.7 224.2V288.7M427.5 223.4V288.7M431.9 223.4V288.7M436 223.4V288.7M439.8 223.4V288.7M443.4 223.4V288.7M446.7 223.4V288.7M449.9 223.4V288.7M452.9 223.4V288.7M455.7 223.4V288.7" stroke="#cbcbcb" stroke-opacity="1.0" stroke-width="2.3" fill="none"/>
<path d="M289 263.9h2.2m-1.1 -1.1v2.2M289 265.4h2.2m-1.1 -1.1v2.2M289 266.9h2.2m-1.1 -1.1v2.2M289 268.4h2.2m-1.1 -1.1v2.2M289 269.7h2.2m-1.1 -1.1v2.2M289 271.1h2.2m-1.1 -1.1v2.2M289 262.3h2.2m-1.1 -1.1v2.2M289 260.6h2.2m-1.1 -1.1v2.2M289 258.6h2.2m-1.1 -1.1v2.2M289 256.4h2.2m-1.1 -1.1v2.2M289 254h2.2m-1.1 -1.1v2.2M289 251.3h2.2m-1.1 -1.1v2.2M289 248.3h2.2m-1.1 -1.1v2.2M289 244.9h2.2m-1.1 -1.1v2.2M289 241.8h2.2m-1.1 -1.1v2.2M289 238.4h2.2m-1.1 -1.1v2.2M289 234.6h2.2m-1.1 -1.1v2.2M289 229.2h2.2m-1.1 -1.1v2.2M289 221.6h2.2m-1.1 -1.1v2.2M289 212.9h2.2m-1.1 -1.1v2.2M289 201.3h2.2m-1.1 -1.1v2.2M289 191.5h2.2m-1.1 -1.1v2.2M289 184.3h2.2m-1.1 -1.1v2.2M289 176.3h2.2m-1.1 -1.1v2.2M289 171.9h2.2m-1.1 -1.1v2.2M289 168h2.2m-1.1 -1.1v2.2M289 165.4h2.2m-1.1 -1.1v2.2M289 162.9h2.2m-1.1 -1.1v2.2M289 160.4h2.2m-1.1 -1.1v2.2M289 157.8h2.2m-1.1 -1.1v2.2M289 155.4h2.2m-1.1 -1.1v2.2M289 152.9h2.2m-1.1 -1.1v2.2M289 150.4h2.2m-1.1 -1.1v2.2M327.3 235.9h2.2m-1.1 -1.1v2.2M327.3 233.3h2.2m-1.1 -1.1v2.2M327.3 230.5h2.2m-1.1 -1.1v2.2M327.3 227.5h2.2m-1.1 -1.1v2.2M327.3 224.3h2.2m-1.1 -1.1v2.2M327.3 220.8h2.2m-1.1 -1.1v2.2M327.3 217.3h2.2m-1.1 -1.1v2.2M327.3 213.9h2.2m-1.1 -1.1v2.2M327.3 210.1h2.2m-1.1 -1.1v2.2M327.3 206.5h2.2m-1.1 -1.1v2.2M327.3 200.9h2.2m-1.1 -1.1v2.2M327.3 195.7h2.2m-1.1 -1.1v2.2M327.3 190.8h2.2m-1.1 -1.1v2.2M327.3 185.6h2.2m-1.1 -1.1v2.2M327.3 180.6h2.2m-1.1 -1.1v2.2M327.3 176.5h2.2m-1.1 -1.1v2.2M327.3 170.9h2.2m-1.1 -1.1v2.2M327.3 168.1h2.2m-1.1 -1.1v2.2M327.3 165.5h2.2m-1.1 -1.1v2.2M327.3 163h2.2m-1.1 -1.1v2.2M327.3 160.4h2.2m-1.1 -1.1v2.2M327.3 157.9h2.2m-1.1 -1.1v2.2M327.3 155.4h2.2m-1.1 -1.1v2.2M327.3 152.9h2.2m-1.1 -1.1v2.2M327.3 150.4h2.2m-1.1 -1.1v2.2M349.7 240h2.2m-1.1 -1.1v2.2M349.7 236.1h2.2m-1.1 -1.1v2.2M349.7 231.5h2.2m-1.1 -1.1v2.2M349.7 227.7h2.2m-1.1 -1.1v2.2M349.7 223.6h2.2m-1.1 -1.1v2.2M349.7 220.1h2.2m-1.1 -1.1v2.2M349.7 216.9h2.2m-1.1 -1.1v2.2M349.7 211.8h2.2m-1.1 -1.1v2.2M349.7 206.5h2.2m-1.1 -1.1v2.2M349.7 202.3h2.2m-1.1 -1.1v2.2M349.7 196.5h2.2m-1.1 -1.1v2.2M349.7 190.7h2.2m-1.1 -1.1v2.2M349.7 186h2.2m-1.1 -1.1v2.2M349.7 180.6h2.2m-1.1 -1.1v2.2M349.7 174.1h2.2m-1.1 -1.1v2.2M349.7 170.6h2.2m-1.1 -1.1v2.2M349.7 168h2.2m-1.1 -1.1v2.2M349.7 165.4h2.2m-1.1 -1.1v2.2M349.7 162.9h2.2m-1.1 -1.1v2.2M349.7 160.4h2.2m-1.1 -1.1v2.2M349.7 157.9h2.2m-1.1 -1.1v2.2M349.7 155.4h2.2m-1.1 -1.1v2.2M349.7 152.9h2.2m-1.1 -1.1v2.2M349.7 150.4h2.2m-1.1 -1.1v2.2M365.6 234.1h2.2m-1.1 -1.1v2.2M365.6 229.6h2.2m-1.1 -1.1v2.2M365.6 226.4h2.2m-1.1 -1.1v2.2M365.6 222.8h2.2m-1.1 -1.1v2.2M365.6 218.5h2.2m-1.1 -1.1v2.2M365.6 215.1h2.2m-1.1 -1.1v2.2M365.6 211.5h2.2m-1.1 -1.1v2.2M365.6 206.6h2.2m-1.1 -1.1v2.2M365.6 202.3h2.2m-1.1 -1.1v2.2M365.6 197.2h2.2m-1.1 -1.1v2.2M365.6 193.1h2.2m-1.1 -1.1v2.2M365.6 189.2h2.2m-1.1 -1.1v2.2M365.6 184.9h2.2m-1.1 -1.1v2.2M365.6 180.9h2.2m-1.1 -1.1v2.2M365.6 175.5h2.2m-1.1 -1.1v2.2M365.6 172.5h2.2m-1.1 -1.1v2.2M365.6 170h2.2m-1.1 -1.1v2.2M365.6 167.5h2.2m-1.1 -1.1v2.2M365.6 165.1h2.2m-1.1 -1.1v2.2M365.6 162.6h2.2m-1.1 -1.1v2.2M365.6 160.1h2.2m-1.1 -1.1v2.2M365.6 157.7h2.2m-1.1 -1.1v2.2M365.6 155.2h2.2m-1.1 -1.1v2.2M365.6 152.8h2.2m-1.1 -1.1v2.2M365.6 150.4h2.2m-1.1 -1.1v2.2M378 231h2.2m-1.1 -1.1v2.2M378 224.1h2.2m-1.1 -1.1v2.2M378 220.8h2.2m-1.1 -1.1v2.2M378 217.1h2.2m-1.1 -1.1v2.2M378 214.1h2.2m-1.1 -1.1v2.2M378 210.4h2.2m-1.1 -1.1v2.2M378 206.8h2.2m-1.1 -1.1v2.2M378 203.1h2.2m-1.1 -1.1v2.2M378 199.9h2.2m-1.1 -1.1v2.2M378 196.6h2.2m-1.1 -1.1v2.2M378 191.9h2.2m-1.1 -1.1v2.2M378 188.1h2.2m-1.1 -1.1v2.2M378 184.5h2.2m-1.1 -1.1v2.2M378 181h2.2m-1.1 -1.1v2.2M378 177.7h2.2m-1.1 -1.1v2.2M378 174.6h2.2m-1.1 -1.1v2.2M378 172h2.2m-1.1 -1.1v2.2M378 169.6h2.2m-1.1 -1.1v2.2M378 167.2h2.2m-1.1 -1.1v2.2M378 164.7h2.2m-1.1 -1.1v2.2M378 162.3h2.2m-1.1 -1.1v2.2M378 159.9h2.2m-1.1 -1.1v2.2M378 157.5h2.2m-1.1 -1.1v2.2M378 155.1h2.2m-1.1 -1.1v2.2M378 152.8h2.2m-1.1 -1.1v2.2M378 150.4h2.2m-1.1 -1.1v2.2M388.1 228.5h2.2m-1.1 -1.1v2.2M388.1 225.2h2.2m-1.1 -1.1v2.2M388.1 222h2.2m-1.1 -1.1v2.2M388.1 218.7h2.2m-1.1 -1.1v2.2M388.1 215.4h2.2m-1.1 -1.1v2.2M388.1 212.2h2.2m-1.1 -1.1v2.2M388.1 208.9h2.2m-1.1 -1.1v2.2M388.1 205.5h2.2m-1.1 -1.1v2.2M388.1 202.2h2.2m-1.1 -1.1v2.2M388.1 198.7h2.2m-1.1 -1.1v2.2M388.1 195.3h2.2m-1.1 -1.1v2.2M388.1 191.9h2.2m-1.1 -1.1v2.2M388.1 188.5h2.2m-1.1 -1.1v2.2M388.1 185h2.2m-1.1 -1.1v2.2M388.1 181.6h2.2m-1.1 -1.1v2.2M388.1 178.5h2.2m-1.1 -1.1v2.2M388.1 175.8h2.2m-1.1 -1.1v2.2M388.1 173.5h2.2m-1.1 -1.1v2.2M388.1 171.1h2.2m-1.1 -1.1v2.2M388.1 168.8h2.2m-1.1 -1.1v2.2M388.1 166.4h2.2m-1.1 -1.1v2.2M388.1 164.1h2.2m-1.1 -1.1v2.2M388.1 161.8h2.2m-1.1 -1.1v2.2M388.1 159.5h2.2m-1.1 -1.1v2.2M388.1 157.2h2.2m-1.1 -1.1v2.2M388.1 154.9h2.2m-1.1 -1.1v2.2M388.1 152.7h2.2m-1.1 -1.1v2.2M388.1 150.4h2.2m-1.1 -1.1v2.2M396.6 226.3h2.2m-1.1 -1.1v2.2M396.6 223.1h2.2m-1.1 -1.1v2.2M396.6 220h2.2m-1.1 -1.1v2.2M396.6 216.9h2.2m-1.1 -1.1v2.2M396.6 213.8h2.2m-1.1 -1.1v2.2M396.6 210.8h2.2m-1.1 -1.1v2.2M396.6 207.7h2.2m-1.1 -1.1v2.2M396.6 204.7h2.2m-1.1 -1.1v2.2M396.6 201.6h2.2m-1.1 -1.1v2.2M396.6 198.6h2.2m-1.1 -1.1v2.2M396.6 195.5h2.2m-1.1 -1.1v2.2M396.6 189.4h2.2m-1.1 -1.1v2.2M396.6 186.4h2.2m-1.1 -1.1v2.2M396.6 183.4h2.2m-1.1 -1.1v2.2M396.6 180.5h2.2m-1.1 -1.1v2.2M396.6 177.8h2.2m-1.1 -1.1v2.2M396.6 175.4h2.2m-1.1 -1.1v2.2M396.6 173.1h2.2m-1.1 -1.1v2.2M396.6 170.8h2.2m-1.1 -1.1v2.2M396.6 168.5h2.2m-1.1 -1.1v2.2M396.6 166.2h2.2m-1.1 -1.1v2.2M396.6 163.9h2.2m-1.1 -1.1v2.2M396.6 161.6h2.2m-1.1 -1.1v2.2M396.6 159.4h2.2m-1.1 -1.1v2.2M396.6 157.1h2.2m-1.1 -1.1v2.2M396.6 154.9h2.2m-1.1 -1.1v2.2M404 224.5h2.2m-1.1 -1.1v2.2M404 221.5h2.2m-1.1 -1.1v2.2M404 218.6h2.2m-1.1 -1.1v2.2M404 215.7h2.2m-1.1 -1.1v2.2M404 210.1h2.2m-1.1 -1.1v2.2M404 207.3h2.2m-1.1 -1.1v2.2M404 204.6h2.2m-1.1 -1.1v2.2M404 202h2.2m-1.1 -1.1v2.2M404 199.3h2.2m-1.1 -1.1v2.2M404 196.7h2.2m-1.1 -1.1v2.2M404 194.1h2.2m-1.1 -1.1v2.2M404 191.5h2.2m-1.1 -1.1v2.2M404 186.2h2.2m-1.1 -1.1v2.2M404 181.2h2.2m-1.1 -1.1v2.2M404 176.5h2.2m-1.1 -1.1v2.2M404 172.1h2.2m-1.1 -1.1v2.2M404 165.5h2.2m-1.1 -1.1v2.2M404 163.3h2.2m-1.1 -1.1v2.2M404 159h2.2m-1.1 -1.1v2.2M404 156.8h2.2m-1.1 -1.1v2.2M404 154.7h2.2m-1.1 -1.1v2.2M404 150.4h2.2m-1.1 -1.1v2.2M410.5 223.5h2.2m-1.1 -1.1v2.2M410.5 220.6h2.2m-1.1 -1.1v2.2M410.5 217.8h2.2m-1.1 -1.1v2.2M410.5 215h2.2m-1.1 -1.1v2.2M410.5 212.3h2.2m-1.1 -1.1v2.2M410.5 209.6h2.2m-1.1 -1.1v2.2M410.5 207h2.2m-1.1 -1.1v2.2M410.5 204.3h2.2m-1.1 -1.1v2.2M410.5 201.8h2.2m-1.1 -1.1v2.2M410.5 199.2h2.2m-1.1 -1.1v2.2M410.5 196.7h2.2m-1.1 -1.1v2.2M410.5 191.6h2.2m-1.1 -1.1v2.2M410.5 186.5h2.2m-1.1 -1.1v2.2M410.5 181.5h2.2m-1.1 -1.1v2.2M410.5 179.1h2.2m-1.1 -1.1v2.2M410.5 176.8h2.2m-1.1 -1.1v2.2M410.5 170.1h2.2m-1.1 -1.1v2.2M410.5 167.9h2.2m-1.1 -1.1v2.2M410.5 163.5h2.2m-1.1 -1.1v2.2M410.5 161.3h2.2m-1.1 -1.1v2.2M410.5 159.1h2.2m-1.1 -1.1v2.2M410.5 154.7h2.2m-1.1 -1.1v2.2M410.5 150.4h2.2m-1.1 -1.1v2.2M416.3 222.8h2.2m-1.1 -1.1v2.2M416.3 220h2.2m-1.1 -1.1v2.2M416.3 217.4h2.2m-1.1 -1.1v2.2M416.3 214.8h2.2m-1.1 -1.1v2.2M416.3 212.2h2.2m-1.1 -1.1v2.2M416.3 209.7h2.2m-1.1 -1.1v2.2M416.3 207.2h2.2m-1.1 -1.1v2.2M416.3 204.7h2.2m-1.1 -1.1v2.2M416.3 202.3h2.2m-1.1 -1.1v2.2M416.3 199.8h2.2m-1.1 -1.1v2.2M416.3 197.4h2.2m-1.1 -1.1v2.2M416.3 195h2.2m-1.1 -1.1v2.2M416.3 192.6h2.2m-1.1 -1.1v2.2M416.3 187.8h2.2m-1.1 -1.1v2.2M416.3 185.4h2.2m-1.1 -1.1v2.2M416.3 183h2.2m-1.1 -1.1v2.2M416.3 178.5h2.2m-1.1 -1.1v2.2M416.3 176.3h2.2m-1.1 -1.1v2.2M416.3 174.1h2.2m-1.1 -1.1v2.2M416.3 169.8h2.2m-1.1 -1.1v2.2M416.3 167.6h2.2m-1.1 -1.1v2.2M416.3 165.4h2.2m-1.1 -1.1v2.2M416.3 161.1h2.2m-1.1 -1.1v2.2M416.3 159h2.2m-1.1 -1.1v2.2M416.3 156.8h2.2m-1.1 -1.1v2.2M416.3 150.4h2.2m-1.1 -1.1v2.2M421.6 222.1h2.2m-1.1 -1.1v2.2M421.6 219.5h2.2m-1.1 -1.1v2.2M421.6 217h2.2m-1.1 -1.1v2.2M421.6 214.5h2.2m-1.1 -1.1v2.2M421.6 212.1h2.2m-1.1 -1.1v2.2M421.6 209.7h2.2m-1.1 -1.1v2.2M421.6 207.4h2.2m-1.1 -1.1v2.2M421.6 205h2.2m-1.1 -1.1v2.2M421.6 202.7h2.2m-1.1 -1.1v2.2M421.6 198.1h2.2m-1.1 -1.1v2.2M421.6 193.6h2.2m-1.1 -1.1v2.2M421.6 191.3h2.2m-1.1 -1.1v2.2M421.6 189h2.2m-1.1 -1.1v2.2M421.6 184.5h2.2m-1.1 -1.1v2.2M421.6 182.2h2.2m-1.1 -1.1v2.2M421.6 180h2.2m-1.1 -1.1v2.2M421.6 175.8h2.2m-1.1 -1.1v2.2M421.6 171.5h2.2m-1.1 -1.1v2.2M421.6 167.3h2.2m-1.1 -1.1v2.2M421.6 165.2h2.2m-1.1 -1.1v2.2M421.6 163.1h2.2m-1.1 -1.1v2.2M421.6 156.7h2.2m-1.1 -1.1v2.2M421.6 152.5h2.2m-1.1 -1.1v2.2M426.4 221.4h2.2m-1.1 -1.1v2.2M426.4 218.9h2.2m-1.1 -1.1v2.2M426.4 216.4h2.2m-1.1 -1.1v2.2M426.4 214h2.2m-1.1 -1.1v2.2M426.4 211.7h2.2m-1.1 -1.1v2.2M426.4 209.4h2.2m-1.1 -1.1v2.2M426.4 207.1h2.2m-1.1 -1.1v2.2M426.4 204.8h2.2m-1.1 -1.1v2.2M426.4 202.6h2.2m-1.1 -1.1v2.2M426.4 200.3h2.2m-1.1 -1.1v2.2M426.4 198.1h2.2m-1.1 -1.1v2.2M426.4 195.8h2.2m-1.1 -1.1v2.2M426.4 191.4h2.2m-1.1 -1.1v2.2M426.4 189.1h2.2m-1.1 -1.1v2.2M426.4 186.9h2.2m-1.1 -1.1v2.2M426.4 178.2h2.2m-1.1 -1.1v2.2M426.4 171.7h2.2m-1.1 -1.1v2.2M426.4 169.6h2.2m-1.1 -1.1v2.2M426.4 167.5h2.2m-1.1 -1.1v2.2M426.4 163.2h2.2m-1.1 -1.1v2.2M426.4 161.1h2.2m-1.1 -1.1v2.2M426.4 158.9h2.2m-1.1 -1.1v2.2M426.4 154.7h2.2m-1.1 -1.1v2.2M426.4 152.5h2.2m-1.1 -1.1v2.2M426.4 150.4h2.2m-1.1 -1.1v2.2M430.8 221.5h2.2m-1.1 -1.1v2.2M430.8 219.1h2.2m-1.1 -1.1v2.2M430.8 216.8h2.2m-1.1 -1.1v2.2M430.8 212.3h2.2m-1.1 -1.1v2.2M430.8 210h2.2m-1.1 -1.1v2.2M430.8 207.8h2.2m-1.1 -1.1v2.2M430.8 203.5h2.2m-1.1 -1.1v2.2M430.8 201.3h2.2m-1.1 -1.1v2.2M430.8 199.2h2.2m-1.1 -1.1v2.2M430.8 197h2.2m-1.1 -1.1v2.2M430.8 194.8h2.2m-1.1 -1.1v2.2M430.8 192.6h2.2m-1.1 -1.1v2.2M430.8 188.3h2.2m-1.1 -1.1v2.2M430.8 186.1h2.2m-1.1 -1.1v2.2M430.8 184h2.2m-1.1 -1.1v2.2M430.8 179.7h2.2m-1.1 -1.1v2.2M430.8 177.6h2.2m-1.1 -1.1v2.2M430.8 175.5h2.2m-1.1 -1.1v2.2M430.8 173.4h2.2m-1.1 -1.1v2.2M430.8 169.2h2.2m-1.1 -1.1v2.2M430.8 167.1h2.2m-1.1 -1.1v2.2M430.8 165.1h2.2m-1.1 -1.1v2.2M430.8 160.9h2.2m-1.1 -1.1v2.2M430.8 158.8h2.2m-1.1 -1.1v2.2M430.8 156.7h2.2m-1.1 -1.1v2.2M430.8 152.5h2.2m-1.1 -1.1v2.2M430.8 150.4h2.2m-1.1 -1.1v2.2M434.9 221.5h2.2m-1.1 -1.1v2.2M434.9 219.2h2.2m-1.1 -1.1v2.2M434.9 216.9h2.2m-1.1 -1.1v2.2M434.9 214.7h2.2m-1.1 -1.1v2.2M434.9 212.5h2.2m-1.1 -1.1v2.2M434.9 210.3h2.2m-1.1 -1.1v2.2M434.9 208.1h2.2m-1.1 -1.1v2.2M434.9 206h2.2m-1.1 -1.1v2.2M434.9 203.8h2.2m-1.1 -1.1v2.2M434.9 201.6h2.2m-1.1 -1.1v2.2M434.9 199.5h2.2m-1.1 -1.1v2.2M434.9 197.3h2.2m-1.1 -1.1v2.2M434.9 195.2h2.2m-1.1 -1.1v2.2M434.9 193h2.2m-1.1 -1.1v2.2M434.9 184.3h2.2m-1.1 -1.1v2.2M434.9 182.1h2.2m-1.1 -1.1v2.2M434.9 180h2.2m-1.1 -1.1v2.2M434.9 175.7h2.2m-1.1 -1.1v2.2M434.9 173.6h2.2m-1.1 -1.1v2.2M434.9 171.5h2.2m-1.1 -1.1v2.2M434.9 167.3h2.2m-1.1 -1.1v2.2M434.9 165.2h2.2m-1.1 -1.1v2.2M434.9 163.1h2.2m-1.1 -1.1v2.2M434.9 158.8h2.2m-1.1 -1.1v2.2M434.9 156.7h2.2m-1.1 -1.1v2.2M434.9 154.6h2.2m-1.1 -1.1v2.2M438.7 221.6h2.2m-1.1 -1.1v2.2M438.7 219.4h2.2m-1.1 -1.1v2.2M438.7 217.3h2.2m-1.1 -1.1v2.2M438.7 215.1h2.2m-1.1 -1.1v2.2M438.7 213h2.2m-1.1 -1.1v2.2M438.7 210.9h2.2m-1.1 -1.1v2.2M438.7 208.8h2.2m-1.1 -1.1v2.2M438.7 206.8h2.2m-1.1 -1.1v2.2M438.7 204.7h2.2m-1.1 -1.1v2.2M438.7 202.6h2.2m-1.1 -1.1v2.2M438.7 200.5h2.2m-1.1 -1.1v2.2M438.7 198.4h2.2m-1.1 -1.1v2.2M438.7 196.3h2.2m-1.1 -1.1v2.2M438.7 192.1h2.2m-1.1 -1.1v2.2M438.7 189.9h2.2m-1.1 -1.1v2.2M438.7 187.8h2.2m-1.1 -1.1v2.2M438.7 183.6h2.2m-1.1 -1.1v2.2M438.7 181.5h2.2m-1.1 -1.1v2.2M438.7 179.4h2.2m-1.1 -1.1v2.2M438.7 173.2h2.2m-1.1 -1.1v2.2M438.7 171.1h2.2m-1.1 -1.1v2.2M438.7 169h2.2m-1.1 -1.1v2.2M438.7 164.9h2.2m-1.1 -1.1v2.2M438.7 162.8h2.2m-1.1 -1.1v2.2M438.7 156.6h2.2m-1.1 -1.1v2.2M438.7 152.5h2.2m-1.1 -1.1v2.2M442.3 221.7h2.2m-1.1 -1.1v2.2M442.3 219.5h2.2m-1.1 -1.1v2.2M442.3 217.4h2.2m-1.1 -1.1v2.2M442.3 215.3h2.2m-1.1 -1.1v2.2M442.3 213.2h2.2m-1.1 -1.1v2.2M442.3 211.2h2.2m-1.1 -1.1v2.2M442.3 209.1h2.2m-1.1 -1.1v2.2M442.3 207h2.2m-1.1 -1.1v2.2M442.3 205h2.2m-1.1 -1.1v2.2M442.3 202.9h2.2m-1.1 -1.1v2.2M442.3 200.8h2.2m-1.1 -1.1v2.2M442.3 198.7h2.2m-1.1 -1.1v2.2M442.3 196.6h2.2m-1.1 -1.1v2.2M442.3 194.5h2.2m-1.1 -1.1v2.2M442.3 190.3h2.2m-1.1 -1.1v2.2M442.3 188.1h2.2m-1.1 -1.1v2.2M442.3 186h2.2m-1.1 -1.1v2.2M442.3 181.8h2.2m-1.1 -1.1v2.2M442.3 177.6h2.2m-1.1 -1.1v2.2M442.3 171.3h2.2m-1.1 -1.1v2.2M442.3 169.2h2.2m-1.1 -1.1v2.2M442.3 167.1h2.2m-1.1 -1.1v2.2M442.3 162.9h2.2m-1.1 -1.1v2.2M442.3 160.8h2.2m-1.1 -1.1v2.2M442.3 158.8h2.2m-1.1 -1.1v2.2M442.3 154.6h2.2m-1.1 -1.1v2.2M442.3 152.5h2.2m-1.1 -1.1v2.2M445.6 221.8h2.2m-1.1 -1.1v2.2M445.6 219.7h2.2m-1.1 -1.1v2.2M445.6 217.7h2.2m-1.1 -1.1v2.2M445.6 215.7h2.2m-1.1 -1.1v2.2M445.6 213.7h2.2m-1.1 -1.1v2.2M445.6 211.8h2.2m-1.1 -1.1v2.2M445.6 209.8h2.2m-1.1 -1.1v2.2M445.6 207.8h2.2m-1.1 -1.1v2.2M445.6 205.8h2.2m-1.1 -1.1v2.2M445.6 203.8h2.2m-1.1 -1.1v2.2M445.6 201.8h2.2m-1.1 -1.1v2.2M445.6 199.7h2.2m-1.1 -1.1v2.2M445.6 197.7h2.2m-1.1 -1.1v2.2M445.6 193.6h2.2m-1.1 -1.1v2.2M445.6 187.3h2.2m-1.1 -1.1v2.2M445.6 185.3h2.2m-1.1 -1.1v2.2M445.6 179.1h2.2m-1.1 -1.1v2.2M445.6 177h2.2m-1.1 -1.1v2.2M445.6 175h2.2m-1.1 -1.1v2.2M445.6 170.9h2.2m-1.1 -1.1v2.2M445.6 168.8h2.2m-1.1 -1.1v2.2M445.6 166.8h2.2m-1.1 -1.1v2.2M445.6 164.7h2.2m-1.1 -1.1v2.2M445.6 160.6h2.2m-1.1 -1.1v2.2M445.6 158.6h2.2m-1.1 -1.1v2.2M445.6 156.5h2.2m-1.1 -1.1v2.2M445.6 152.4h2.2m-1.1 -1.1v2.2M448.8 221.8h2.2m-1.1 -1.1v2.2M448.8 219.8h2.2m-1.1 -1.1v2.2M448.8 217.9h2.2m-1.1 -1.1v2.2M448.8 215.9h2.2m-1.1 -1.1v2.2M448.8 213.9h2.2m-1.1 -1.1v2.2M448.8 212h2.2m-1.1 -1.1v2.2M448.8 208.1h2.2m-1.1 -1.1v2.2M448.8 206.1h2.2m-1.1 -1.1v2.2M448.8 202.1h2.2m-1.1 -1.1v2.2M448.8 200h2.2m-1.1 -1.1v2.2M448.8 195.9h2.2m-1.1 -1.1v2.2M448.8 193.9h2.2m-1.1 -1.1v2.2M448.8 191.8h2.2m-1.1 -1.1v2.2M448.8 189.7h2.2m-1.1 -1.1v2.2M448.8 185.6h2.2m-1.1 -1.1v2.2M448.8 183.5h2.2m-1.1 -1.1v2.2M448.8 181.4h2.2m-1.1 -1.1v2.2M448.8 177.3h2.2m-1.1 -1.1v2.2M448.8 173.1h2.2m-1.1 -1.1v2.2M448.8 169h2.2m-1.1 -1.1v2.2M448.8 166.9h2.2m-1.1 -1.1v2.2M448.8 164.9h2.2m-1.1 -1.1v2.2M448.8 162.8h2.2m-1.1 -1.1v2.2M448.8 158.7h2.2m-1.1 -1.1v2.2M448.8 156.6h2.2m-1.1 -1.1v2.2M448.8 154.5h2.2m-1.1 -1.1v2.2M448.8 150.4h2.2m-1.1 -1.1v2.2M451.8 221.9h2.2m-1.1 -1.1v2.2M451.8 220h2.2m-1.1 -1.1v2.2M451.8 218.1h2.2m-1.1 -1.1v2.2M451.8 216.3h2.2m-1.1 -1.1v2.2M451.8 214.4h2.2m-1.1 -1.1v2.2M451.8 212.5h2.2m-1.1 -1.1v2.2M451.8 210.6h2.2m-1.1 -1.1v2.2M451.8 208.7h2.2m-1.1 -1.1v2.2M451.8 206.8h2.2m-1.1 -1.1v2.2M451.8 204.9h2.2m-1.1 -1.1v2.2M451.8 202.9h2.2m-1.1 -1.1v2.2M451.8 201h2.2m-1.1 -1.1v2.2M451.8 199h2.2m-1.1 -1.1v2.2M451.8 197h2.2m-1.1 -1.1v2.2M451.8 193h2.2m-1.1 -1.1v2.2M451.8 191h2.2m-1.1 -1.1v2.2M451.8 188.9h2.2m-1.1 -1.1v2.2M451.8 184.9h2.2m-1.1 -1.1v2.2M451.8 182.8h2.2m-1.1 -1.1v2.2M451.8 180.8h2.2m-1.1 -1.1v2.2M451.8 174.7h2.2m-1.1 -1.1v2.2M451.8 172.7h2.2m-1.1 -1.1v2.2M451.8 170.7h2.2m-1.1 -1.1v2.2M451.8 166.6h2.2m-1.1 -1.1v2.2M451.8 164.6h2.2m-1.1 -1.1v2.2M451.8 162.6h2.2m-1.1 -1.1v2.2M451.8 156.5h2.2m-1.1 -1.1v2.2M451.8 154.5h2.2m-1.1 -1.1v2.2M451.8 152.4h2.2m-1.1 -1.1v2.2M454.6 221.9h2.2m-1.1 -1.1v2.2M454.6 220.1h2.2m-1.1 -1.1v2.2M454.6 218.3h2.2m-1.1 -1.1v2.2M454.6 216.4h2.2m-1.1 -1.1v2.2M454.6 214.6h2.2m-1.1 -1.1v2.2M454.6 212.7h2.2m-1.1 -1.1v2.2M454.6 210.9h2.2m-1.1 -1.1v2.2M454.6 209h2.2m-1.1 -1.1v2.2M454.6 207.1h2.2m-1.1 -1.1v2.2M454.6 205.2h2.2m-1.1 -1.1v2.2M454.6 201.3h2.2m-1.1 -1.1v2.2M454.6 199.3h2.2m-1.1 -1.1v2.2M454.6 197.3h2.2m-1.1 -1.1v2.2M454.6 195.3h2.2m-1.1 -1.1v2.2M454.6 191.3h2.2m-1.1 -1.1v2.2M454.6 189.2h2.2m-1.1 -1.1v2.2M454.6 187.2h2.2m-1.1 -1.1v2.2M454.6 183.1h2.2m-1.1 -1.1v2.2M454.6 181h2.2m-1.1 -1.1v2.2M454.6 179h2.2m-1.1 -1.1v2.2M454.6 172.9h2.2m-1.1 -1.1v2.2M454.6 170.8h2.2m-1.1 -1.1v2.2M454.6 168.8h2.2m-1.1 -1.1v2.2M454.6 164.7h2.2m-1.1 -1.1v2.2M454.6 162.7h2.2m-1.1 -1.1v2.2M454.6 160.6h2.2m-1.1 -1.1v2.2M454.6 154.5h2.2m-1.1 -1.1v2.2M454.6 152.4h2.2m-1.1 -1.1v2.2M454.6 150.4h2.2m-1.1 -1.1v2.2" stroke="#bcbcbc" stroke-width="0.8" fill="none"/>
<g fill="#0000ff"><circle cx="290.1" cy="189.1" r="2.35"/><circle cx="290.1" cy="194.5" r="2.35"/><circle cx="328.4" cy="191" r="2.35"/><circle cx="328.4" cy="198.6" r="2.35"/><circle cx="328.4" cy="203.5" r="2.35"/><circle cx="350.8" cy="189.7" r="2.35"/><circle cx="350.8" cy="192.5" r="2.35"/><circle cx="350.8" cy="195.5" r="2.35"/><circle cx="350.8" cy="230.9" r="2.35"/><circle cx="350.8" cy="233" r="2.35"/><circle cx="350.8" cy="235" r="2.35"/><circle cx="350.8" cy="237.1" r="2.35"/><circle cx="350.8" cy="239.1" r="2.35"/><circle cx="350.8" cy="241.2" r="2.35"/><circle cx="366.7" cy="189.3" r="2.35"/><circle cx="366.7" cy="191.5" r="2.35"/><circle cx="366.7" cy="198.7" r="2.35"/><circle cx="366.7" cy="225.2" r="2.35"/><circle cx="366.7" cy="227.2" r="2.35"/><circle cx="366.7" cy="229.1" r="2.35"/><circle cx="366.7" cy="231.1" r="2.35"/><circle cx="366.7" cy="233.1" r="2.35"/><circle cx="366.7" cy="235" r="2.35"/><circle cx="366.7" cy="237" r="2.35"/><circle cx="379.1" cy="189.9" r="2.35"/><circle cx="379.1" cy="194.7" r="2.35"/><circle cx="379.1" cy="218.7" r="2.35"/><circle cx="379.1" cy="221.5" r="2.35"/><circle cx="379.1" cy="226.2" r="2.35"/><circle cx="379.1" cy="228.1" r="2.35"/><circle cx="379.1" cy="229.9" r="2.35"/><circle cx="379.1" cy="231.8" r="2.35"/><circle cx="379.1" cy="233.7" r="2.35"/><circle cx="389.2" cy="188.4" r="2.35"/><circle cx="389.2" cy="191" r="2.35"/><circle cx="389.2" cy="215.5" r="2.35"/><circle cx="389.2" cy="219.6" r="2.35"/><circle cx="389.2" cy="221.5" r="2.35"/><circle cx="389.2" cy="223.4" r="2.35"/><circle cx="389.2" cy="225.2" r="2.35"/><circle cx="389.2" cy="227.1" r="2.35"/><circle cx="389.2" cy="229" r="2.35"/><circle cx="389.2" cy="230.9" r="2.35"/><circle cx="397.7" cy="212.7" r="2.35"/><circle cx="397.7" cy="214.4" r="2.35"/><circle cx="397.7" cy="216.1" r="2.35"/><circle cx="397.7" cy="217.8" r="2.35"/><circle cx="397.7" cy="224.3" r="2.35"/><circle cx="397.7" cy="226.4" r="2.35"/><circle cx="397.7" cy="228.4" r="2.35"/><circle cx="405.1" cy="210.6" r="2.35"/><circle cx="405.1" cy="212.2" r="2.35"/><circle cx="405.1" cy="213.8" r="2.35"/><circle cx="405.1" cy="222.2" r="2.35"/><circle cx="405.1" cy="224.1" r="2.35"/><circle cx="405.1" cy="225.9" r="2.35"/><circle cx="411.6" cy="208.4" r="2.35"/><circle cx="411.6" cy="210.4" r="2.35"/><circle cx="411.6" cy="212.4" r="2.35"/><circle cx="411.6" cy="214.4" r="2.35"/><circle cx="411.6" cy="216.4" r="2.35"/><circle cx="411.6" cy="221.5" r="2.35"/><circle cx="411.6" cy="222.9" r="2.35"/><circle cx="411.6" cy="224.4" r="2.35"/><circle cx="417.4" cy="207.2" r="2.35"/><circle cx="417.4" cy="211.3" r="2.35"/><circle cx="417.4" cy="213.2" r="2.35"/><circle cx="417.4" cy="215.1" r="2.35"/><circle cx="417.4" cy="217" r="2.35"/><circle cx="417.4" cy="218.9" r="2.35"/><circle cx="417.4" cy="220.8" r="2.35"/><circle cx="422.7" cy="206.2" r="2.35"/><circle cx="422.7" cy="208" r="2.35"/><circle cx="422.7" cy="209.7" r="2.35"/><circle cx="422.7" cy="211.5" r="2.35"/><circle cx="422.7" cy="213.3" r="2.35"/><circle cx="422.7" cy="215.1" r="2.35"/><circle cx="422.7" cy="216.8" r="2.35"/><circle cx="422.7" cy="218.6" r="2.35"/><circle cx="427.5" cy="205.5" r="2.35"/><circle cx="427.5" cy="207.3" r="2.35"/><circle cx="427.5" cy="209.1" r="2.35"/><circle cx="427.5" cy="210.9" r="2.35"/><circle cx="427.5" cy="212.8" r="2.35"/><circle cx="427.5" cy="214.6" r="2.35"/><circle cx="427.5" cy="216.4" r="2.35"/><circle cx="431.9" cy="206.2" r="2.35"/><circle cx="431.9" cy="208.1" r="2.35"/><circle cx="431.9" cy="210" r="2.35"/><circle cx="431.9" cy="211.9" r="2.35"/><circle cx="431.9" cy="213.8" r="2.35"/><circle cx="431.9" cy="215.7" r="2.35"/><circle cx="436" cy="206.2" r="2.35"/><circle cx="436" cy="208.2" r="2.35"/><circle cx="436" cy="210.2" r="2.35"/><circle cx="436" cy="212.2" r="2.35"/><circle cx="436" cy="214.2" r="2.35"/><circle cx="439.8" cy="206.2" r="2.35"/><circle cx="439.8" cy="208.4" r="2.35"/><circle cx="439.8" cy="210.6" r="2.35"/><circle cx="439.8" cy="212.8" r="2.35"/></g>
<path d="M270.6 285.6h2M463.2 285.6h-2M270.6 282.3h2M463.2 282.3h-2M270.6 279.4h4M463.2 279.4h-4M270.6 260h2M463.2 260h-2M270.6 248.6h2M463.2 248.6h-2M270.6 240.6h2M463.2 240.6h-2M270.6 234.3h2M463.2 234.3h-2M270.6 229.2h2M463.2 229.2h-2M270.6 224.9h2M463.2 224.9h-2M270.6 221.2h2M463.2 221.2h-2M270.6 217.9h2M463.2 217.9h-2M270.6 215h4M463.2 215h-4M270.6 195.6h2M463.2 195.6h-2M270.6 184.2h2M463.2 184.2h-2M270.6 176.2h2M463.2 176.2h-2M270.6 169.9h2M463.2 169.9h-2M270.6 164.8h2M463.2 164.8h-2M270.6 160.5h2M463.2 160.5h-2M270.6 156.8h2M463.2 156.8h-2M270.6 153.5h2M463.2 153.5h-2M270.6 150.6h4M463.2 150.6h-4M277.8 147.9v1.6M277.8 289.1v-1.7M284.3 147.9v1.6M284.3 289.1v-1.7M290.1 147.9v2.7M290.1 289.1v-3.2M328.4 147.9v1.6M328.4 289.1v-1.7M350.8 147.9v1.6M350.8 289.1v-1.7M366.7 147.9v1.6M366.7 289.1v-1.7M379.1 147.9v1.6M379.1 289.1v-1.7M389.2 147.9v1.6M389.2 289.1v-1.7M397.7 147.9v1.6M397.7 289.1v-1.7M405.1 147.9v1.6M405.1 289.1v-1.7M411.6 147.9v1.6M411.6 289.1v-1.7M417.4 147.9v2.7M417.4 289.1v-3.2M455.7 147.9v1.6M455.7 289.1v-1.7" stroke="#000" stroke-width="1.1" fill="none"/>
<rect x="270.6" y="147.9" width="192.6" height="141.2" fill="none" stroke="#000" stroke-width="1.25"/>
<g font-size="16" fill="#2e2e2e" class="t">
<text x="303.9" y="170.7">E</text>
<text x="397.3" y="254.5" textLength="33.6" lengthAdjust="spacing">15M</text>
<circle cx="436.2" cy="254.3" r="3.4" fill="none" stroke="#222" stroke-width="1.1"/><circle cx="436.2" cy="254.3" r="0.95"/>
<text x="384.5" y="280.2" textLength="34.4" lengthAdjust="spacing">post</text>
<text x="433.7" y="280.2" textLength="23.6" lengthAdjust="spacing">MS</text>
<path d="M421.5 274.6h10.4" stroke="#2e2e2e" stroke-width="1.2" fill="none"/>
</g>
</g>
<g>
<rect x="484.4" y="150.6" width="11.1" height="135.2" fill="#e1e1e1"/>
<path d="M490.2 283.7V285.9M528.5 287.1V288.7" stroke="#cbcbcb" stroke-opacity="0.9" stroke-width="2.3" fill="none"/>
<path d="M550.9 286.5V288.7M566.8 278.5V288.7M579.2 271.3V288.7" stroke="#cbcbcb" stroke-opacity="0.95" stroke-width="2.3" fill="none"/>
<path d="M589.3 265.4V288.7M597.8 260.5V288.7M605.2 260.2V288.7M611.7 259.9V288.7M617.5 259.6V288.7M622.8 259.4V288.7M627.6 259.2V288.7M632 259V288.7M636.1 258.9V288.7M639.9 258.7V288.7M643.5 258.6V288.7M646.8 258.4V288.7M650 258.3V288.7M653 258.2V288.7M655.8 258.1V288.7" stroke="#cbcbcb" stroke-opacity="1.0" stroke-width="2.3" fill="none"/>
<path d="M489.1 275.9h2.2m-1.1 -1.1v2.2M489.1 277.5h2.2m-1.1 -1.1v2.2M489.1 278.9h2.2m-1.1 -1.1v2.2M489.1 280.4h2.2m-1.1 -1.1v2.2M489.1 281.7h2.2m-1.1 -1.1v2.2M489.1 283.1h2.2m-1.1 -1.1v2.2M489.1 274.3h2.2m-1.1 -1.1v2.2M489.1 272.5h2.2m-1.1 -1.1v2.2M489.1 270.3h2.2m-1.1 -1.1v2.2M489.1 265h2.2m-1.1 -1.1v2.2M489.1 261.6h2.2m-1.1 -1.1v2.2M489.1 257.3h2.2m-1.1 -1.1v2.2M489.1 246.9h2.2m-1.1 -1.1v2.2M489.1 241.1h2.2m-1.1 -1.1v2.2M489.1 235.6h2.2m-1.1 -1.1v2.2M489.1 211.6h2.2m-1.1 -1.1v2.2M489.1 204.6h2.2m-1.1 -1.1v2.2M489.1 202.2h2.2m-1.1 -1.1v2.2M489.1 199.9h2.2m-1.1 -1.1v2.2M489.1 197.6h2.2m-1.1 -1.1v2.2M489.1 195.3h2.2m-1.1 -1.1v2.2M489.1 193h2.2m-1.1 -1.1v2.2M489.1 190.7h2.2m-1.1 -1.1v2.2M489.1 188.5h2.2m-1.1 -1.1v2.2M489.1 186.2h2.2m-1.1 -1.1v2.2M489.1 184h2.2m-1.1 -1.1v2.2M489.1 181.7h2.2m-1.1 -1.1v2.2M489.1 179.5h2.2m-1.1 -1.1v2.2M489.1 177.3h2.2m-1.1 -1.1v2.2M489.1 175.1h2.2m-1.1 -1.1v2.2M489.1 172.9h2.2m-1.1 -1.1v2.2M489.1 170.8h2.2m-1.1 -1.1v2.2M489.1 168.6h2.2m-1.1 -1.1v2.2M527.4 281.9h2.2m-1.1 -1.1v2.2M527.4 283.5h2.2m-1.1 -1.1v2.2M527.4 284.9h2.2m-1.1 -1.1v2.2M527.4 286.4h2.2m-1.1 -1.1v2.2M527.4 280.3h2.2m-1.1 -1.1v2.2M527.4 278.7h2.2m-1.1 -1.1v2.2M527.4 268.7h2.2m-1.1 -1.1v2.2M527.4 266.3h2.2m-1.1 -1.1v2.2M527.4 263.8h2.2m-1.1 -1.1v2.2M527.4 261.1h2.2m-1.1 -1.1v2.2M527.4 258.3h2.2m-1.1 -1.1v2.2M527.4 252.1h2.2m-1.1 -1.1v2.2M527.4 248.8h2.2m-1.1 -1.1v2.2M527.4 245.5h2.2m-1.1 -1.1v2.2M527.4 241.6h2.2m-1.1 -1.1v2.2M527.4 233.5h2.2m-1.1 -1.1v2.2M527.4 230.4h2.2m-1.1 -1.1v2.2M527.4 226.3h2.2m-1.1 -1.1v2.2M527.4 222h2.2m-1.1 -1.1v2.2M527.4 217.5h2.2m-1.1 -1.1v2.2M527.4 213.9h2.2m-1.1 -1.1v2.2M527.4 209.5h2.2m-1.1 -1.1v2.2M527.4 206.7h2.2m-1.1 -1.1v2.2M527.4 204.4h2.2m-1.1 -1.1v2.2M527.4 202h2.2m-1.1 -1.1v2.2M527.4 197.4h2.2m-1.1 -1.1v2.2M527.4 192.9h2.2m-1.1 -1.1v2.2M527.4 190.6h2.2m-1.1 -1.1v2.2M527.4 188.4h2.2m-1.1 -1.1v2.2M527.4 183.9h2.2m-1.1 -1.1v2.2M527.4 181.7h2.2m-1.1 -1.1v2.2M527.4 179.5h2.2m-1.1 -1.1v2.2M527.4 177.3h2.2m-1.1 -1.1v2.2M527.4 175.1h2.2m-1.1 -1.1v2.2M527.4 172.9h2.2m-1.1 -1.1v2.2M527.4 170.8h2.2m-1.1 -1.1v2.2M527.4 168.6h2.2m-1.1 -1.1v2.2M549.8 273.9h2.2m-1.1 -1.1v2.2M549.8 275.4h2.2m-1.1 -1.1v2.2M549.8 276.9h2.2m-1.1 -1.1v2.2M549.8 278.4h2.2m-1.1 -1.1v2.2M549.8 279.7h2.2m-1.1 -1.1v2.2M549.8 281.1h2.2m-1.1 -1.1v2.2M549.8 282.3h2.2m-1.1 -1.1v2.2M549.8 283.6h2.2m-1.1 -1.1v2.2M549.8 284.8h2.2m-1.1 -1.1v2.2M549.8 285.9h2.2m-1.1 -1.1v2.2M549.8 272.3h2.2m-1.1 -1.1v2.2M549.8 270.7h2.2m-1.1 -1.1v2.2M549.8 268.9h2.2m-1.1 -1.1v2.2M549.8 267.1h2.2m-1.1 -1.1v2.2M549.8 265.2h2.2m-1.1 -1.1v2.2M549.8 261.1h2.2m-1.1 -1.1v2.2M549.8 258.9h2.2m-1.1 -1.1v2.2M549.8 256.6h2.2m-1.1 -1.1v2.2M549.8 254.2h2.2m-1.1 -1.1v2.2M549.8 251.7h2.2m-1.1 -1.1v2.2M549.8 249h2.2m-1.1 -1.1v2.2M549.8 246.3h2.2m-1.1 -1.1v2.2M549.8 243.3h2.2m-1.1 -1.1v2.2M549.8 240.2h2.2m-1.1 -1.1v2.2M549.8 236.9h2.2m-1.1 -1.1v2.2M549.8 233.3h2.2m-1.1 -1.1v2.2M549.8 230.1h2.2m-1.1 -1.1v2.2M549.8 226.9h2.2m-1.1 -1.1v2.2M549.8 222.8h2.2m-1.1 -1.1v2.2M549.8 219.4h2.2m-1.1 -1.1v2.2M549.8 216.4h2.2m-1.1 -1.1v2.2M549.8 213.8h2.2m-1.1 -1.1v2.2M549.8 211.5h2.2m-1.1 -1.1v2.2M549.8 209.2h2.2m-1.1 -1.1v2.2M549.8 206.9h2.2m-1.1 -1.1v2.2M549.8 204.5h2.2m-1.1 -1.1v2.2M549.8 202.2h2.2m-1.1 -1.1v2.2M549.8 200h2.2m-1.1 -1.1v2.2M549.8 197.7h2.2m-1.1 -1.1v2.2M549.8 190.9h2.2m-1.1 -1.1v2.2M549.8 186.4h2.2m-1.1 -1.1v2.2M549.8 182h2.2m-1.1 -1.1v2.2M549.8 177.6h2.2m-1.1 -1.1v2.2M549.8 175.4h2.2m-1.1 -1.1v2.2M549.8 171.1h2.2m-1.1 -1.1v2.2M549.8 168.9h2.2m-1.1 -1.1v2.2M565.7 265.9h2.2m-1.1 -1.1v2.2M565.7 267.4h2.2m-1.1 -1.1v2.2M565.7 268.9h2.2m-1.1 -1.1v2.2M565.7 270.4h2.2m-1.1 -1.1v2.2M565.7 271.7h2.2m-1.1 -1.1v2.2M565.7 273.1h2.2m-1.1 -1.1v2.2M565.7 274.3h2.2m-1.1 -1.1v2.2M565.7 275.6h2.2m-1.1 -1.1v2.2M565.7 276.8h2.2m-1.1 -1.1v2.2M565.7 277.9h2.2m-1.1 -1.1v2.2M565.7 264.3h2.2m-1.1 -1.1v2.2M565.7 262.7h2.2m-1.1 -1.1v2.2M565.7 261h2.2m-1.1 -1.1v2.2M565.7 257.2h2.2m-1.1 -1.1v2.2M565.7 255.1h2.2m-1.1 -1.1v2.2M565.7 253h2.2m-1.1 -1.1v2.2M565.7 248.2h2.2m-1.1 -1.1v2.2M565.7 245.6h2.2m-1.1 -1.1v2.2M565.7 242.9h2.2m-1.1 -1.1v2.2M565.7 234h2.2m-1.1 -1.1v2.2M565.7 230.9h2.2m-1.1 -1.1v2.2M565.7 227.8h2.2m-1.1 -1.1v2.2M565.7 221.7h2.2m-1.1 -1.1v2.2M565.7 216.7h2.2m-1.1 -1.1v2.2M565.7 214.5h2.2m-1.1 -1.1v2.2M565.7 212.3h2.2m-1.1 -1.1v2.2M565.7 208h2.2m-1.1 -1.1v2.2M565.7 205.8h2.2m-1.1 -1.1v2.2M565.7 201.4h2.2m-1.1 -1.1v2.2M565.7 199.3h2.2m-1.1 -1.1v2.2M565.7 197.1h2.2m-1.1 -1.1v2.2M565.7 195h2.2m-1.1 -1.1v2.2M565.7 192.8h2.2m-1.1 -1.1v2.2M565.7 190.6h2.2m-1.1 -1.1v2.2M565.7 188.5h2.2m-1.1 -1.1v2.2M565.7 186.4h2.2m-1.1 -1.1v2.2M565.7 184.2h2.2m-1.1 -1.1v2.2M565.7 182.1h2.2m-1.1 -1.1v2.2M565.7 180h2.2m-1.1 -1.1v2.2M565.7 173.6h2.2m-1.1 -1.1v2.2M565.7 171.5h2.2m-1.1 -1.1v2.2M565.7 169.4h2.2m-1.1 -1.1v2.2M578.1 258.7h2.2m-1.1 -1.1v2.2M578.1 260.3h2.2m-1.1 -1.1v2.2M578.1 261.8h2.2m-1.1 -1.1v2.2M578.1 263.2h2.2m-1.1 -1.1v2.2M578.1 264.6h2.2m-1.1 -1.1v2.2M578.1 265.9h2.2m-1.1 -1.1v2.2M578.1 267.2h2.2m-1.1 -1.1v2.2M578.1 268.4h2.2m-1.1 -1.1v2.2M578.1 269.6h2.2m-1.1 -1.1v2.2M578.1 270.8h2.2m-1.1 -1.1v2.2M578.1 257.1h2.2m-1.1 -1.1v2.2M578.1 253.6h2.2m-1.1 -1.1v2.2M578.1 251.6h2.2m-1.1 -1.1v2.2M578.1 249.5h2.2m-1.1 -1.1v2.2M578.1 247.2h2.2m-1.1 -1.1v2.2M578.1 244.7h2.2m-1.1 -1.1v2.2M578.1 242.1h2.2m-1.1 -1.1v2.2M578.1 239.3h2.2m-1.1 -1.1v2.2M578.1 236.3h2.2m-1.1 -1.1v2.2M578.1 233.2h2.2m-1.1 -1.1v2.2M578.1 230.2h2.2m-1.1 -1.1v2.2M578.1 227.2h2.2m-1.1 -1.1v2.2M578.1 224.2h2.2m-1.1 -1.1v2.2M578.1 221.3h2.2m-1.1 -1.1v2.2M578.1 218.8h2.2m-1.1 -1.1v2.2M578.1 216.4h2.2m-1.1 -1.1v2.2M578.1 212h2.2m-1.1 -1.1v2.2M578.1 207.7h2.2m-1.1 -1.1v2.2M578.1 205.5h2.2m-1.1 -1.1v2.2M578.1 203.3h2.2m-1.1 -1.1v2.2M578.1 201.1h2.2m-1.1 -1.1v2.2M578.1 199h2.2m-1.1 -1.1v2.2M578.1 196.8h2.2m-1.1 -1.1v2.2M578.1 194.6h2.2m-1.1 -1.1v2.2M578.1 190.3h2.2m-1.1 -1.1v2.2M578.1 188.2h2.2m-1.1 -1.1v2.2M578.1 186h2.2m-1.1 -1.1v2.2M578.1 181.8h2.2m-1.1 -1.1v2.2M578.1 179.7h2.2m-1.1 -1.1v2.2M578.1 177.5h2.2m-1.1 -1.1v2.2M578.1 175.4h2.2m-1.1 -1.1v2.2M578.1 173.3h2.2m-1.1 -1.1v2.2M578.1 171.2h2.2m-1.1 -1.1v2.2M588.2 252.9h2.2m-1.1 -1.1v2.2M588.2 254.4h2.2m-1.1 -1.1v2.2M588.2 255.9h2.2m-1.1 -1.1v2.2M588.2 257.3h2.2m-1.1 -1.1v2.2M588.2 258.7h2.2m-1.1 -1.1v2.2M588.2 260h2.2m-1.1 -1.1v2.2M588.2 261.3h2.2m-1.1 -1.1v2.2M588.2 262.5h2.2m-1.1 -1.1v2.2M588.2 263.7h2.2m-1.1 -1.1v2.2M588.2 264.9h2.2m-1.1 -1.1v2.2M588.2 251.3h2.2m-1.1 -1.1v2.2M588.2 249.5h2.2m-1.1 -1.1v2.2M588.2 247.5h2.2m-1.1 -1.1v2.2M588.2 245.3h2.2m-1.1 -1.1v2.2M588.2 242.9h2.2m-1.1 -1.1v2.2M588.2 240.2h2.2m-1.1 -1.1v2.2M588.2 237.4h2.2m-1.1 -1.1v2.2M588.2 234.4h2.2m-1.1 -1.1v2.2M588.2 231.4h2.2m-1.1 -1.1v2.2M588.2 228.5h2.2m-1.1 -1.1v2.2M588.2 225.6h2.2m-1.1 -1.1v2.2M588.2 222.8h2.2m-1.1 -1.1v2.2M588.2 220.2h2.2m-1.1 -1.1v2.2M588.2 217.8h2.2m-1.1 -1.1v2.2M588.2 215.6h2.2m-1.1 -1.1v2.2M588.2 213.4h2.2m-1.1 -1.1v2.2M588.2 211.2h2.2m-1.1 -1.1v2.2M588.2 209.1h2.2m-1.1 -1.1v2.2M588.2 206.9h2.2m-1.1 -1.1v2.2M588.2 204.8h2.2m-1.1 -1.1v2.2M588.2 202.6h2.2m-1.1 -1.1v2.2M588.2 200.5h2.2m-1.1 -1.1v2.2M588.2 198.3h2.2m-1.1 -1.1v2.2M588.2 196.2h2.2m-1.1 -1.1v2.2M588.2 194.1h2.2m-1.1 -1.1v2.2M588.2 191.9h2.2m-1.1 -1.1v2.2M588.2 187.7h2.2m-1.1 -1.1v2.2M588.2 185.6h2.2m-1.1 -1.1v2.2M588.2 183.5h2.2m-1.1 -1.1v2.2M588.2 181.4h2.2m-1.1 -1.1v2.2M588.2 179.3h2.2m-1.1 -1.1v2.2M588.2 177.2h2.2m-1.1 -1.1v2.2M588.2 175.1h2.2m-1.1 -1.1v2.2M588.2 173h2.2m-1.1 -1.1v2.2M588.2 170.9h2.2m-1.1 -1.1v2.2M588.2 168.8h2.2m-1.1 -1.1v2.2M596.7 247.9h2.2m-1.1 -1.1v2.2M596.7 249.4h2.2m-1.1 -1.1v2.2M596.7 250.9h2.2m-1.1 -1.1v2.2M596.7 252.4h2.2m-1.1 -1.1v2.2M596.7 253.7h2.2m-1.1 -1.1v2.2M596.7 255.1h2.2m-1.1 -1.1v2.2M596.7 256.3h2.2m-1.1 -1.1v2.2M596.7 257.6h2.2m-1.1 -1.1v2.2M596.7 258.8h2.2m-1.1 -1.1v2.2M596.7 259.9h2.2m-1.1 -1.1v2.2M596.7 246.3h2.2m-1.1 -1.1v2.2M596.7 244.4h2.2m-1.1 -1.1v2.2M596.7 242.2h2.2m-1.1 -1.1v2.2M596.7 236.8h2.2m-1.1 -1.1v2.2M596.7 233.9h2.2m-1.1 -1.1v2.2M596.7 231.1h2.2m-1.1 -1.1v2.2M596.7 223h2.2m-1.1 -1.1v2.2M596.7 218.3h2.2m-1.1 -1.1v2.2M596.7 216.1h2.2m-1.1 -1.1v2.2M596.7 214h2.2m-1.1 -1.1v2.2M596.7 211.9h2.2m-1.1 -1.1v2.2M596.7 207.7h2.2m-1.1 -1.1v2.2M596.7 205.6h2.2m-1.1 -1.1v2.2M596.7 203.5h2.2m-1.1 -1.1v2.2M596.7 201.4h2.2m-1.1 -1.1v2.2M596.7 199.3h2.2m-1.1 -1.1v2.2M596.7 197.3h2.2m-1.1 -1.1v2.2M596.7 195.2h2.2m-1.1 -1.1v2.2M596.7 191h2.2m-1.1 -1.1v2.2M596.7 189h2.2m-1.1 -1.1v2.2M596.7 186.9h2.2m-1.1 -1.1v2.2M596.7 184.9h2.2m-1.1 -1.1v2.2M596.7 182.8h2.2m-1.1 -1.1v2.2M596.7 180.8h2.2m-1.1 -1.1v2.2M596.7 178.7h2.2m-1.1 -1.1v2.2M596.7 174.7h2.2m-1.1 -1.1v2.2M596.7 172.6h2.2m-1.1 -1.1v2.2M596.7 168.6h2.2m-1.1 -1.1v2.2M604.1 247.6h2.2m-1.1 -1.1v2.2M604.1 249.1h2.2m-1.1 -1.1v2.2M604.1 250.6h2.2m-1.1 -1.1v2.2M604.1 252.1h2.2m-1.1 -1.1v2.2M604.1 253.4h2.2m-1.1 -1.1v2.2M604.1 254.8h2.2m-1.1 -1.1v2.2M604.1 256h2.2m-1.1 -1.1v2.2M604.1 257.3h2.2m-1.1 -1.1v2.2M604.1 258.5h2.2m-1.1 -1.1v2.2M604.1 259.6h2.2m-1.1 -1.1v2.2M604.1 246h2.2m-1.1 -1.1v2.2M604.1 244.1h2.2m-1.1 -1.1v2.2M604.1 241.8h2.2m-1.1 -1.1v2.2M604.1 239.1h2.2m-1.1 -1.1v2.2M604.1 236.3h2.2m-1.1 -1.1v2.2M604.1 230.3h2.2m-1.1 -1.1v2.2M604.1 227.5h2.2m-1.1 -1.1v2.2M604.1 224.6h2.2m-1.1 -1.1v2.2M604.1 221.9h2.2m-1.1 -1.1v2.2M604.1 219.3h2.2m-1.1 -1.1v2.2M604.1 216.9h2.2m-1.1 -1.1v2.2M604.1 214.6h2.2m-1.1 -1.1v2.2M604.1 210.3h2.2m-1.1 -1.1v2.2M604.1 208.1h2.2m-1.1 -1.1v2.2M604.1 206h2.2m-1.1 -1.1v2.2M604.1 203.9h2.2m-1.1 -1.1v2.2M604.1 201.8h2.2m-1.1 -1.1v2.2M604.1 199.6h2.2m-1.1 -1.1v2.2M604.1 197.5h2.2m-1.1 -1.1v2.2M604.1 195.4h2.2m-1.1 -1.1v2.2M604.1 193.3h2.2m-1.1 -1.1v2.2M604.1 191.2h2.2m-1.1 -1.1v2.2M604.1 189.1h2.2m-1.1 -1.1v2.2M604.1 187h2.2m-1.1 -1.1v2.2M604.1 185h2.2m-1.1 -1.1v2.2M604.1 182.9h2.2m-1.1 -1.1v2.2M604.1 180.8h2.2m-1.1 -1.1v2.2M604.1 178.7h2.2m-1.1 -1.1v2.2M604.1 176.7h2.2m-1.1 -1.1v2.2M604.1 172.5h2.2m-1.1 -1.1v2.2M604.1 170.5h2.2m-1.1 -1.1v2.2M604.1 168.4h2.2m-1.1 -1.1v2.2M610.6 247.3h2.2m-1.1 -1.1v2.2M610.6 248.9h2.2m-1.1 -1.1v2.2M610.6 250.4h2.2m-1.1 -1.1v2.2M610.6 251.8h2.2m-1.1 -1.1v2.2M610.6 253.2h2.2m-1.1 -1.1v2.2M610.6 254.5h2.2m-1.1 -1.1v2.2M610.6 255.8h2.2m-1.1 -1.1v2.2M610.6 257h2.2m-1.1 -1.1v2.2M610.6 258.2h2.2m-1.1 -1.1v2.2M610.6 259.4h2.2m-1.1 -1.1v2.2M610.6 245.8h2.2m-1.1 -1.1v2.2M610.6 243.9h2.2m-1.1 -1.1v2.2M610.6 241.6h2.2m-1.1 -1.1v2.2M610.6 236.1h2.2m-1.1 -1.1v2.2M610.6 233h2.2m-1.1 -1.1v2.2M610.6 230.1h2.2m-1.1 -1.1v2.2M610.6 227.2h2.2m-1.1 -1.1v2.2M610.6 224.3h2.2m-1.1 -1.1v2.2M610.6 221.6h2.2m-1.1 -1.1v2.2M610.6 218.9h2.2m-1.1 -1.1v2.2M610.6 216.4h2.2m-1.1 -1.1v2.2M610.6 214h2.2m-1.1 -1.1v2.2M610.6 211.8h2.2m-1.1 -1.1v2.2M610.6 209.7h2.2m-1.1 -1.1v2.2M610.6 207.6h2.2m-1.1 -1.1v2.2M610.6 205.4h2.2m-1.1 -1.1v2.2M610.6 203.3h2.2m-1.1 -1.1v2.2M610.6 199.2h2.2m-1.1 -1.1v2.2M610.6 197.1h2.2m-1.1 -1.1v2.2M610.6 195h2.2m-1.1 -1.1v2.2M610.6 192.9h2.2m-1.1 -1.1v2.2M610.6 188.8h2.2m-1.1 -1.1v2.2M610.6 184.6h2.2m-1.1 -1.1v2.2M610.6 178.5h2.2m-1.1 -1.1v2.2M610.6 176.4h2.2m-1.1 -1.1v2.2M610.6 172.4h2.2m-1.1 -1.1v2.2M610.6 170.3h2.2m-1.1 -1.1v2.2M610.6 168.3h2.2m-1.1 -1.1v2.2M616.4 247.1h2.2m-1.1 -1.1v2.2M616.4 248.6h2.2m-1.1 -1.1v2.2M616.4 250.1h2.2m-1.1 -1.1v2.2M616.4 251.6h2.2m-1.1 -1.1v2.2M616.4 252.9h2.2m-1.1 -1.1v2.2M616.4 254.3h2.2m-1.1 -1.1v2.2M616.4 255.5h2.2m-1.1 -1.1v2.2M616.4 256.8h2.2m-1.1 -1.1v2.2M616.4 258h2.2m-1.1 -1.1v2.2M616.4 259.1h2.2m-1.1 -1.1v2.2M616.4 243.6h2.2m-1.1 -1.1v2.2M616.4 241.2h2.2m-1.1 -1.1v2.2M616.4 238.5h2.2m-1.1 -1.1v2.2M616.4 235.6h2.2m-1.1 -1.1v2.2M616.4 232.5h2.2m-1.1 -1.1v2.2M616.4 229.4h2.2m-1.1 -1.1v2.2M616.4 223.5h2.2m-1.1 -1.1v2.2M616.4 220.6h2.2m-1.1 -1.1v2.2M616.4 215.2h2.2m-1.1 -1.1v2.2M616.4 212.7h2.2m-1.1 -1.1v2.2M616.4 210.4h2.2m-1.1 -1.1v2.2M616.4 208.1h2.2m-1.1 -1.1v2.2M616.4 206h2.2m-1.1 -1.1v2.2M616.4 203.8h2.2m-1.1 -1.1v2.2M616.4 201.7h2.2m-1.1 -1.1v2.2M616.4 199.6h2.2m-1.1 -1.1v2.2M616.4 197.4h2.2m-1.1 -1.1v2.2M616.4 193.2h2.2m-1.1 -1.1v2.2M616.4 191.1h2.2m-1.1 -1.1v2.2M616.4 189h2.2m-1.1 -1.1v2.2M616.4 186.9h2.2m-1.1 -1.1v2.2M616.4 184.8h2.2m-1.1 -1.1v2.2M616.4 182.7h2.2m-1.1 -1.1v2.2M616.4 178.5h2.2m-1.1 -1.1v2.2M616.4 176.4h2.2m-1.1 -1.1v2.2M616.4 174.4h2.2m-1.1 -1.1v2.2M616.4 172.3h2.2m-1.1 -1.1v2.2M616.4 170.2h2.2m-1.1 -1.1v2.2M616.4 168.2h2.2m-1.1 -1.1v2.2M621.7 246.9h2.2m-1.1 -1.1v2.2M621.7 248.4h2.2m-1.1 -1.1v2.2M621.7 249.9h2.2m-1.1 -1.1v2.2M621.7 251.3h2.2m-1.1 -1.1v2.2M621.7 252.7h2.2m-1.1 -1.1v2.2M621.7 254h2.2m-1.1 -1.1v2.2M621.7 255.3h2.2m-1.1 -1.1v2.2M621.7 256.5h2.2m-1.1 -1.1v2.2M621.7 257.7h2.2m-1.1 -1.1v2.2M621.7 258.9h2.2m-1.1 -1.1v2.2M621.7 245.3h2.2m-1.1 -1.1v2.2M621.7 243.4h2.2m-1.1 -1.1v2.2M621.7 241.1h2.2m-1.1 -1.1v2.2M621.7 238.4h2.2m-1.1 -1.1v2.2M621.7 232.3h2.2m-1.1 -1.1v2.2M621.7 229.2h2.2m-1.1 -1.1v2.2M621.7 226.2h2.2m-1.1 -1.1v2.2M621.7 223.3h2.2m-1.1 -1.1v2.2M621.7 220.4h2.2m-1.1 -1.1v2.2M621.7 217.6h2.2m-1.1 -1.1v2.2M621.7 215h2.2m-1.1 -1.1v2.2M621.7 212.4h2.2m-1.1 -1.1v2.2M621.7 210h2.2m-1.1 -1.1v2.2M621.7 207.7h2.2m-1.1 -1.1v2.2M621.7 205.5h2.2m-1.1 -1.1v2.2M621.7 203.4h2.2m-1.1 -1.1v2.2M621.7 201.3h2.2m-1.1 -1.1v2.2M621.7 199.2h2.2m-1.1 -1.1v2.2M621.7 197.1h2.2m-1.1 -1.1v2.2M621.7 192.8h2.2m-1.1 -1.1v2.2M621.7 190.8h2.2m-1.1 -1.1v2.2M621.7 186.6h2.2m-1.1 -1.1v2.2M621.7 182.4h2.2m-1.1 -1.1v2.2M621.7 180.4h2.2m-1.1 -1.1v2.2M621.7 178.3h2.2m-1.1 -1.1v2.2M621.7 176.3h2.2m-1.1 -1.1v2.2M621.7 174.2h2.2m-1.1 -1.1v2.2M621.7 172.2h2.2m-1.1 -1.1v2.2M621.7 170.1h2.2m-1.1 -1.1v2.2M621.7 168.1h2.2m-1.1 -1.1v2.2M626.5 246.7h2.2m-1.1 -1.1v2.2M626.5 248.2h2.2m-1.1 -1.1v2.2M626.5 249.7h2.2m-1.1 -1.1v2.2M626.5 251.1h2.2m-1.1 -1.1v2.2M626.5 252.5h2.2m-1.1 -1.1v2.2M626.5 253.8h2.2m-1.1 -1.1v2.2M626.5 255.1h2.2m-1.1 -1.1v2.2M626.5 256.3h2.2m-1.1 -1.1v2.2M626.5 257.5h2.2m-1.1 -1.1v2.2M626.5 258.7h2.2m-1.1 -1.1v2.2M626.5 245.1h2.2m-1.1 -1.1v2.2M626.5 243.2h2.2m-1.1 -1.1v2.2M626.5 240.9h2.2m-1.1 -1.1v2.2M626.5 235.3h2.2m-1.1 -1.1v2.2M626.5 223.1h2.2m-1.1 -1.1v2.2M626.5 220.2h2.2m-1.1 -1.1v2.2M626.5 217.4h2.2m-1.1 -1.1v2.2M626.5 214.7h2.2m-1.1 -1.1v2.2M626.5 209.7h2.2m-1.1 -1.1v2.2M626.5 207.3h2.2m-1.1 -1.1v2.2M626.5 200.9h2.2m-1.1 -1.1v2.2M626.5 196.7h2.2m-1.1 -1.1v2.2M626.5 194.6h2.2m-1.1 -1.1v2.2M626.5 192.5h2.2m-1.1 -1.1v2.2M626.5 190.4h2.2m-1.1 -1.1v2.2M626.5 188.4h2.2m-1.1 -1.1v2.2M626.5 186.3h2.2m-1.1 -1.1v2.2M626.5 182.2h2.2m-1.1 -1.1v2.2M626.5 180.2h2.2m-1.1 -1.1v2.2M626.5 178.1h2.2m-1.1 -1.1v2.2M626.5 174h2.2m-1.1 -1.1v2.2M626.5 172h2.2m-1.1 -1.1v2.2M626.5 170h2.2m-1.1 -1.1v2.2M630.9 246.5h2.2m-1.1 -1.1v2.2M630.9 248h2.2m-1.1 -1.1v2.2M630.9 249.5h2.2m-1.1 -1.1v2.2M630.9 251h2.2m-1.1 -1.1v2.2M630.9 252.3h2.2m-1.1 -1.1v2.2M630.9 253.7h2.2m-1.1 -1.1v2.2M630.9 254.9h2.2m-1.1 -1.1v2.2M630.9 256.2h2.2m-1.1 -1.1v2.2M630.9 257.4h2.2m-1.1 -1.1v2.2M630.9 258.5h2.2m-1.1 -1.1v2.2M630.9 244.9h2.2m-1.1 -1.1v2.2M630.9 243h2.2m-1.1 -1.1v2.2M630.9 237.9h2.2m-1.1 -1.1v2.2M630.9 231.7h2.2m-1.1 -1.1v2.2M630.9 228.5h2.2m-1.1 -1.1v2.2M630.9 222.3h2.2m-1.1 -1.1v2.2M630.9 216.5h2.2m-1.1 -1.1v2.2M630.9 213.7h2.2m-1.1 -1.1v2.2M630.9 211h2.2m-1.1 -1.1v2.2M630.9 208.4h2.2m-1.1 -1.1v2.2M630.9 203.7h2.2m-1.1 -1.1v2.2M630.9 201.5h2.2m-1.1 -1.1v2.2M630.9 199.3h2.2m-1.1 -1.1v2.2M630.9 197.2h2.2m-1.1 -1.1v2.2M630.9 190.8h2.2m-1.1 -1.1v2.2M630.9 188.7h2.2m-1.1 -1.1v2.2M630.9 186.6h2.2m-1.1 -1.1v2.2M630.9 184.5h2.2m-1.1 -1.1v2.2M630.9 182.4h2.2m-1.1 -1.1v2.2M630.9 178.2h2.2m-1.1 -1.1v2.2M630.9 176.1h2.2m-1.1 -1.1v2.2M630.9 174.1h2.2m-1.1 -1.1v2.2M630.9 172h2.2m-1.1 -1.1v2.2M630.9 169.9h2.2m-1.1 -1.1v2.2M635 246.3h2.2m-1.1 -1.1v2.2M635 247.9h2.2m-1.1 -1.1v2.2M635 249.4h2.2m-1.1 -1.1v2.2M635 250.8h2.2m-1.1 -1.1v2.2M635 252.2h2.2m-1.1 -1.1v2.2M635 253.5h2.2m-1.1 -1.1v2.2M635 254.8h2.2m-1.1 -1.1v2.2M635 256h2.2m-1.1 -1.1v2.2M635 257.2h2.2m-1.1 -1.1v2.2M635 258.3h2.2m-1.1 -1.1v2.2M635 244.7h2.2m-1.1 -1.1v2.2M635 242.8h2.2m-1.1 -1.1v2.2M635 240.5h2.2m-1.1 -1.1v2.2M635 237.7h2.2m-1.1 -1.1v2.2M635 231.6h2.2m-1.1 -1.1v2.2M635 225.2h2.2m-1.1 -1.1v2.2M635 219.2h2.2m-1.1 -1.1v2.2M635 213.5h2.2m-1.1 -1.1v2.2M635 208.2h2.2m-1.1 -1.1v2.2M635 205.7h2.2m-1.1 -1.1v2.2M635 203.4h2.2m-1.1 -1.1v2.2M635 201.1h2.2m-1.1 -1.1v2.2M635 199h2.2m-1.1 -1.1v2.2M635 196.9h2.2m-1.1 -1.1v2.2M635 194.8h2.2m-1.1 -1.1v2.2M635 188.4h2.2m-1.1 -1.1v2.2M635 184.3h2.2m-1.1 -1.1v2.2M635 182.2h2.2m-1.1 -1.1v2.2M635 178h2.2m-1.1 -1.1v2.2M635 176h2.2m-1.1 -1.1v2.2M635 173.9h2.2m-1.1 -1.1v2.2M635 171.9h2.2m-1.1 -1.1v2.2M635 169.8h2.2m-1.1 -1.1v2.2M635 167.8h2.2m-1.1 -1.1v2.2M638.8 246.2h2.2m-1.1 -1.1v2.2M638.8 247.7h2.2m-1.1 -1.1v2.2M638.8 249.2h2.2m-1.1 -1.1v2.2M638.8 250.6h2.2m-1.1 -1.1v2.2M638.8 252h2.2m-1.1 -1.1v2.2M638.8 253.3h2.2m-1.1 -1.1v2.2M638.8 254.6h2.2m-1.1 -1.1v2.2M638.8 255.8h2.2m-1.1 -1.1v2.2M638.8 257h2.2m-1.1 -1.1v2.2M638.8 258.2h2.2m-1.1 -1.1v2.2M638.8 244.6h2.2m-1.1 -1.1v2.2M638.8 242.7h2.2m-1.1 -1.1v2.2M638.8 240.4h2.2m-1.1 -1.1v2.2M638.8 234.7h2.2m-1.1 -1.1v2.2M638.8 231.5h2.2m-1.1 -1.1v2.2M638.8 228.2h2.2m-1.1 -1.1v2.2M638.8 222h2.2m-1.1 -1.1v2.2M638.8 210.6h2.2m-1.1 -1.1v2.2M638.8 208h2.2m-1.1 -1.1v2.2M638.8 203.1h2.2m-1.1 -1.1v2.2M638.8 200.9h2.2m-1.1 -1.1v2.2M638.8 198.7h2.2m-1.1 -1.1v2.2M638.8 196.6h2.2m-1.1 -1.1v2.2M638.8 194.5h2.2m-1.1 -1.1v2.2M638.8 190.3h2.2m-1.1 -1.1v2.2M638.8 188.2h2.2m-1.1 -1.1v2.2M638.8 186.1h2.2m-1.1 -1.1v2.2M638.8 182h2.2m-1.1 -1.1v2.2M638.8 179.9h2.2m-1.1 -1.1v2.2M638.8 177.9h2.2m-1.1 -1.1v2.2M638.8 175.8h2.2m-1.1 -1.1v2.2M638.8 173.8h2.2m-1.1 -1.1v2.2M638.8 171.8h2.2m-1.1 -1.1v2.2M638.8 169.7h2.2m-1.1 -1.1v2.2M642.4 246h2.2m-1.1 -1.1v2.2M642.4 247.6h2.2m-1.1 -1.1v2.2M642.4 249h2.2m-1.1 -1.1v2.2M642.4 250.5h2.2m-1.1 -1.1v2.2M642.4 251.9h2.2m-1.1 -1.1v2.2M642.4 253.2h2.2m-1.1 -1.1v2.2M642.4 254.5h2.2m-1.1 -1.1v2.2M642.4 255.7h2.2m-1.1 -1.1v2.2M642.4 256.9h2.2m-1.1 -1.1v2.2M642.4 258h2.2m-1.1 -1.1v2.2M642.4 242.5h2.2m-1.1 -1.1v2.2M642.4 240.1h2.2m-1.1 -1.1v2.2M642.4 237.3h2.2m-1.1 -1.1v2.2M642.4 224.4h2.2m-1.1 -1.1v2.2M642.4 218.2h2.2m-1.1 -1.1v2.2M642.4 212.3h2.2m-1.1 -1.1v2.2M642.4 204.2h2.2m-1.1 -1.1v2.2M642.4 201.8h2.2m-1.1 -1.1v2.2M642.4 199.4h2.2m-1.1 -1.1v2.2M642.4 195h2.2m-1.1 -1.1v2.2M642.4 192.8h2.2m-1.1 -1.1v2.2M642.4 190.7h2.2m-1.1 -1.1v2.2M642.4 188.6h2.2m-1.1 -1.1v2.2M642.4 186.5h2.2m-1.1 -1.1v2.2M642.4 184.3h2.2m-1.1 -1.1v2.2M642.4 180.1h2.2m-1.1 -1.1v2.2M642.4 178h2.2m-1.1 -1.1v2.2M642.4 175.9h2.2m-1.1 -1.1v2.2M642.4 173.9h2.2m-1.1 -1.1v2.2M642.4 171.8h2.2m-1.1 -1.1v2.2M642.4 169.7h2.2m-1.1 -1.1v2.2M642.4 167.7h2.2m-1.1 -1.1v2.2M645.7 245.9h2.2m-1.1 -1.1v2.2M645.7 247.4h2.2m-1.1 -1.1v2.2M645.7 248.9h2.2m-1.1 -1.1v2.2M645.7 250.3h2.2m-1.1 -1.1v2.2M645.7 251.7h2.2m-1.1 -1.1v2.2M645.7 253h2.2m-1.1 -1.1v2.2M645.7 254.3h2.2m-1.1 -1.1v2.2M645.7 255.6h2.2m-1.1 -1.1v2.2M645.7 256.7h2.2m-1.1 -1.1v2.2M645.7 257.9h2.2m-1.1 -1.1v2.2M645.7 244.3h2.2m-1.1 -1.1v2.2M645.7 242.4h2.2m-1.1 -1.1v2.2M645.7 240h2.2m-1.1 -1.1v2.2M645.7 237.2h2.2m-1.1 -1.1v2.2M645.7 234.2h2.2m-1.1 -1.1v2.2M645.7 224.3h2.2m-1.1 -1.1v2.2M645.7 221.2h2.2m-1.1 -1.1v2.2M645.7 218.1h2.2m-1.1 -1.1v2.2M645.7 212.2h2.2m-1.1 -1.1v2.2M645.7 204.1h2.2m-1.1 -1.1v2.2M645.7 201.6h2.2m-1.1 -1.1v2.2M645.7 196.9h2.2m-1.1 -1.1v2.2M645.7 194.7h2.2m-1.1 -1.1v2.2M645.7 192.6h2.2m-1.1 -1.1v2.2M645.7 190.5h2.2m-1.1 -1.1v2.2M645.7 188.4h2.2m-1.1 -1.1v2.2M645.7 186.3h2.2m-1.1 -1.1v2.2M645.7 182.1h2.2m-1.1 -1.1v2.2M645.7 175.8h2.2m-1.1 -1.1v2.2M645.7 173.7h2.2m-1.1 -1.1v2.2M645.7 171.7h2.2m-1.1 -1.1v2.2M645.7 169.6h2.2m-1.1 -1.1v2.2M645.7 167.6h2.2m-1.1 -1.1v2.2M648.9 245.7h2.2m-1.1 -1.1v2.2M648.9 247.3h2.2m-1.1 -1.1v2.2M648.9 248.8h2.2m-1.1 -1.1v2.2M648.9 250.2h2.2m-1.1 -1.1v2.2M648.9 251.6h2.2m-1.1 -1.1v2.2M648.9 252.9h2.2m-1.1 -1.1v2.2M648.9 254.2h2.2m-1.1 -1.1v2.2M648.9 255.4h2.2m-1.1 -1.1v2.2M648.9 256.6h2.2m-1.1 -1.1v2.2M648.9 257.8h2.2m-1.1 -1.1v2.2M648.9 244.2h2.2m-1.1 -1.1v2.2M648.9 239.9h2.2m-1.1 -1.1v2.2M648.9 227.5h2.2m-1.1 -1.1v2.2M648.9 221.1h2.2m-1.1 -1.1v2.2M648.9 215h2.2m-1.1 -1.1v2.2M648.9 206.5h2.2m-1.1 -1.1v2.2M648.9 203.9h2.2m-1.1 -1.1v2.2M648.9 199h2.2m-1.1 -1.1v2.2M648.9 196.7h2.2m-1.1 -1.1v2.2M648.9 194.5h2.2m-1.1 -1.1v2.2M648.9 192.4h2.2m-1.1 -1.1v2.2M648.9 188.2h2.2m-1.1 -1.1v2.2M648.9 186.1h2.2m-1.1 -1.1v2.2M648.9 184h2.2m-1.1 -1.1v2.2M648.9 181.9h2.2m-1.1 -1.1v2.2M648.9 179.8h2.2m-1.1 -1.1v2.2M648.9 177.7h2.2m-1.1 -1.1v2.2M648.9 173.6h2.2m-1.1 -1.1v2.2M648.9 171.6h2.2m-1.1 -1.1v2.2M648.9 169.6h2.2m-1.1 -1.1v2.2M648.9 167.5h2.2m-1.1 -1.1v2.2M651.9 245.6h2.2m-1.1 -1.1v2.2M651.9 247.2h2.2m-1.1 -1.1v2.2M651.9 248.7h2.2m-1.1 -1.1v2.2M651.9 250.1h2.2m-1.1 -1.1v2.2M651.9 251.5h2.2m-1.1 -1.1v2.2M651.9 252.8h2.2m-1.1 -1.1v2.2M651.9 254.1h2.2m-1.1 -1.1v2.2M651.9 255.3h2.2m-1.1 -1.1v2.2M651.9 256.5h2.2m-1.1 -1.1v2.2M651.9 257.7h2.2m-1.1 -1.1v2.2M651.9 244.1h2.2m-1.1 -1.1v2.2M651.9 242.2h2.2m-1.1 -1.1v2.2M651.9 230.8h2.2m-1.1 -1.1v2.2M651.9 217.9h2.2m-1.1 -1.1v2.2M651.9 214.9h2.2m-1.1 -1.1v2.2M651.9 212h2.2m-1.1 -1.1v2.2M651.9 198.8h2.2m-1.1 -1.1v2.2M651.9 196.5h2.2m-1.1 -1.1v2.2M651.9 192.2h2.2m-1.1 -1.1v2.2M651.9 190.1h2.2m-1.1 -1.1v2.2M651.9 185.9h2.2m-1.1 -1.1v2.2M651.9 183.8h2.2m-1.1 -1.1v2.2M651.9 181.7h2.2m-1.1 -1.1v2.2M651.9 179.7h2.2m-1.1 -1.1v2.2M651.9 177.6h2.2m-1.1 -1.1v2.2M651.9 175.6h2.2m-1.1 -1.1v2.2M651.9 173.5h2.2m-1.1 -1.1v2.2M651.9 171.5h2.2m-1.1 -1.1v2.2M651.9 169.5h2.2m-1.1 -1.1v2.2M651.9 167.5h2.2m-1.1 -1.1v2.2M654.7 245.5h2.2m-1.1 -1.1v2.2M654.7 247.1h2.2m-1.1 -1.1v2.2M654.7 248.5h2.2m-1.1 -1.1v2.2M654.7 250h2.2m-1.1 -1.1v2.2M654.7 251.3h2.2m-1.1 -1.1v2.2M654.7 252.7h2.2m-1.1 -1.1v2.2M654.7 253.9h2.2m-1.1 -1.1v2.2M654.7 255.2h2.2m-1.1 -1.1v2.2M654.7 256.4h2.2m-1.1 -1.1v2.2M654.7 257.5h2.2m-1.1 -1.1v2.2M654.7 243.9h2.2m-1.1 -1.1v2.2M654.7 239.6h2.2m-1.1 -1.1v2.2M654.7 236.7h2.2m-1.1 -1.1v2.2M654.7 230.3h2.2m-1.1 -1.1v2.2M654.7 226.8h2.2m-1.1 -1.1v2.2M654.7 214h2.2m-1.1 -1.1v2.2M654.7 211h2.2m-1.1 -1.1v2.2M654.7 205.2h2.2m-1.1 -1.1v2.2M654.7 202.5h2.2m-1.1 -1.1v2.2M654.7 197.4h2.2m-1.1 -1.1v2.2M654.7 195h2.2m-1.1 -1.1v2.2M654.7 192.7h2.2m-1.1 -1.1v2.2M654.7 188.4h2.2m-1.1 -1.1v2.2M654.7 186.3h2.2m-1.1 -1.1v2.2M654.7 184.1h2.2m-1.1 -1.1v2.2M654.7 182h2.2m-1.1 -1.1v2.2M654.7 179.9h2.2m-1.1 -1.1v2.2M654.7 177.8h2.2m-1.1 -1.1v2.2M654.7 175.7h2.2m-1.1 -1.1v2.2M654.7 173.6h2.2m-1.1 -1.1v2.2M654.7 171.5h2.2m-1.1 -1.1v2.2M654.7 169.5h2.2m-1.1 -1.1v2.2M654.7 167.4h2.2m-1.1 -1.1v2.2" stroke="#bcbcbc" stroke-width="0.8" fill="none"/>
<g fill="#0000ff"><circle cx="490.2" cy="280.6" r="2.35"/><circle cx="490.2" cy="284.5" r="2.35"/><circle cx="528.5" cy="260.1" r="2.35"/><circle cx="528.5" cy="262" r="2.35"/><circle cx="528.5" cy="263.9" r="2.35"/><circle cx="528.5" cy="265.8" r="2.35"/><circle cx="528.5" cy="267.7" r="2.35"/><circle cx="528.5" cy="269.6" r="2.35"/><circle cx="528.5" cy="271.6" r="2.35"/><circle cx="528.5" cy="273.5" r="2.35"/><circle cx="528.5" cy="275.4" r="2.35"/><circle cx="528.5" cy="277.3" r="2.35"/><circle cx="528.5" cy="279.2" r="2.35"/><circle cx="528.5" cy="281.1" r="2.35"/><circle cx="550.9" cy="253.4" r="2.35"/><circle cx="550.9" cy="255.3" r="2.35"/><circle cx="550.9" cy="257.3" r="2.35"/><circle cx="550.9" cy="259.2" r="2.35"/><circle cx="550.9" cy="261.2" r="2.35"/><circle cx="550.9" cy="263.1" r="2.35"/><circle cx="550.9" cy="265" r="2.35"/><circle cx="550.9" cy="267" r="2.35"/><circle cx="550.9" cy="268.9" r="2.35"/><circle cx="550.9" cy="270.9" r="2.35"/><circle cx="550.9" cy="272.8" r="2.35"/><circle cx="566.8" cy="247.5" r="2.35"/><circle cx="566.8" cy="253.8" r="2.35"/><circle cx="566.8" cy="255.7" r="2.35"/><circle cx="566.8" cy="257.6" r="2.35"/><circle cx="566.8" cy="259.5" r="2.35"/><circle cx="566.8" cy="261.4" r="2.35"/><circle cx="566.8" cy="263.3" r="2.35"/><circle cx="566.8" cy="265.2" r="2.35"/><circle cx="579.2" cy="246.6" r="2.35"/><circle cx="579.2" cy="248.2" r="2.35"/><circle cx="579.2" cy="249.8" r="2.35"/><circle cx="579.2" cy="252.5" r="2.35"/><circle cx="579.2" cy="254.5" r="2.35"/><circle cx="579.2" cy="256.5" r="2.35"/><circle cx="579.2" cy="258.5" r="2.35"/><circle cx="589.3" cy="247.1" r="2.35"/><circle cx="589.3" cy="250.7" r="2.35"/></g>
<path d="M470.7 285.6h2M663.3 285.6h-2M470.7 282.3h2M663.3 282.3h-2M470.7 279.4h4M663.3 279.4h-4M470.7 260h2M663.3 260h-2M470.7 248.6h2M663.3 248.6h-2M470.7 240.6h2M663.3 240.6h-2M470.7 234.3h2M663.3 234.3h-2M470.7 229.2h2M663.3 229.2h-2M470.7 224.9h2M663.3 224.9h-2M470.7 221.2h2M663.3 221.2h-2M470.7 217.9h2M663.3 217.9h-2M470.7 215h4M663.3 215h-4M470.7 195.6h2M663.3 195.6h-2M470.7 184.2h2M663.3 184.2h-2M470.7 176.2h2M663.3 176.2h-2M470.7 169.9h2M663.3 169.9h-2M470.7 164.8h2M663.3 164.8h-2M470.7 160.5h2M663.3 160.5h-2M470.7 156.8h2M663.3 156.8h-2M470.7 153.5h2M663.3 153.5h-2M470.7 150.6h4M663.3 150.6h-4M477.9 147.9v1.6M477.9 289.1v-1.7M484.4 147.9v1.6M484.4 289.1v-1.7M490.2 147.9v2.7M490.2 289.1v-3.2M528.5 147.9v1.6M528.5 289.1v-1.7M550.9 147.9v1.6M550.9 289.1v-1.7M566.8 147.9v1.6M566.8 289.1v-1.7M579.2 147.9v1.6M579.2 289.1v-1.7M589.3 147.9v1.6M589.3 289.1v-1.7M597.8 147.9v1.6M597.8 289.1v-1.7M605.2 147.9v1.6M605.2 289.1v-1.7M611.7 147.9v1.6M611.7 289.1v-1.7M617.5 147.9v2.7M617.5 289.1v-3.2M655.8 147.9v1.6M655.8 289.1v-1.7" stroke="#000" stroke-width="1.1" fill="none"/>
<rect x="470.7" y="147.9" width="192.6" height="141.2" fill="none" stroke="#000" stroke-width="1.25"/>
<g font-size="16" fill="#2e2e2e" class="t">
<text x="504" y="170.7">F</text>
<text x="597.4" y="254.5" textLength="33.6" lengthAdjust="spacing">15M</text>
<circle cx="636.3" cy="254.3" r="3.4" fill="none" stroke="#222" stroke-width="1.1"/><circle cx="636.3" cy="254.3" r="0.95"/>
<text x="584.6" y="280.2" textLength="34.4" lengthAdjust="spacing">post</text>
<text x="633.8" y="280.2" textLength="23.6" lengthAdjust="spacing">MS</text>
<path d="M621.6 274.6h10.4" stroke="#2e2e2e" stroke-width="1.2" fill="none"/>
</g>
</g>
<g>
<rect x="84.2" y="297.3" width="11.1" height="135.2" fill="#e1e1e1"/>
<path d="M90 375.5V403.3M128.3 356V404.3" stroke="#cbcbcb" stroke-opacity="0.9" stroke-width="2.3" fill="none"/>
<path d="M150.7 353.3V404.4" stroke="#cbcbcb" stroke-opacity="0.95" stroke-width="2.3" fill="none"/>
<path d="M166.6 333.7V404.5M179 332.7V404.6M189.1 331.7V404.7M197.6 329.7V404.8M205 327.7V404.8M211.5 325.6V404.4M217.3 323.7V404M222.6 322.2V403.5M227.4 320.8V403M231.8 319.5V402.6M235.9 318.4V402M239.7 317.3V401.1M243.3 316.2V400.3M246.6 315.3V398.9M249.8 314.4V397.6M252.8 313.5V395.9M255.6 312.7V394.2" stroke="#cbcbcb" stroke-opacity="1.0" stroke-width="2.3" fill="none"/>
<path d="M88.9 367.7h2.2m-1.1 -1.1v2.2M88.9 369.2h2.2m-1.1 -1.1v2.2M88.9 370.7h2.2m-1.1 -1.1v2.2M88.9 372.2h2.2m-1.1 -1.1v2.2M88.9 373.5h2.2m-1.1 -1.1v2.2M88.9 374.9h2.2m-1.1 -1.1v2.2M88.9 366.1h2.2m-1.1 -1.1v2.2M88.9 364.5h2.2m-1.1 -1.1v2.2M88.9 362.7h2.2m-1.1 -1.1v2.2M88.9 360.9h2.2m-1.1 -1.1v2.2M88.9 358.9h2.2m-1.1 -1.1v2.2M88.9 356.8h2.2m-1.1 -1.1v2.2M88.9 354.5h2.2m-1.1 -1.1v2.2M88.9 352.1h2.2m-1.1 -1.1v2.2M88.9 349.4h2.2m-1.1 -1.1v2.2M88.9 346.5h2.2m-1.1 -1.1v2.2M88.9 343.4h2.2m-1.1 -1.1v2.2M88.9 339.8h2.2m-1.1 -1.1v2.2M88.9 335.8h2.2m-1.1 -1.1v2.2M88.9 331.2h2.2m-1.1 -1.1v2.2M88.9 325.9h2.2m-1.1 -1.1v2.2M127.2 348.2h2.2m-1.1 -1.1v2.2M127.2 349.8h2.2m-1.1 -1.1v2.2M127.2 351.2h2.2m-1.1 -1.1v2.2M127.2 352.7h2.2m-1.1 -1.1v2.2M127.2 354h2.2m-1.1 -1.1v2.2M127.2 355.4h2.2m-1.1 -1.1v2.2M127.2 346.6h2.2m-1.1 -1.1v2.2M127.2 344.9h2.2m-1.1 -1.1v2.2M127.2 343.1h2.2m-1.1 -1.1v2.2M127.2 341.2h2.2m-1.1 -1.1v2.2M127.2 339.2h2.2m-1.1 -1.1v2.2M127.2 337h2.2m-1.1 -1.1v2.2M127.2 334.7h2.2m-1.1 -1.1v2.2M127.2 332.2h2.2m-1.1 -1.1v2.2M127.2 329.4h2.2m-1.1 -1.1v2.2M127.2 326.5h2.2m-1.1 -1.1v2.2M127.2 323.2h2.2m-1.1 -1.1v2.2M127.2 319.5h2.2m-1.1 -1.1v2.2M127.2 315.4h2.2m-1.1 -1.1v2.2M127.2 310.7h2.2m-1.1 -1.1v2.2M127.2 305.3h2.2m-1.1 -1.1v2.2M127.2 298.7h2.2m-1.1 -1.1v2.2M149.6 340.7h2.2m-1.1 -1.1v2.2M149.6 342.2h2.2m-1.1 -1.1v2.2M149.6 343.7h2.2m-1.1 -1.1v2.2M149.6 345.2h2.2m-1.1 -1.1v2.2M149.6 346.5h2.2m-1.1 -1.1v2.2M149.6 347.9h2.2m-1.1 -1.1v2.2M149.6 349.1h2.2m-1.1 -1.1v2.2M149.6 350.4h2.2m-1.1 -1.1v2.2M149.6 351.6h2.2m-1.1 -1.1v2.2M149.6 352.7h2.2m-1.1 -1.1v2.2M149.6 339.1h2.2m-1.1 -1.1v2.2M149.6 337.5h2.2m-1.1 -1.1v2.2M149.6 335.7h2.2m-1.1 -1.1v2.2M149.6 333.8h2.2m-1.1 -1.1v2.2M149.6 331.9h2.2m-1.1 -1.1v2.2M149.6 329.7h2.2m-1.1 -1.1v2.2M149.6 327.5h2.2m-1.1 -1.1v2.2M149.6 325h2.2m-1.1 -1.1v2.2M149.6 322.4h2.2m-1.1 -1.1v2.2M149.6 319.4h2.2m-1.1 -1.1v2.2M149.6 316.2h2.2m-1.1 -1.1v2.2M149.6 312.7h2.2m-1.1 -1.1v2.2M149.6 308.7h2.2m-1.1 -1.1v2.2M149.6 304.1h2.2m-1.1 -1.1v2.2M149.6 298.7h2.2m-1.1 -1.1v2.2M165.5 332h2.2m-1.1 -1.1v2.2M165.5 330.2h2.2m-1.1 -1.1v2.2M165.5 328.2h2.2m-1.1 -1.1v2.2M165.5 326.2h2.2m-1.1 -1.1v2.2M165.5 324h2.2m-1.1 -1.1v2.2M165.5 321.7h2.2m-1.1 -1.1v2.2M165.5 319.3h2.2m-1.1 -1.1v2.2M165.5 316.6h2.2m-1.1 -1.1v2.2M165.5 313.7h2.2m-1.1 -1.1v2.2M165.5 310.5h2.2m-1.1 -1.1v2.2M165.5 307h2.2m-1.1 -1.1v2.2M165.5 303.1h2.2m-1.1 -1.1v2.2M165.5 298.7h2.2m-1.1 -1.1v2.2M177.9 331h2.2m-1.1 -1.1v2.2M177.9 329.3h2.2m-1.1 -1.1v2.2M177.9 327.4h2.2m-1.1 -1.1v2.2M177.9 325.4h2.2m-1.1 -1.1v2.2M177.9 323.3h2.2m-1.1 -1.1v2.2M177.9 321.1h2.2m-1.1 -1.1v2.2M177.9 318.7h2.2m-1.1 -1.1v2.2M177.9 316.1h2.2m-1.1 -1.1v2.2M177.9 313.2h2.2m-1.1 -1.1v2.2M177.9 310.2h2.2m-1.1 -1.1v2.2M177.9 306.8h2.2m-1.1 -1.1v2.2M177.9 303h2.2m-1.1 -1.1v2.2M177.9 298.7h2.2m-1.1 -1.1v2.2M188 330.1h2.2m-1.1 -1.1v2.2M188 328.4h2.2m-1.1 -1.1v2.2M188 326.6h2.2m-1.1 -1.1v2.2M188 324.6h2.2m-1.1 -1.1v2.2M188 322.6h2.2m-1.1 -1.1v2.2M188 320.4h2.2m-1.1 -1.1v2.2M188 318.1h2.2m-1.1 -1.1v2.2M188 315.6h2.2m-1.1 -1.1v2.2M188 312.8h2.2m-1.1 -1.1v2.2M188 309.8h2.2m-1.1 -1.1v2.2M188 306.5h2.2m-1.1 -1.1v2.2M188 302.8h2.2m-1.1 -1.1v2.2M188 298.7h2.2m-1.1 -1.1v2.2M196.5 328h2.2m-1.1 -1.1v2.2M196.5 326.1h2.2m-1.1 -1.1v2.2M196.5 324.2h2.2m-1.1 -1.1v2.2M196.5 322.1h2.2m-1.1 -1.1v2.2M196.5 319.9h2.2m-1.1 -1.1v2.2M196.5 317.6h2.2m-1.1 -1.1v2.2M196.5 315.1h2.2m-1.1 -1.1v2.2M196.5 312.4h2.2m-1.1 -1.1v2.2M196.5 309.4h2.2m-1.1 -1.1v2.2M196.5 306.2h2.2m-1.1 -1.1v2.2M196.5 302.6h2.2m-1.1 -1.1v2.2M196.5 298.7h2.2m-1.1 -1.1v2.2M203.9 326.1h2.2m-1.1 -1.1v2.2M203.9 324.3h2.2m-1.1 -1.1v2.2M203.9 322.5h2.2m-1.1 -1.1v2.2M203.9 320.6h2.2m-1.1 -1.1v2.2M203.9 318.6h2.2m-1.1 -1.1v2.2M203.9 316.4h2.2m-1.1 -1.1v2.2M203.9 314h2.2m-1.1 -1.1v2.2M203.9 311.5h2.2m-1.1 -1.1v2.2M203.9 308.7h2.2m-1.1 -1.1v2.2M203.9 305.7h2.2m-1.1 -1.1v2.2M203.9 302.4h2.2m-1.1 -1.1v2.2M203.9 298.7h2.2m-1.1 -1.1v2.2M210.4 323.9h2.2m-1.1 -1.1v2.2M210.4 322h2.2m-1.1 -1.1v2.2M210.4 320.1h2.2m-1.1 -1.1v2.2M210.4 318.1h2.2m-1.1 -1.1v2.2M210.4 315.9h2.2m-1.1 -1.1v2.2M210.4 313.5h2.2m-1.1 -1.1v2.2M210.4 311h2.2m-1.1 -1.1v2.2M210.4 308.3h2.2m-1.1 -1.1v2.2M210.4 305.4h2.2m-1.1 -1.1v2.2M210.4 302.2h2.2m-1.1 -1.1v2.2M210.4 298.7h2.2m-1.1 -1.1v2.2M216.2 322.1h2.2m-1.1 -1.1v2.2M216.2 320.4h2.2m-1.1 -1.1v2.2M216.2 318.6h2.2m-1.1 -1.1v2.2M216.2 316.7h2.2m-1.1 -1.1v2.2M216.2 314.7h2.2m-1.1 -1.1v2.2M216.2 312.5h2.2m-1.1 -1.1v2.2M216.2 310.2h2.2m-1.1 -1.1v2.2M216.2 307.7h2.2m-1.1 -1.1v2.2M216.2 305h2.2m-1.1 -1.1v2.2M216.2 302h2.2m-1.1 -1.1v2.2M216.2 298.7h2.2m-1.1 -1.1v2.2M221.5 320.4h2.2m-1.1 -1.1v2.2M221.5 318.6h2.2m-1.1 -1.1v2.2M221.5 316.7h2.2m-1.1 -1.1v2.2M221.5 314.6h2.2m-1.1 -1.1v2.2M221.5 312.4h2.2m-1.1 -1.1v2.2M221.5 310.1h2.2m-1.1 -1.1v2.2M221.5 307.6h2.2m-1.1 -1.1v2.2M221.5 304.9h2.2m-1.1 -1.1v2.2M221.5 301.9h2.2m-1.1 -1.1v2.2M221.5 298.7h2.2m-1.1 -1.1v2.2M226.3 319.2h2.2m-1.1 -1.1v2.2M226.3 317.4h2.2m-1.1 -1.1v2.2M226.3 315.6h2.2m-1.1 -1.1v2.2M226.3 313.7h2.2m-1.1 -1.1v2.2M226.3 311.6h2.2m-1.1 -1.1v2.2M226.3 309.4h2.2m-1.1 -1.1v2.2M226.3 307h2.2m-1.1 -1.1v2.2M226.3 304.5h2.2m-1.1 -1.1v2.2M226.3 301.7h2.2m-1.1 -1.1v2.2M226.3 298.7h2.2m-1.1 -1.1v2.2M230.7 318h2.2m-1.1 -1.1v2.2M230.7 316.4h2.2m-1.1 -1.1v2.2M230.7 314.6h2.2m-1.1 -1.1v2.2M230.7 312.8h2.2m-1.1 -1.1v2.2M230.7 310.8h2.2m-1.1 -1.1v2.2M230.7 308.8h2.2m-1.1 -1.1v2.2M230.7 306.5h2.2m-1.1 -1.1v2.2M230.7 304.1h2.2m-1.1 -1.1v2.2M230.7 301.5h2.2m-1.1 -1.1v2.2M234.8 316.7h2.2m-1.1 -1.1v2.2M234.8 314.9h2.2m-1.1 -1.1v2.2M234.8 313h2.2m-1.1 -1.1v2.2M234.8 311h2.2m-1.1 -1.1v2.2M234.8 308.9h2.2m-1.1 -1.1v2.2M234.8 306.6h2.2m-1.1 -1.1v2.2M234.8 304.2h2.2m-1.1 -1.1v2.2M234.8 301.6h2.2m-1.1 -1.1v2.2M234.8 298.7h2.2m-1.1 -1.1v2.2M238.6 315.7h2.2m-1.1 -1.1v2.2M238.6 314h2.2m-1.1 -1.1v2.2M238.6 312.2h2.2m-1.1 -1.1v2.2M238.6 310.3h2.2m-1.1 -1.1v2.2M238.6 308.3h2.2m-1.1 -1.1v2.2M238.6 306.2h2.2m-1.1 -1.1v2.2M238.6 303.9h2.2m-1.1 -1.1v2.2M238.6 301.4h2.2m-1.1 -1.1v2.2M238.6 298.7h2.2m-1.1 -1.1v2.2M242.2 314.5h2.2m-1.1 -1.1v2.2M242.2 312.6h2.2m-1.1 -1.1v2.2M242.2 310.7h2.2m-1.1 -1.1v2.2M242.2 308.6h2.2m-1.1 -1.1v2.2M242.2 306.4h2.2m-1.1 -1.1v2.2M242.2 304h2.2m-1.1 -1.1v2.2M242.2 301.4h2.2m-1.1 -1.1v2.2M242.2 298.7h2.2m-1.1 -1.1v2.2M245.5 313.6h2.2m-1.1 -1.1v2.2M245.5 311.9h2.2m-1.1 -1.1v2.2M245.5 310h2.2m-1.1 -1.1v2.2M245.5 308h2.2m-1.1 -1.1v2.2M245.5 305.9h2.2m-1.1 -1.1v2.2M245.5 303.7h2.2m-1.1 -1.1v2.2M245.5 301.3h2.2m-1.1 -1.1v2.2M245.5 298.7h2.2m-1.1 -1.1v2.2M248.7 312.8h2.2m-1.1 -1.1v2.2M248.7 311.1h2.2m-1.1 -1.1v2.2M248.7 309.4h2.2m-1.1 -1.1v2.2M248.7 307.5h2.2m-1.1 -1.1v2.2M248.7 305.5h2.2m-1.1 -1.1v2.2M248.7 303.4h2.2m-1.1 -1.1v2.2M248.7 301.2h2.2m-1.1 -1.1v2.2M248.7 298.7h2.2m-1.1 -1.1v2.2M251.7 311.7h2.2m-1.1 -1.1v2.2M251.7 309.9h2.2m-1.1 -1.1v2.2M251.7 307.9h2.2m-1.1 -1.1v2.2M251.7 305.8h2.2m-1.1 -1.1v2.2M251.7 303.6h2.2m-1.1 -1.1v2.2M251.7 301.2h2.2m-1.1 -1.1v2.2M251.7 298.7h2.2m-1.1 -1.1v2.2M254.5 311h2.2m-1.1 -1.1v2.2M254.5 309.3h2.2m-1.1 -1.1v2.2M254.5 307.4h2.2m-1.1 -1.1v2.2M254.5 305.4h2.2m-1.1 -1.1v2.2M254.5 303.3h2.2m-1.1 -1.1v2.2M254.5 301.1h2.2m-1.1 -1.1v2.2M254.5 298.7h2.2m-1.1 -1.1v2.2" stroke="#bcbcbc" stroke-width="0.8" fill="none"/>
<g fill="#0000ff"><circle cx="166.6" cy="332" r="2.35"/><circle cx="179" cy="324.4" r="2.35"/><circle cx="179" cy="326.4" r="2.35"/><circle cx="179" cy="328.4" r="2.35"/><circle cx="179" cy="330.5" r="2.35"/><circle cx="179" cy="332.5" r="2.35"/><circle cx="189.1" cy="318" r="2.35"/><circle cx="189.1" cy="319.9" r="2.35"/><circle cx="189.1" cy="321.9" r="2.35"/><circle cx="189.1" cy="323.8" r="2.35"/><circle cx="189.1" cy="325.8" r="2.35"/><circle cx="189.1" cy="327.7" r="2.35"/><circle cx="189.1" cy="329.7" r="2.35"/><circle cx="189.1" cy="331.6" r="2.35"/><circle cx="197.6" cy="317.1" r="2.35"/><circle cx="197.6" cy="319.2" r="2.35"/><circle cx="197.6" cy="321.2" r="2.35"/><circle cx="197.6" cy="323.2" r="2.35"/><circle cx="197.6" cy="325.3" r="2.35"/><circle cx="197.6" cy="327.3" r="2.35"/><circle cx="197.6" cy="329.4" r="2.35"/><circle cx="205" cy="311.7" r="2.35"/><circle cx="205" cy="313.7" r="2.35"/><circle cx="205" cy="315.6" r="2.35"/><circle cx="205" cy="317.6" r="2.35"/><circle cx="205" cy="319.5" r="2.35"/><circle cx="205" cy="321.5" r="2.35"/><circle cx="205" cy="323.5" r="2.35"/><circle cx="205" cy="325.4" r="2.35"/><circle cx="205" cy="327.4" r="2.35"/><circle cx="211.5" cy="309" r="2.35"/><circle cx="211.5" cy="310.9" r="2.35"/><circle cx="211.5" cy="312.8" r="2.35"/><circle cx="211.5" cy="314.7" r="2.35"/><circle cx="211.5" cy="316.6" r="2.35"/><circle cx="211.5" cy="318.6" r="2.35"/><circle cx="211.5" cy="320.5" r="2.35"/><circle cx="211.5" cy="322.4" r="2.35"/><circle cx="211.5" cy="324.3" r="2.35"/><circle cx="211.5" cy="326.2" r="2.35"/><circle cx="217.3" cy="307.2" r="2.35"/><circle cx="217.3" cy="309" r="2.35"/><circle cx="217.3" cy="310.8" r="2.35"/><circle cx="217.3" cy="312.6" r="2.35"/><circle cx="217.3" cy="314.4" r="2.35"/><circle cx="217.3" cy="316.3" r="2.35"/><circle cx="217.3" cy="318.1" r="2.35"/><circle cx="217.3" cy="319.9" r="2.35"/><circle cx="217.3" cy="321.7" r="2.35"/><circle cx="217.3" cy="323.5" r="2.35"/><circle cx="222.6" cy="305.8" r="2.35"/><circle cx="222.6" cy="307.7" r="2.35"/><circle cx="222.6" cy="309.5" r="2.35"/><circle cx="222.6" cy="311.4" r="2.35"/><circle cx="222.6" cy="313.2" r="2.35"/><circle cx="222.6" cy="315.1" r="2.35"/><circle cx="222.6" cy="316.9" r="2.35"/><circle cx="222.6" cy="318.8" r="2.35"/><circle cx="222.6" cy="320.6" r="2.35"/><circle cx="222.6" cy="322.5" r="2.35"/><circle cx="227.4" cy="308.7" r="2.35"/><circle cx="227.4" cy="310.2" r="2.35"/><circle cx="227.4" cy="311.8" r="2.35"/><circle cx="227.4" cy="314.6" r="2.35"/><circle cx="227.4" cy="315.2" r="2.35"/><circle cx="227.4" cy="318.4" r="2.35"/><circle cx="227.4" cy="319.6" r="2.35"/><circle cx="231.8" cy="304.3" r="2.35"/><circle cx="231.8" cy="306.1" r="2.35"/><circle cx="231.8" cy="308" r="2.35"/><circle cx="231.8" cy="309.8" r="2.35"/><circle cx="231.8" cy="311.6" r="2.35"/><circle cx="231.8" cy="313.5" r="2.35"/><circle cx="231.8" cy="315.3" r="2.35"/><circle cx="231.8" cy="317.2" r="2.35"/><circle cx="231.8" cy="319" r="2.35"/><circle cx="235.9" cy="303.3" r="2.35"/><circle cx="235.9" cy="305.1" r="2.35"/><circle cx="235.9" cy="307" r="2.35"/><circle cx="235.9" cy="308.8" r="2.35"/><circle cx="235.9" cy="310.6" r="2.35"/><circle cx="235.9" cy="312.5" r="2.35"/><circle cx="235.9" cy="314.3" r="2.35"/><circle cx="235.9" cy="316.2" r="2.35"/><circle cx="235.9" cy="318" r="2.35"/><circle cx="239.7" cy="302.8" r="2.35"/><circle cx="239.7" cy="304.8" r="2.35"/><circle cx="239.7" cy="306.7" r="2.35"/><circle cx="239.7" cy="308.7" r="2.35"/><circle cx="239.7" cy="310.6" r="2.35"/><circle cx="239.7" cy="312.6" r="2.35"/><circle cx="239.7" cy="314.5" r="2.35"/><circle cx="239.7" cy="316.5" r="2.35"/><circle cx="243.3" cy="301.3" r="2.35"/><circle cx="243.3" cy="303.3" r="2.35"/><circle cx="243.3" cy="305.2" r="2.35"/><circle cx="243.3" cy="307.2" r="2.35"/><circle cx="243.3" cy="309.1" r="2.35"/><circle cx="243.3" cy="311.1" r="2.35"/><circle cx="243.3" cy="313" r="2.35"/><circle cx="243.3" cy="315" r="2.35"/><circle cx="246.6" cy="300.8" r="2.35"/><circle cx="246.6" cy="302.7" r="2.35"/><circle cx="246.6" cy="304.6" r="2.35"/><circle cx="246.6" cy="306.5" r="2.35"/><circle cx="246.6" cy="308.3" r="2.35"/><circle cx="246.6" cy="310.2" r="2.35"/><circle cx="246.6" cy="312.1" r="2.35"/><circle cx="246.6" cy="314" r="2.35"/><circle cx="249.8" cy="300.3" r="2.35"/><circle cx="249.8" cy="302.1" r="2.35"/><circle cx="249.8" cy="303.9" r="2.35"/><circle cx="249.8" cy="305.7" r="2.35"/><circle cx="249.8" cy="307.6" r="2.35"/><circle cx="249.8" cy="309.4" r="2.35"/><circle cx="249.8" cy="311.2" r="2.35"/><circle cx="249.8" cy="313" r="2.35"/><circle cx="252.8" cy="300.4" r="2.35"/><circle cx="252.8" cy="302.3" r="2.35"/><circle cx="252.8" cy="304.3" r="2.35"/><circle cx="252.8" cy="306.2" r="2.35"/><circle cx="252.8" cy="308.1" r="2.35"/><circle cx="252.8" cy="310.1" r="2.35"/><circle cx="252.8" cy="312" r="2.35"/><circle cx="255.6" cy="298.8" r="2.35"/><circle cx="255.6" cy="300.8" r="2.35"/><circle cx="255.6" cy="302.9" r="2.35"/><circle cx="255.6" cy="304.9" r="2.35"/><circle cx="255.6" cy="306.9" r="2.35"/><circle cx="255.6" cy="309" r="2.35"/><circle cx="255.6" cy="311" r="2.35"/></g>
<path d="M70.5 432.4h2M263.1 432.4h-2M70.5 429.1h2M263.1 429.1h-2M70.5 426.1h4M263.1 426.1h-4M70.5 406.8h2M263.1 406.8h-2M70.5 395.4h2M263.1 395.4h-2M70.5 387.4h2M263.1 387.4h-2M70.5 381.1h2M263.1 381.1h-2M70.5 376h2M263.1 376h-2M70.5 371.7h2M263.1 371.7h-2M70.5 368h2M263.1 368h-2M70.5 364.7h2M263.1 364.7h-2M70.5 361.8h4M263.1 361.8h-4M70.5 342.4h2M263.1 342.4h-2M70.5 331h2M263.1 331h-2M70.5 323h2M263.1 323h-2M70.5 316.7h2M263.1 316.7h-2M70.5 311.6h2M263.1 311.6h-2M70.5 307.3h2M263.1 307.3h-2M70.5 303.6h2M263.1 303.6h-2M70.5 300.3h2M263.1 300.3h-2M70.5 297.3h4M263.1 297.3h-4M77.7 294.7v1.6M77.7 435.9v-1.7M84.2 294.7v1.6M84.2 435.9v-1.7M90 294.7v2.7M90 435.9v-3.2M128.3 294.7v1.6M128.3 435.9v-1.7M150.7 294.7v1.6M150.7 435.9v-1.7M166.6 294.7v1.6M166.6 435.9v-1.7M179 294.7v1.6M179 435.9v-1.7M189.1 294.7v1.6M189.1 435.9v-1.7M197.6 294.7v1.6M197.6 435.9v-1.7M205 294.7v1.6M205 435.9v-1.7M211.5 294.7v1.6M211.5 435.9v-1.7M217.3 294.7v2.7M217.3 435.9v-3.2M255.6 294.7v1.6M255.6 435.9v-1.7" stroke="#000" stroke-width="1.1" fill="none"/>
<rect x="70.5" y="294.7" width="192.6" height="141.2" fill="none" stroke="#000" stroke-width="1.25"/>
<g font-size="16" fill="#2e2e2e" class="t">
<text x="103.8" y="317.5">G</text>
<text x="197.2" y="401.3" textLength="23.2" lengthAdjust="spacing">6M</text>
<circle cx="225.7" cy="401.1" r="3.4" fill="none" stroke="#222" stroke-width="1.1"/><circle cx="225.7" cy="401.1" r="0.95"/>
<text x="196.9" y="427" textLength="43.4" lengthAdjust="spacing">ZAMS</text>
</g>
</g>
<g>
<rect x="284.3" y="297.3" width="11.1" height="135.2" fill="#e1e1e1"/>
<path d="M290.1 377.5V421.7" stroke="#cbcbcb" stroke-opacity="0.9" stroke-width="2.3" fill="none"/>
<path d="M328.4 360.7V421.7M350.8 360.7V421.4M366.7 359.5V421.2M379.1 356.6V421M389.2 353.5V420M397.7 351V417.4M405.1 348.2V414.1M411.6 346.9V412.2M417.4 345.8V410.2M422.7 343.6V409.6M427.5 341.7V409M431.9 339.9V408.8M436 338.2V408.6M439.8 336.6V408.4M443.4 335.2V408.3M446.7 333.8V408.1M449.9 332.5V408M452.9 331.3V407.8M455.7 330.1V407.7" stroke="#cbcbcb" stroke-opacity="1.0" stroke-width="2.3" fill="none"/>
<path d="M289 369.7h2.2m-1.1 -1.1v2.2M289 371.2h2.2m-1.1 -1.1v2.2M289 372.7h2.2m-1.1 -1.1v2.2M289 374.2h2.2m-1.1 -1.1v2.2M289 375.5h2.2m-1.1 -1.1v2.2M289 376.9h2.2m-1.1 -1.1v2.2M289 368h2.2m-1.1 -1.1v2.2M289 366.2h2.2m-1.1 -1.1v2.2M289 364.3h2.2m-1.1 -1.1v2.2M289 362.4h2.2m-1.1 -1.1v2.2M289 360.2h2.2m-1.1 -1.1v2.2M289 358h2.2m-1.1 -1.1v2.2M289 355.5h2.2m-1.1 -1.1v2.2M289 352.9h2.2m-1.1 -1.1v2.2M289 350h2.2m-1.1 -1.1v2.2M289 346.9h2.2m-1.1 -1.1v2.2M289 343.5h2.2m-1.1 -1.1v2.2M289 339.7h2.2m-1.1 -1.1v2.2M289 335.4h2.2m-1.1 -1.1v2.2M289 330.4h2.2m-1.1 -1.1v2.2M289 324.7h2.2m-1.1 -1.1v2.2M289 317.8h2.2m-1.1 -1.1v2.2M289 309.3h2.2m-1.1 -1.1v2.2M289 298.2h2.2m-1.1 -1.1v2.2M327.3 359h2.2m-1.1 -1.1v2.2M327.3 357.1h2.2m-1.1 -1.1v2.2M327.3 355.2h2.2m-1.1 -1.1v2.2M327.3 353.1h2.2m-1.1 -1.1v2.2M327.3 350.9h2.2m-1.1 -1.1v2.2M327.3 348.5h2.2m-1.1 -1.1v2.2M327.3 346h2.2m-1.1 -1.1v2.2M327.3 343.3h2.2m-1.1 -1.1v2.2M327.3 340.4h2.2m-1.1 -1.1v2.2M327.3 337.1h2.2m-1.1 -1.1v2.2M327.3 333.6h2.2m-1.1 -1.1v2.2M327.3 329.6h2.2m-1.1 -1.1v2.2M327.3 325.2h2.2m-1.1 -1.1v2.2M327.3 320.1h2.2m-1.1 -1.1v2.2M327.3 314.1h2.2m-1.1 -1.1v2.2M327.3 307h2.2m-1.1 -1.1v2.2M327.3 298.2h2.2m-1.1 -1.1v2.2M349.7 359.1h2.2m-1.1 -1.1v2.2M349.7 357.4h2.2m-1.1 -1.1v2.2M349.7 355.5h2.2m-1.1 -1.1v2.2M349.7 353.6h2.2m-1.1 -1.1v2.2M349.7 351.6h2.2m-1.1 -1.1v2.2M349.7 349.4h2.2m-1.1 -1.1v2.2M349.7 347.1h2.2m-1.1 -1.1v2.2M349.7 344.5h2.2m-1.1 -1.1v2.2M349.7 341.8h2.2m-1.1 -1.1v2.2M349.7 338.8h2.2m-1.1 -1.1v2.2M349.7 335.5h2.2m-1.1 -1.1v2.2M349.7 331.8h2.2m-1.1 -1.1v2.2M349.7 327.6h2.2m-1.1 -1.1v2.2M349.7 322.9h2.2m-1.1 -1.1v2.2M349.7 317.4h2.2m-1.1 -1.1v2.2M349.7 312.2h2.2m-1.1 -1.1v2.2M349.7 304.8h2.2m-1.1 -1.1v2.2M349.7 298.2h2.2m-1.1 -1.1v2.2M365.6 357.9h2.2m-1.1 -1.1v2.2M365.6 356.2h2.2m-1.1 -1.1v2.2M365.6 354.5h2.2m-1.1 -1.1v2.2M365.6 352.6h2.2m-1.1 -1.1v2.2M365.6 350.6h2.2m-1.1 -1.1v2.2M365.6 348.4h2.2m-1.1 -1.1v2.2M365.6 346.1h2.2m-1.1 -1.1v2.2M365.6 343.7h2.2m-1.1 -1.1v2.2M365.6 341h2.2m-1.1 -1.1v2.2M365.6 338h2.2m-1.1 -1.1v2.2M365.6 334.8h2.2m-1.1 -1.1v2.2M365.6 330.4h2.2m-1.1 -1.1v2.2M365.6 327.1h2.2m-1.1 -1.1v2.2M365.6 323.8h2.2m-1.1 -1.1v2.2M365.6 320.8h2.2m-1.1 -1.1v2.2M365.6 317.1h2.2m-1.1 -1.1v2.2M365.6 313h2.2m-1.1 -1.1v2.2M365.6 309h2.2m-1.1 -1.1v2.2M365.6 305.4h2.2m-1.1 -1.1v2.2M365.6 301.3h2.2m-1.1 -1.1v2.2M365.6 298.2h2.2m-1.1 -1.1v2.2M378 355h2.2m-1.1 -1.1v2.2M378 353.3h2.2m-1.1 -1.1v2.2M378 351.6h2.2m-1.1 -1.1v2.2M378 349.7h2.2m-1.1 -1.1v2.2M378 347.7h2.2m-1.1 -1.1v2.2M378 345.6h2.2m-1.1 -1.1v2.2M378 343.3h2.2m-1.1 -1.1v2.2M378 340.8h2.2m-1.1 -1.1v2.2M378 338.1h2.2m-1.1 -1.1v2.2M378 335.2h2.2m-1.1 -1.1v2.2M378 332.1h2.2m-1.1 -1.1v2.2M378 329h2.2m-1.1 -1.1v2.2M378 325.9h2.2m-1.1 -1.1v2.2M378 322.8h2.2m-1.1 -1.1v2.2M378 319.8h2.2m-1.1 -1.1v2.2M378 316.7h2.2m-1.1 -1.1v2.2M378 313.6h2.2m-1.1 -1.1v2.2M378 310.5h2.2m-1.1 -1.1v2.2M378 307.4h2.2m-1.1 -1.1v2.2M378 304.4h2.2m-1.1 -1.1v2.2M378 301.3h2.2m-1.1 -1.1v2.2M378 298.2h2.2m-1.1 -1.1v2.2M388.1 351.9h2.2m-1.1 -1.1v2.2M388.1 350.3h2.2m-1.1 -1.1v2.2M388.1 348.5h2.2m-1.1 -1.1v2.2M388.1 346.6h2.2m-1.1 -1.1v2.2M388.1 344.7h2.2m-1.1 -1.1v2.2M388.1 342.6h2.2m-1.1 -1.1v2.2M388.1 340.3h2.2m-1.1 -1.1v2.2M388.1 337.8h2.2m-1.1 -1.1v2.2M388.1 335.2h2.2m-1.1 -1.1v2.2M388.1 332.5h2.2m-1.1 -1.1v2.2M388.1 329.9h2.2m-1.1 -1.1v2.2M388.1 327.3h2.2m-1.1 -1.1v2.2M388.1 324.6h2.2m-1.1 -1.1v2.2M388.1 322h2.2m-1.1 -1.1v2.2M388.1 319.3h2.2m-1.1 -1.1v2.2M388.1 316.7h2.2m-1.1 -1.1v2.2M388.1 314.1h2.2m-1.1 -1.1v2.2M388.1 311.4h2.2m-1.1 -1.1v2.2M388.1 308.8h2.2m-1.1 -1.1v2.2M388.1 306.1h2.2m-1.1 -1.1v2.2M388.1 303.5h2.2m-1.1 -1.1v2.2M388.1 300.8h2.2m-1.1 -1.1v2.2M388.1 298.2h2.2m-1.1 -1.1v2.2M396.6 349.4h2.2m-1.1 -1.1v2.2M396.6 347.8h2.2m-1.1 -1.1v2.2M396.6 346.1h2.2m-1.1 -1.1v2.2M396.6 344.2h2.2m-1.1 -1.1v2.2M396.6 342.3h2.2m-1.1 -1.1v2.2M396.6 340.2h2.2m-1.1 -1.1v2.2M396.6 338h2.2m-1.1 -1.1v2.2M396.6 335.6h2.2m-1.1 -1.1v2.2M396.6 333.3h2.2m-1.1 -1.1v2.2M396.6 330.9h2.2m-1.1 -1.1v2.2M396.6 328.6h2.2m-1.1 -1.1v2.2M396.6 326.3h2.2m-1.1 -1.1v2.2M396.6 323.9h2.2m-1.1 -1.1v2.2M396.6 321.6h2.2m-1.1 -1.1v2.2M396.6 319.2h2.2m-1.1 -1.1v2.2M396.6 316.9h2.2m-1.1 -1.1v2.2M396.6 314.6h2.2m-1.1 -1.1v2.2M396.6 312.2h2.2m-1.1 -1.1v2.2M396.6 309.9h2.2m-1.1 -1.1v2.2M396.6 307.6h2.2m-1.1 -1.1v2.2M396.6 305.2h2.2m-1.1 -1.1v2.2M396.6 302.9h2.2m-1.1 -1.1v2.2M396.6 300.5h2.2m-1.1 -1.1v2.2M396.6 298.2h2.2m-1.1 -1.1v2.2M404 346.6h2.2m-1.1 -1.1v2.2M404 344.9h2.2m-1.1 -1.1v2.2M404 343.1h2.2m-1.1 -1.1v2.2M404 341.3h2.2m-1.1 -1.1v2.2M404 339.3h2.2m-1.1 -1.1v2.2M404 337.1h2.2m-1.1 -1.1v2.2M404 334.9h2.2m-1.1 -1.1v2.2M404 332.8h2.2m-1.1 -1.1v2.2M404 330.6h2.2m-1.1 -1.1v2.2M404 328.5h2.2m-1.1 -1.1v2.2M404 326.3h2.2m-1.1 -1.1v2.2M404 324.1h2.2m-1.1 -1.1v2.2M404 322h2.2m-1.1 -1.1v2.2M404 319.8h2.2m-1.1 -1.1v2.2M404 317.7h2.2m-1.1 -1.1v2.2M404 315.5h2.2m-1.1 -1.1v2.2M404 313.3h2.2m-1.1 -1.1v2.2M404 311.2h2.2m-1.1 -1.1v2.2M404 309h2.2m-1.1 -1.1v2.2M404 306.8h2.2m-1.1 -1.1v2.2M404 304.7h2.2m-1.1 -1.1v2.2M404 302.5h2.2m-1.1 -1.1v2.2M404 300.4h2.2m-1.1 -1.1v2.2M404 298.2h2.2m-1.1 -1.1v2.2M410.5 345.4h2.2m-1.1 -1.1v2.2M410.5 343.7h2.2m-1.1 -1.1v2.2M410.5 342h2.2m-1.1 -1.1v2.2M410.5 340.1h2.2m-1.1 -1.1v2.2M410.5 338.1h2.2m-1.1 -1.1v2.2M410.5 336h2.2m-1.1 -1.1v2.2M410.5 333.9h2.2m-1.1 -1.1v2.2M410.5 331.8h2.2m-1.1 -1.1v2.2M410.5 329.7h2.2m-1.1 -1.1v2.2M410.5 327.6h2.2m-1.1 -1.1v2.2M410.5 325.5h2.2m-1.1 -1.1v2.2M410.5 323.4h2.2m-1.1 -1.1v2.2M410.5 321.3h2.2m-1.1 -1.1v2.2M410.5 319.2h2.2m-1.1 -1.1v2.2M410.5 317.1h2.2m-1.1 -1.1v2.2M410.5 315h2.2m-1.1 -1.1v2.2M410.5 312.9h2.2m-1.1 -1.1v2.2M410.5 310.8h2.2m-1.1 -1.1v2.2M410.5 308.7h2.2m-1.1 -1.1v2.2M410.5 306.6h2.2m-1.1 -1.1v2.2M410.5 304.5h2.2m-1.1 -1.1v2.2M410.5 302.4h2.2m-1.1 -1.1v2.2M410.5 300.3h2.2m-1.1 -1.1v2.2M410.5 298.2h2.2m-1.1 -1.1v2.2M416.3 344.2h2.2m-1.1 -1.1v2.2M416.3 342.5h2.2m-1.1 -1.1v2.2M416.3 340.7h2.2m-1.1 -1.1v2.2M416.3 338.8h2.2m-1.1 -1.1v2.2M416.3 336.7h2.2m-1.1 -1.1v2.2M416.3 334.6h2.2m-1.1 -1.1v2.2M416.3 332.4h2.2m-1.1 -1.1v2.2M416.3 330.3h2.2m-1.1 -1.1v2.2M416.3 328.2h2.2m-1.1 -1.1v2.2M416.3 326h2.2m-1.1 -1.1v2.2M416.3 323.9h2.2m-1.1 -1.1v2.2M416.3 321.7h2.2m-1.1 -1.1v2.2M416.3 319.6h2.2m-1.1 -1.1v2.2M416.3 317.5h2.2m-1.1 -1.1v2.2M416.3 315.3h2.2m-1.1 -1.1v2.2M416.3 313.2h2.2m-1.1 -1.1v2.2M416.3 311h2.2m-1.1 -1.1v2.2M416.3 308.9h2.2m-1.1 -1.1v2.2M416.3 306.8h2.2m-1.1 -1.1v2.2M416.3 304.6h2.2m-1.1 -1.1v2.2M416.3 302.5h2.2m-1.1 -1.1v2.2M416.3 300.3h2.2m-1.1 -1.1v2.2M416.3 298.2h2.2m-1.1 -1.1v2.2M421.6 342.1h2.2m-1.1 -1.1v2.2M421.6 340.4h2.2m-1.1 -1.1v2.2M421.6 338.7h2.2m-1.1 -1.1v2.2M421.6 336.9h2.2m-1.1 -1.1v2.2M421.6 334.9h2.2m-1.1 -1.1v2.2M421.6 332.9h2.2m-1.1 -1.1v2.2M421.6 330.8h2.2m-1.1 -1.1v2.2M421.6 328.8h2.2m-1.1 -1.1v2.2M421.6 326.8h2.2m-1.1 -1.1v2.2M421.6 324.7h2.2m-1.1 -1.1v2.2M421.6 322.7h2.2m-1.1 -1.1v2.2M421.6 320.6h2.2m-1.1 -1.1v2.2M421.6 318.6h2.2m-1.1 -1.1v2.2M421.6 316.6h2.2m-1.1 -1.1v2.2M421.6 314.5h2.2m-1.1 -1.1v2.2M421.6 312.5h2.2m-1.1 -1.1v2.2M421.6 310.4h2.2m-1.1 -1.1v2.2M421.6 308.4h2.2m-1.1 -1.1v2.2M421.6 306.4h2.2m-1.1 -1.1v2.2M421.6 304.3h2.2m-1.1 -1.1v2.2M421.6 302.3h2.2m-1.1 -1.1v2.2M421.6 300.2h2.2m-1.1 -1.1v2.2M421.6 298.2h2.2m-1.1 -1.1v2.2M426.4 340.1h2.2m-1.1 -1.1v2.2M426.4 338.4h2.2m-1.1 -1.1v2.2M426.4 336.7h2.2m-1.1 -1.1v2.2M426.4 334.8h2.2m-1.1 -1.1v2.2M426.4 332.9h2.2m-1.1 -1.1v2.2M426.4 330.8h2.2m-1.1 -1.1v2.2M426.4 328.8h2.2m-1.1 -1.1v2.2M426.4 326.7h2.2m-1.1 -1.1v2.2M426.4 324.7h2.2m-1.1 -1.1v2.2M426.4 322.7h2.2m-1.1 -1.1v2.2M426.4 320.6h2.2m-1.1 -1.1v2.2M426.4 318.6h2.2m-1.1 -1.1v2.2M426.4 316.5h2.2m-1.1 -1.1v2.2M426.4 314.5h2.2m-1.1 -1.1v2.2M426.4 312.5h2.2m-1.1 -1.1v2.2M426.4 310.4h2.2m-1.1 -1.1v2.2M426.4 308.4h2.2m-1.1 -1.1v2.2M426.4 306.4h2.2m-1.1 -1.1v2.2M426.4 304.3h2.2m-1.1 -1.1v2.2M426.4 302.3h2.2m-1.1 -1.1v2.2M426.4 300.2h2.2m-1.1 -1.1v2.2M426.4 298.2h2.2m-1.1 -1.1v2.2M430.8 338.3h2.2m-1.1 -1.1v2.2M430.8 336.6h2.2m-1.1 -1.1v2.2M430.8 334.8h2.2m-1.1 -1.1v2.2M430.8 332.9h2.2m-1.1 -1.1v2.2M430.8 330.9h2.2m-1.1 -1.1v2.2M430.8 328.9h2.2m-1.1 -1.1v2.2M430.8 326.8h2.2m-1.1 -1.1v2.2M430.8 324.8h2.2m-1.1 -1.1v2.2M430.8 322.8h2.2m-1.1 -1.1v2.2M430.8 320.7h2.2m-1.1 -1.1v2.2M430.8 318.7h2.2m-1.1 -1.1v2.2M430.8 316.6h2.2m-1.1 -1.1v2.2M430.8 314.6h2.2m-1.1 -1.1v2.2M430.8 312.5h2.2m-1.1 -1.1v2.2M430.8 310.5h2.2m-1.1 -1.1v2.2M430.8 308.4h2.2m-1.1 -1.1v2.2M430.8 306.4h2.2m-1.1 -1.1v2.2M430.8 304.3h2.2m-1.1 -1.1v2.2M430.8 302.3h2.2m-1.1 -1.1v2.2M430.8 300.2h2.2m-1.1 -1.1v2.2M430.8 298.2h2.2m-1.1 -1.1v2.2M434.9 336.6h2.2m-1.1 -1.1v2.2M434.9 334.9h2.2m-1.1 -1.1v2.2M434.9 333.1h2.2m-1.1 -1.1v2.2M434.9 331.2h2.2m-1.1 -1.1v2.2M434.9 329.1h2.2m-1.1 -1.1v2.2M434.9 327.1h2.2m-1.1 -1.1v2.2M434.9 325h2.2m-1.1 -1.1v2.2M434.9 322.9h2.2m-1.1 -1.1v2.2M434.9 320.9h2.2m-1.1 -1.1v2.2M434.9 318.8h2.2m-1.1 -1.1v2.2M434.9 316.8h2.2m-1.1 -1.1v2.2M434.9 314.7h2.2m-1.1 -1.1v2.2M434.9 312.6h2.2m-1.1 -1.1v2.2M434.9 310.6h2.2m-1.1 -1.1v2.2M434.9 308.5h2.2m-1.1 -1.1v2.2M434.9 306.4h2.2m-1.1 -1.1v2.2M434.9 304.4h2.2m-1.1 -1.1v2.2M434.9 302.3h2.2m-1.1 -1.1v2.2M434.9 300.3h2.2m-1.1 -1.1v2.2M434.9 298.2h2.2m-1.1 -1.1v2.2M438.7 335.1h2.2m-1.1 -1.1v2.2M438.7 333.4h2.2m-1.1 -1.1v2.2M438.7 331.7h2.2m-1.1 -1.1v2.2M438.7 329.8h2.2m-1.1 -1.1v2.2M438.7 327.9h2.2m-1.1 -1.1v2.2M438.7 325.9h2.2m-1.1 -1.1v2.2M438.7 323.9h2.2m-1.1 -1.1v2.2M438.7 321.9h2.2m-1.1 -1.1v2.2M438.7 320h2.2m-1.1 -1.1v2.2M438.7 318h2.2m-1.1 -1.1v2.2M438.7 316h2.2m-1.1 -1.1v2.2M438.7 314h2.2m-1.1 -1.1v2.2M438.7 312h2.2m-1.1 -1.1v2.2M438.7 310.1h2.2m-1.1 -1.1v2.2M438.7 308.1h2.2m-1.1 -1.1v2.2M438.7 306.1h2.2m-1.1 -1.1v2.2M438.7 304.1h2.2m-1.1 -1.1v2.2M438.7 302.2h2.2m-1.1 -1.1v2.2M438.7 300.2h2.2m-1.1 -1.1v2.2M438.7 298.2h2.2m-1.1 -1.1v2.2M442.3 333.6h2.2m-1.1 -1.1v2.2M442.3 331.9h2.2m-1.1 -1.1v2.2M442.3 330.1h2.2m-1.1 -1.1v2.2M442.3 328.2h2.2m-1.1 -1.1v2.2M442.3 326.2h2.2m-1.1 -1.1v2.2M442.3 324.2h2.2m-1.1 -1.1v2.2M442.3 322.2h2.2m-1.1 -1.1v2.2M442.3 320.2h2.2m-1.1 -1.1v2.2M442.3 318.2h2.2m-1.1 -1.1v2.2M442.3 316.2h2.2m-1.1 -1.1v2.2M442.3 314.2h2.2m-1.1 -1.1v2.2M442.3 312.2h2.2m-1.1 -1.1v2.2M442.3 310.2h2.2m-1.1 -1.1v2.2M442.3 308.2h2.2m-1.1 -1.1v2.2M442.3 306.2h2.2m-1.1 -1.1v2.2M442.3 304.2h2.2m-1.1 -1.1v2.2M442.3 302.2h2.2m-1.1 -1.1v2.2M442.3 300.2h2.2m-1.1 -1.1v2.2M442.3 298.2h2.2m-1.1 -1.1v2.2M445.6 332.2h2.2m-1.1 -1.1v2.2M445.6 330.4h2.2m-1.1 -1.1v2.2M445.6 328.6h2.2m-1.1 -1.1v2.2M445.6 326.7h2.2m-1.1 -1.1v2.2M445.6 324.7h2.2m-1.1 -1.1v2.2M445.6 322.6h2.2m-1.1 -1.1v2.2M445.6 320.6h2.2m-1.1 -1.1v2.2M445.6 318.6h2.2m-1.1 -1.1v2.2M445.6 316.5h2.2m-1.1 -1.1v2.2M445.6 314.5h2.2m-1.1 -1.1v2.2M445.6 312.4h2.2m-1.1 -1.1v2.2M445.6 310.4h2.2m-1.1 -1.1v2.2M445.6 308.4h2.2m-1.1 -1.1v2.2M445.6 306.3h2.2m-1.1 -1.1v2.2M445.6 304.3h2.2m-1.1 -1.1v2.2M445.6 302.3h2.2m-1.1 -1.1v2.2M445.6 300.2h2.2m-1.1 -1.1v2.2M445.6 298.2h2.2m-1.1 -1.1v2.2M448.8 330.9h2.2m-1.1 -1.1v2.2M448.8 329.2h2.2m-1.1 -1.1v2.2M448.8 327.5h2.2m-1.1 -1.1v2.2M448.8 325.6h2.2m-1.1 -1.1v2.2M448.8 323.7h2.2m-1.1 -1.1v2.2M448.8 321.7h2.2m-1.1 -1.1v2.2M448.8 319.7h2.2m-1.1 -1.1v2.2M448.8 317.8h2.2m-1.1 -1.1v2.2M448.8 315.8h2.2m-1.1 -1.1v2.2M448.8 313.9h2.2m-1.1 -1.1v2.2M448.8 311.9h2.2m-1.1 -1.1v2.2M448.8 310h2.2m-1.1 -1.1v2.2M448.8 308h2.2m-1.1 -1.1v2.2M448.8 306h2.2m-1.1 -1.1v2.2M448.8 304.1h2.2m-1.1 -1.1v2.2M448.8 302.1h2.2m-1.1 -1.1v2.2M448.8 300.2h2.2m-1.1 -1.1v2.2M448.8 298.2h2.2m-1.1 -1.1v2.2M451.8 329.6h2.2m-1.1 -1.1v2.2M451.8 327.9h2.2m-1.1 -1.1v2.2M451.8 326.1h2.2m-1.1 -1.1v2.2M451.8 324.2h2.2m-1.1 -1.1v2.2M451.8 322.2h2.2m-1.1 -1.1v2.2M451.8 320.2h2.2m-1.1 -1.1v2.2M451.8 318.2h2.2m-1.1 -1.1v2.2M451.8 316.2h2.2m-1.1 -1.1v2.2M451.8 314.2h2.2m-1.1 -1.1v2.2M451.8 312.2h2.2m-1.1 -1.1v2.2M451.8 310.2h2.2m-1.1 -1.1v2.2M451.8 308.2h2.2m-1.1 -1.1v2.2M451.8 306.2h2.2m-1.1 -1.1v2.2M451.8 304.2h2.2m-1.1 -1.1v2.2M451.8 302.2h2.2m-1.1 -1.1v2.2M451.8 300.2h2.2m-1.1 -1.1v2.2M451.8 298.2h2.2m-1.1 -1.1v2.2M454.6 328.5h2.2m-1.1 -1.1v2.2M454.6 326.9h2.2m-1.1 -1.1v2.2M454.6 325.1h2.2m-1.1 -1.1v2.2M454.6 323.3h2.2m-1.1 -1.1v2.2M454.6 321.3h2.2m-1.1 -1.1v2.2M454.6 319.4h2.2m-1.1 -1.1v2.2M454.6 317.5h2.2m-1.1 -1.1v2.2M454.6 315.5h2.2m-1.1 -1.1v2.2M454.6 313.6h2.2m-1.1 -1.1v2.2M454.6 311.7h2.2m-1.1 -1.1v2.2M454.6 309.8h2.2m-1.1 -1.1v2.2M454.6 307.8h2.2m-1.1 -1.1v2.2M454.6 305.9h2.2m-1.1 -1.1v2.2M454.6 304h2.2m-1.1 -1.1v2.2M454.6 302.1h2.2m-1.1 -1.1v2.2M454.6 300.1h2.2m-1.1 -1.1v2.2M454.6 298.2h2.2m-1.1 -1.1v2.2" stroke="#bcbcbc" stroke-width="0.8" fill="none"/>
<g fill="#0000ff"><circle cx="328.4" cy="357.8" r="2.35"/><circle cx="328.4" cy="359.9" r="2.35"/><circle cx="328.4" cy="362.1" r="2.35"/><circle cx="328.4" cy="364.2" r="2.35"/><circle cx="328.4" cy="366.3" r="2.35"/><circle cx="350.8" cy="347" r="2.35"/><circle cx="350.8" cy="349" r="2.35"/><circle cx="350.8" cy="351" r="2.35"/><circle cx="350.8" cy="353" r="2.35"/><circle cx="350.8" cy="355.1" r="2.35"/><circle cx="350.8" cy="357.1" r="2.35"/><circle cx="350.8" cy="359.1" r="2.35"/><circle cx="350.8" cy="361.1" r="2.35"/><circle cx="350.8" cy="363.1" r="2.35"/><circle cx="366.7" cy="339.8" r="2.35"/><circle cx="366.7" cy="341.8" r="2.35"/><circle cx="366.7" cy="343.7" r="2.35"/><circle cx="366.7" cy="345.7" r="2.35"/><circle cx="366.7" cy="347.7" r="2.35"/><circle cx="366.7" cy="349.6" r="2.35"/><circle cx="366.7" cy="351.6" r="2.35"/><circle cx="366.7" cy="353.6" r="2.35"/><circle cx="366.7" cy="355.6" r="2.35"/><circle cx="366.7" cy="357.5" r="2.35"/><circle cx="366.7" cy="359.5" r="2.35"/><circle cx="379.1" cy="338" r="2.35"/><circle cx="379.1" cy="339.9" r="2.35"/><circle cx="379.1" cy="341.7" r="2.35"/><circle cx="379.1" cy="343.6" r="2.35"/><circle cx="379.1" cy="345.4" r="2.35"/><circle cx="379.1" cy="347.3" r="2.35"/><circle cx="379.1" cy="349.2" r="2.35"/><circle cx="379.1" cy="351" r="2.35"/><circle cx="379.1" cy="352.9" r="2.35"/><circle cx="379.1" cy="354.7" r="2.35"/><circle cx="379.1" cy="356.6" r="2.35"/><circle cx="389.2" cy="335" r="2.35"/><circle cx="389.2" cy="336.9" r="2.35"/><circle cx="389.2" cy="338.7" r="2.35"/><circle cx="389.2" cy="340.6" r="2.35"/><circle cx="389.2" cy="342.4" r="2.35"/><circle cx="389.2" cy="344.2" r="2.35"/><circle cx="389.2" cy="346.1" r="2.35"/><circle cx="389.2" cy="347.9" r="2.35"/><circle cx="389.2" cy="349.8" r="2.35"/><circle cx="389.2" cy="351.6" r="2.35"/><circle cx="389.2" cy="353.5" r="2.35"/><circle cx="397.7" cy="328.4" r="2.35"/><circle cx="397.7" cy="330.3" r="2.35"/><circle cx="397.7" cy="332.2" r="2.35"/><circle cx="397.7" cy="334" r="2.35"/><circle cx="397.7" cy="335.9" r="2.35"/><circle cx="397.7" cy="337.8" r="2.35"/><circle cx="397.7" cy="339.7" r="2.35"/><circle cx="397.7" cy="341.6" r="2.35"/><circle cx="397.7" cy="343.5" r="2.35"/><circle cx="397.7" cy="345.4" r="2.35"/><circle cx="397.7" cy="347.2" r="2.35"/><circle cx="397.7" cy="349.1" r="2.35"/><circle cx="397.7" cy="351" r="2.35"/><circle cx="405.1" cy="326.9" r="2.35"/><circle cx="405.1" cy="334.8" r="2.35"/><circle cx="405.1" cy="336.8" r="2.35"/><circle cx="405.1" cy="338.7" r="2.35"/><circle cx="405.1" cy="340.7" r="2.35"/><circle cx="405.1" cy="342.7" r="2.35"/><circle cx="405.1" cy="344.7" r="2.35"/><circle cx="405.1" cy="346.6" r="2.35"/><circle cx="405.1" cy="348.6" r="2.35"/><circle cx="411.6" cy="325.2" r="2.35"/><circle cx="411.6" cy="327.1" r="2.35"/><circle cx="411.6" cy="329" r="2.35"/><circle cx="411.6" cy="336.7" r="2.35"/><circle cx="411.6" cy="338.6" r="2.35"/><circle cx="411.6" cy="340.4" r="2.35"/><circle cx="411.6" cy="342.3" r="2.35"/><circle cx="411.6" cy="344.1" r="2.35"/><circle cx="411.6" cy="346" r="2.35"/><circle cx="417.4" cy="324.2" r="2.35"/><circle cx="417.4" cy="326.1" r="2.35"/><circle cx="417.4" cy="328" r="2.35"/><circle cx="417.4" cy="329.9" r="2.35"/><circle cx="417.4" cy="331.8" r="2.35"/><circle cx="417.4" cy="333.7" r="2.35"/><circle cx="417.4" cy="335.5" r="2.35"/><circle cx="417.4" cy="337.4" r="2.35"/><circle cx="417.4" cy="339.3" r="2.35"/><circle cx="417.4" cy="341.2" r="2.35"/><circle cx="417.4" cy="343.1" r="2.35"/><circle cx="417.4" cy="345" r="2.35"/><circle cx="422.7" cy="322.8" r="2.35"/><circle cx="422.7" cy="324.9" r="2.35"/><circle cx="422.7" cy="327.1" r="2.35"/><circle cx="422.7" cy="329.2" r="2.35"/><circle cx="422.7" cy="336.2" r="2.35"/><circle cx="422.7" cy="337.9" r="2.35"/><circle cx="422.7" cy="339.6" r="2.35"/><circle cx="422.7" cy="341.3" r="2.35"/><circle cx="422.7" cy="343" r="2.35"/><circle cx="427.5" cy="321.8" r="2.35"/><circle cx="427.5" cy="323.5" r="2.35"/><circle cx="427.5" cy="325.2" r="2.35"/><circle cx="427.5" cy="327" r="2.35"/><circle cx="427.5" cy="328.7" r="2.35"/><circle cx="427.5" cy="330.4" r="2.35"/><circle cx="427.5" cy="336" r="2.35"/><circle cx="427.5" cy="337.7" r="2.35"/><circle cx="427.5" cy="339.3" r="2.35"/><circle cx="427.5" cy="341" r="2.35"/><circle cx="431.9" cy="320.8" r="2.35"/><circle cx="431.9" cy="322.7" r="2.35"/><circle cx="431.9" cy="324.6" r="2.35"/><circle cx="431.9" cy="326.6" r="2.35"/><circle cx="431.9" cy="328.5" r="2.35"/><circle cx="431.9" cy="330.4" r="2.35"/><circle cx="431.9" cy="335.8" r="2.35"/><circle cx="431.9" cy="337.6" r="2.35"/><circle cx="431.9" cy="339.4" r="2.35"/><circle cx="436" cy="319.8" r="2.35"/><circle cx="436" cy="322.2" r="2.35"/><circle cx="436" cy="328.4" r="2.35"/><circle cx="436" cy="330.2" r="2.35"/><circle cx="436" cy="335.6" r="2.35"/><circle cx="436" cy="337.5" r="2.35"/><circle cx="439.8" cy="319.5" r="2.35"/><circle cx="439.8" cy="321.6" r="2.35"/><circle cx="439.8" cy="323.6" r="2.35"/><circle cx="439.8" cy="325.7" r="2.35"/><circle cx="439.8" cy="327.7" r="2.35"/><circle cx="439.8" cy="329.8" r="2.35"/><circle cx="439.8" cy="335.7" r="2.35"/><circle cx="443.4" cy="319.3" r="2.35"/><circle cx="443.4" cy="321.1" r="2.35"/><circle cx="443.4" cy="323" r="2.35"/><circle cx="443.4" cy="324.8" r="2.35"/><circle cx="443.4" cy="326.6" r="2.35"/><circle cx="443.4" cy="328.5" r="2.35"/><circle cx="443.4" cy="330.3" r="2.35"/><circle cx="443.4" cy="332.2" r="2.35"/><circle cx="443.4" cy="334" r="2.35"/><circle cx="446.7" cy="319.1" r="2.35"/><circle cx="446.7" cy="321" r="2.35"/><circle cx="446.7" cy="322.9" r="2.35"/><circle cx="446.7" cy="324.8" r="2.35"/><circle cx="446.7" cy="326.8" r="2.35"/><circle cx="446.7" cy="328.7" r="2.35"/><circle cx="446.7" cy="330.6" r="2.35"/><circle cx="446.7" cy="332.5" r="2.35"/><circle cx="449.9" cy="319" r="2.35"/><circle cx="449.9" cy="321" r="2.35"/><circle cx="449.9" cy="323" r="2.35"/><circle cx="449.9" cy="325" r="2.35"/><circle cx="449.9" cy="327" r="2.35"/><circle cx="449.9" cy="329" r="2.35"/><circle cx="449.9" cy="331" r="2.35"/><circle cx="452.9" cy="318.8" r="2.35"/><circle cx="452.9" cy="320.6" r="2.35"/><circle cx="452.9" cy="322.4" r="2.35"/><circle cx="452.9" cy="324.1" r="2.35"/><circle cx="452.9" cy="325.9" r="2.35"/><circle cx="452.9" cy="327.7" r="2.35"/><circle cx="452.9" cy="329.5" r="2.35"/><circle cx="455.7" cy="318.5" r="2.35"/><circle cx="455.7" cy="320.4" r="2.35"/><circle cx="455.7" cy="322.3" r="2.35"/><circle cx="455.7" cy="324.2" r="2.35"/><circle cx="455.7" cy="326.1" r="2.35"/><circle cx="455.7" cy="328" r="2.35"/></g>
<path d="M270.6 432.4h2M463.2 432.4h-2M270.6 429.1h2M463.2 429.1h-2M270.6 426.1h4M463.2 426.1h-4M270.6 406.8h2M463.2 406.8h-2M270.6 395.4h2M463.2 395.4h-2M270.6 387.4h2M463.2 387.4h-2M270.6 381.1h2M463.2 381.1h-2M270.6 376h2M463.2 376h-2M270.6 371.7h2M463.2 371.7h-2M270.6 368h2M463.2 368h-2M270.6 364.7h2M463.2 364.7h-2M270.6 361.8h4M463.2 361.8h-4M270.6 342.4h2M463.2 342.4h-2M270.6 331h2M463.2 331h-2M270.6 323h2M463.2 323h-2M270.6 316.7h2M463.2 316.7h-2M270.6 311.6h2M463.2 311.6h-2M270.6 307.3h2M463.2 307.3h-2M270.6 303.6h2M463.2 303.6h-2M270.6 300.3h2M463.2 300.3h-2M270.6 297.3h4M463.2 297.3h-4M277.8 294.7v1.6M277.8 435.9v-1.7M284.3 294.7v1.6M284.3 435.9v-1.7M290.1 294.7v2.7M290.1 435.9v-3.2M328.4 294.7v1.6M328.4 435.9v-1.7M350.8 294.7v1.6M350.8 435.9v-1.7M366.7 294.7v1.6M366.7 435.9v-1.7M379.1 294.7v1.6M379.1 435.9v-1.7M389.2 294.7v1.6M389.2 435.9v-1.7M397.7 294.7v1.6M397.7 435.9v-1.7M405.1 294.7v1.6M405.1 435.9v-1.7M411.6 294.7v1.6M411.6 435.9v-1.7M417.4 294.7v2.7M417.4 435.9v-3.2M455.7 294.7v1.6M455.7 435.9v-1.7" stroke="#000" stroke-width="1.1" fill="none"/>
<rect x="270.6" y="294.7" width="192.6" height="141.2" fill="none" stroke="#000" stroke-width="1.25"/>
<g font-size="16" fill="#2e2e2e" class="t">
<text x="303.9" y="317.5">H</text>
<text x="397.3" y="401.3" textLength="23.2" lengthAdjust="spacing">6M</text>
<circle cx="425.8" cy="401.1" r="3.4" fill="none" stroke="#222" stroke-width="1.1"/><circle cx="425.8" cy="401.1" r="0.95"/>
<text x="397" y="427" textLength="36.3" lengthAdjust="spacing">MMS</text>
</g>
</g>
<g>
<rect x="484.4" y="297.3" width="11.1" height="135.2" fill="#e1e1e1"/>
<path d="M490.2 375V432M528.5 362.5V435" stroke="#cbcbcb" stroke-opacity="0.9" stroke-width="2.3" fill="none"/>
<path d="M550.9 355.3V430.8M566.8 350.3V427.6M579.2 348.3V425.2" stroke="#cbcbcb" stroke-opacity="0.95" stroke-width="2.3" fill="none"/>
<path d="M589.3 347.3V424.3M597.8 347.3V424.4M605.2 365.5V424.4M611.7 363.5V424.5M617.5 361.7V424.6M622.8 361.1V424.6M627.6 360.6V424.6M632 360.1V424.7M636.1 359.7V424.7M639.9 360.4V424.8M643.5 361V424.8M646.8 361.7V424.8M650 362.2V424.8M653 362.8V424.9M655.8 363.3V424.9" stroke="#cbcbcb" stroke-opacity="1.0" stroke-width="2.3" fill="none"/>
<path d="M489.1 367.2h2.2m-1.1 -1.1v2.2M489.1 368.8h2.2m-1.1 -1.1v2.2M489.1 370.2h2.2m-1.1 -1.1v2.2M489.1 371.7h2.2m-1.1 -1.1v2.2M489.1 373h2.2m-1.1 -1.1v2.2M489.1 374.4h2.2m-1.1 -1.1v2.2M489.1 365.6h2.2m-1.1 -1.1v2.2M489.1 363.9h2.2m-1.1 -1.1v2.2M489.1 362.1h2.2m-1.1 -1.1v2.2M489.1 360.2h2.2m-1.1 -1.1v2.2M489.1 358.2h2.2m-1.1 -1.1v2.2M489.1 356.1h2.2m-1.1 -1.1v2.2M489.1 353.8h2.2m-1.1 -1.1v2.2M489.1 351.4h2.2m-1.1 -1.1v2.2M489.1 348.8h2.2m-1.1 -1.1v2.2M489.1 345.9h2.2m-1.1 -1.1v2.2M489.1 342.8h2.2m-1.1 -1.1v2.2M489.1 339.4h2.2m-1.1 -1.1v2.2M489.1 335.6h2.2m-1.1 -1.1v2.2M489.1 331.3h2.2m-1.1 -1.1v2.2M489.1 326.4h2.2m-1.1 -1.1v2.2M489.1 320.7h2.2m-1.1 -1.1v2.2M489.1 313.4h2.2m-1.1 -1.1v2.2M489.1 305h2.2m-1.1 -1.1v2.2M489.1 297.7h2.2m-1.1 -1.1v2.2M527.4 354.7h2.2m-1.1 -1.1v2.2M527.4 356.2h2.2m-1.1 -1.1v2.2M527.4 357.7h2.2m-1.1 -1.1v2.2M527.4 359.2h2.2m-1.1 -1.1v2.2M527.4 360.5h2.2m-1.1 -1.1v2.2M527.4 361.9h2.2m-1.1 -1.1v2.2M527.4 353.1h2.2m-1.1 -1.1v2.2M527.4 351.5h2.2m-1.1 -1.1v2.2M527.4 349.8h2.2m-1.1 -1.1v2.2M527.4 347.9h2.2m-1.1 -1.1v2.2M527.4 346h2.2m-1.1 -1.1v2.2M527.4 343.9h2.2m-1.1 -1.1v2.2M527.4 341.7h2.2m-1.1 -1.1v2.2M527.4 339.3h2.2m-1.1 -1.1v2.2M527.4 336.8h2.2m-1.1 -1.1v2.2M527.4 334h2.2m-1.1 -1.1v2.2M527.4 331h2.2m-1.1 -1.1v2.2M527.4 327.7h2.2m-1.1 -1.1v2.2M527.4 324h2.2m-1.1 -1.1v2.2M527.4 319.8h2.2m-1.1 -1.1v2.2M527.4 315h2.2m-1.1 -1.1v2.2M527.4 309.5h2.2m-1.1 -1.1v2.2M527.4 303.1h2.2m-1.1 -1.1v2.2M527.4 297.7h2.2m-1.1 -1.1v2.2M549.8 342.7h2.2m-1.1 -1.1v2.2M549.8 344.2h2.2m-1.1 -1.1v2.2M549.8 345.7h2.2m-1.1 -1.1v2.2M549.8 347.2h2.2m-1.1 -1.1v2.2M549.8 348.5h2.2m-1.1 -1.1v2.2M549.8 349.9h2.2m-1.1 -1.1v2.2M549.8 351.1h2.2m-1.1 -1.1v2.2M549.8 352.4h2.2m-1.1 -1.1v2.2M549.8 353.6h2.2m-1.1 -1.1v2.2M549.8 354.7h2.2m-1.1 -1.1v2.2M549.8 341.1h2.2m-1.1 -1.1v2.2M549.8 339.5h2.2m-1.1 -1.1v2.2M549.8 337.7h2.2m-1.1 -1.1v2.2M549.8 335.9h2.2m-1.1 -1.1v2.2M549.8 334h2.2m-1.1 -1.1v2.2M549.8 331.9h2.2m-1.1 -1.1v2.2M549.8 329.7h2.2m-1.1 -1.1v2.2M549.8 327.3h2.2m-1.1 -1.1v2.2M549.8 324.8h2.2m-1.1 -1.1v2.2M549.8 322h2.2m-1.1 -1.1v2.2M549.8 318.9h2.2m-1.1 -1.1v2.2M549.8 315.9h2.2m-1.1 -1.1v2.2M549.8 312.9h2.2m-1.1 -1.1v2.2M549.8 309.8h2.2m-1.1 -1.1v2.2M549.8 306.8h2.2m-1.1 -1.1v2.2M549.8 303.8h2.2m-1.1 -1.1v2.2M549.8 300.7h2.2m-1.1 -1.1v2.2M549.8 297.7h2.2m-1.1 -1.1v2.2M565.7 337.7h2.2m-1.1 -1.1v2.2M565.7 339.2h2.2m-1.1 -1.1v2.2M565.7 340.7h2.2m-1.1 -1.1v2.2M565.7 342.2h2.2m-1.1 -1.1v2.2M565.7 343.5h2.2m-1.1 -1.1v2.2M565.7 344.9h2.2m-1.1 -1.1v2.2M565.7 346.1h2.2m-1.1 -1.1v2.2M565.7 347.4h2.2m-1.1 -1.1v2.2M565.7 348.6h2.2m-1.1 -1.1v2.2M565.7 349.7h2.2m-1.1 -1.1v2.2M565.7 336.1h2.2m-1.1 -1.1v2.2M565.7 334.4h2.2m-1.1 -1.1v2.2M565.7 332.6h2.2m-1.1 -1.1v2.2M565.7 330.7h2.2m-1.1 -1.1v2.2M565.7 328.7h2.2m-1.1 -1.1v2.2M565.7 326.5h2.2m-1.1 -1.1v2.2M565.7 324.2h2.2m-1.1 -1.1v2.2M565.7 321.8h2.2m-1.1 -1.1v2.2M565.7 319.4h2.2m-1.1 -1.1v2.2M565.7 317h2.2m-1.1 -1.1v2.2M565.7 314.6h2.2m-1.1 -1.1v2.2M565.7 312.2h2.2m-1.1 -1.1v2.2M565.7 309.8h2.2m-1.1 -1.1v2.2M565.7 307.3h2.2m-1.1 -1.1v2.2M565.7 304.9h2.2m-1.1 -1.1v2.2M565.7 302.5h2.2m-1.1 -1.1v2.2M565.7 300.1h2.2m-1.1 -1.1v2.2M565.7 297.7h2.2m-1.1 -1.1v2.2M578.1 335.7h2.2m-1.1 -1.1v2.2M578.1 337.2h2.2m-1.1 -1.1v2.2M578.1 338.7h2.2m-1.1 -1.1v2.2M578.1 340.2h2.2m-1.1 -1.1v2.2M578.1 341.5h2.2m-1.1 -1.1v2.2M578.1 342.9h2.2m-1.1 -1.1v2.2M578.1 344.1h2.2m-1.1 -1.1v2.2M578.1 345.4h2.2m-1.1 -1.1v2.2M578.1 346.6h2.2m-1.1 -1.1v2.2M578.1 347.7h2.2m-1.1 -1.1v2.2M578.1 334.1h2.2m-1.1 -1.1v2.2M578.1 332.4h2.2m-1.1 -1.1v2.2M578.1 330.6h2.2m-1.1 -1.1v2.2M578.1 328.7h2.2m-1.1 -1.1v2.2M578.1 326.7h2.2m-1.1 -1.1v2.2M578.1 324.5h2.2m-1.1 -1.1v2.2M578.1 322.3h2.2m-1.1 -1.1v2.2M578.1 320h2.2m-1.1 -1.1v2.2M578.1 317.8h2.2m-1.1 -1.1v2.2M578.1 315.6h2.2m-1.1 -1.1v2.2M578.1 313.3h2.2m-1.1 -1.1v2.2M578.1 311.1h2.2m-1.1 -1.1v2.2M578.1 308.9h2.2m-1.1 -1.1v2.2M578.1 306.6h2.2m-1.1 -1.1v2.2M578.1 304.4h2.2m-1.1 -1.1v2.2M578.1 302.2h2.2m-1.1 -1.1v2.2M578.1 299.9h2.2m-1.1 -1.1v2.2M578.1 297.7h2.2m-1.1 -1.1v2.2M588.2 334.7h2.2m-1.1 -1.1v2.2M588.2 336.2h2.2m-1.1 -1.1v2.2M588.2 337.7h2.2m-1.1 -1.1v2.2M588.2 339.2h2.2m-1.1 -1.1v2.2M588.2 340.5h2.2m-1.1 -1.1v2.2M588.2 341.9h2.2m-1.1 -1.1v2.2M588.2 343.1h2.2m-1.1 -1.1v2.2M588.2 344.4h2.2m-1.1 -1.1v2.2M588.2 345.6h2.2m-1.1 -1.1v2.2M588.2 346.7h2.2m-1.1 -1.1v2.2M588.2 333.1h2.2m-1.1 -1.1v2.2M588.2 331.5h2.2m-1.1 -1.1v2.2M588.2 329.8h2.2m-1.1 -1.1v2.2M588.2 327.9h2.2m-1.1 -1.1v2.2M588.2 326h2.2m-1.1 -1.1v2.2M588.2 324h2.2m-1.1 -1.1v2.2M588.2 321.9h2.2m-1.1 -1.1v2.2M588.2 319.9h2.2m-1.1 -1.1v2.2M588.2 317.9h2.2m-1.1 -1.1v2.2M588.2 315.9h2.2m-1.1 -1.1v2.2M588.2 313.9h2.2m-1.1 -1.1v2.2M588.2 311.8h2.2m-1.1 -1.1v2.2M588.2 309.8h2.2m-1.1 -1.1v2.2M588.2 307.8h2.2m-1.1 -1.1v2.2M588.2 305.8h2.2m-1.1 -1.1v2.2M588.2 303.8h2.2m-1.1 -1.1v2.2M588.2 301.7h2.2m-1.1 -1.1v2.2M588.2 299.7h2.2m-1.1 -1.1v2.2M588.2 297.7h2.2m-1.1 -1.1v2.2M596.7 334.7h2.2m-1.1 -1.1v2.2M596.7 336.2h2.2m-1.1 -1.1v2.2M596.7 337.7h2.2m-1.1 -1.1v2.2M596.7 339.2h2.2m-1.1 -1.1v2.2M596.7 340.5h2.2m-1.1 -1.1v2.2M596.7 341.9h2.2m-1.1 -1.1v2.2M596.7 343.1h2.2m-1.1 -1.1v2.2M596.7 344.4h2.2m-1.1 -1.1v2.2M596.7 345.6h2.2m-1.1 -1.1v2.2M596.7 346.7h2.2m-1.1 -1.1v2.2M596.7 333.1h2.2m-1.1 -1.1v2.2M596.7 331.5h2.2m-1.1 -1.1v2.2M596.7 329.7h2.2m-1.1 -1.1v2.2M596.7 327.9h2.2m-1.1 -1.1v2.2M596.7 325.9h2.2m-1.1 -1.1v2.2M596.7 323.9h2.2m-1.1 -1.1v2.2M596.7 321.9h2.2m-1.1 -1.1v2.2M596.7 319.9h2.2m-1.1 -1.1v2.2M596.7 317.9h2.2m-1.1 -1.1v2.2M596.7 315.9h2.2m-1.1 -1.1v2.2M596.7 313.8h2.2m-1.1 -1.1v2.2M596.7 311.8h2.2m-1.1 -1.1v2.2M596.7 309.8h2.2m-1.1 -1.1v2.2M596.7 307.8h2.2m-1.1 -1.1v2.2M596.7 305.8h2.2m-1.1 -1.1v2.2M596.7 303.8h2.2m-1.1 -1.1v2.2M596.7 301.7h2.2m-1.1 -1.1v2.2M596.7 299.7h2.2m-1.1 -1.1v2.2M604.1 363.9h2.2m-1.1 -1.1v2.2M604.1 362.2h2.2m-1.1 -1.1v2.2M604.1 360.5h2.2m-1.1 -1.1v2.2M604.1 358.6h2.2m-1.1 -1.1v2.2M604.1 356.6h2.2m-1.1 -1.1v2.2M604.1 354.6h2.2m-1.1 -1.1v2.2M604.1 352.6h2.2m-1.1 -1.1v2.2M604.1 348.5h2.2m-1.1 -1.1v2.2M604.1 346.5h2.2m-1.1 -1.1v2.2M604.1 344.4h2.2m-1.1 -1.1v2.2M604.1 342.4h2.2m-1.1 -1.1v2.2M604.1 340.4h2.2m-1.1 -1.1v2.2M604.1 338.3h2.2m-1.1 -1.1v2.2M604.1 336.3h2.2m-1.1 -1.1v2.2M604.1 334.3h2.2m-1.1 -1.1v2.2M604.1 332.2h2.2m-1.1 -1.1v2.2M604.1 330.2h2.2m-1.1 -1.1v2.2M604.1 328.2h2.2m-1.1 -1.1v2.2M604.1 326.1h2.2m-1.1 -1.1v2.2M604.1 324.1h2.2m-1.1 -1.1v2.2M604.1 320h2.2m-1.1 -1.1v2.2M604.1 316h2.2m-1.1 -1.1v2.2M604.1 314h2.2m-1.1 -1.1v2.2M604.1 311.9h2.2m-1.1 -1.1v2.2M604.1 309.9h2.2m-1.1 -1.1v2.2M604.1 307.9h2.2m-1.1 -1.1v2.2M604.1 305.8h2.2m-1.1 -1.1v2.2M604.1 303.8h2.2m-1.1 -1.1v2.2M604.1 301.8h2.2m-1.1 -1.1v2.2M604.1 299.7h2.2m-1.1 -1.1v2.2M604.1 297.7h2.2m-1.1 -1.1v2.2M610.6 361.9h2.2m-1.1 -1.1v2.2M610.6 360.3h2.2m-1.1 -1.1v2.2M610.6 358.6h2.2m-1.1 -1.1v2.2M610.6 356.8h2.2m-1.1 -1.1v2.2M610.6 354.8h2.2m-1.1 -1.1v2.2M610.6 352.9h2.2m-1.1 -1.1v2.2M610.6 350.9h2.2m-1.1 -1.1v2.2M610.6 348.9h2.2m-1.1 -1.1v2.2M610.6 347h2.2m-1.1 -1.1v2.2M610.6 345h2.2m-1.1 -1.1v2.2M610.6 343h2.2m-1.1 -1.1v2.2M610.6 341h2.2m-1.1 -1.1v2.2M610.6 339.1h2.2m-1.1 -1.1v2.2M610.6 337.1h2.2m-1.1 -1.1v2.2M610.6 335.1h2.2m-1.1 -1.1v2.2M610.6 333.2h2.2m-1.1 -1.1v2.2M610.6 331.2h2.2m-1.1 -1.1v2.2M610.6 329.2h2.2m-1.1 -1.1v2.2M610.6 327.3h2.2m-1.1 -1.1v2.2M610.6 325.3h2.2m-1.1 -1.1v2.2M610.6 323.3h2.2m-1.1 -1.1v2.2M610.6 321.3h2.2m-1.1 -1.1v2.2M610.6 319.4h2.2m-1.1 -1.1v2.2M610.6 317.4h2.2m-1.1 -1.1v2.2M610.6 315.4h2.2m-1.1 -1.1v2.2M610.6 313.5h2.2m-1.1 -1.1v2.2M610.6 311.5h2.2m-1.1 -1.1v2.2M610.6 309.5h2.2m-1.1 -1.1v2.2M610.6 307.6h2.2m-1.1 -1.1v2.2M610.6 305.6h2.2m-1.1 -1.1v2.2M610.6 303.6h2.2m-1.1 -1.1v2.2M610.6 301.6h2.2m-1.1 -1.1v2.2M610.6 299.7h2.2m-1.1 -1.1v2.2M610.6 297.7h2.2m-1.1 -1.1v2.2M616.4 360.1h2.2m-1.1 -1.1v2.2M616.4 356.8h2.2m-1.1 -1.1v2.2M616.4 354.9h2.2m-1.1 -1.1v2.2M616.4 353h2.2m-1.1 -1.1v2.2M616.4 351h2.2m-1.1 -1.1v2.2M616.4 349h2.2m-1.1 -1.1v2.2M616.4 347.1h2.2m-1.1 -1.1v2.2M616.4 345.1h2.2m-1.1 -1.1v2.2M616.4 343.1h2.2m-1.1 -1.1v2.2M616.4 341.1h2.2m-1.1 -1.1v2.2M616.4 339.2h2.2m-1.1 -1.1v2.2M616.4 337.2h2.2m-1.1 -1.1v2.2M616.4 335.2h2.2m-1.1 -1.1v2.2M616.4 333.2h2.2m-1.1 -1.1v2.2M616.4 331.3h2.2m-1.1 -1.1v2.2M616.4 329.3h2.2m-1.1 -1.1v2.2M616.4 327.3h2.2m-1.1 -1.1v2.2M616.4 325.3h2.2m-1.1 -1.1v2.2M616.4 323.4h2.2m-1.1 -1.1v2.2M616.4 321.4h2.2m-1.1 -1.1v2.2M616.4 319.4h2.2m-1.1 -1.1v2.2M616.4 317.4h2.2m-1.1 -1.1v2.2M616.4 315.5h2.2m-1.1 -1.1v2.2M616.4 313.5h2.2m-1.1 -1.1v2.2M616.4 311.5h2.2m-1.1 -1.1v2.2M616.4 309.5h2.2m-1.1 -1.1v2.2M616.4 307.6h2.2m-1.1 -1.1v2.2M616.4 305.6h2.2m-1.1 -1.1v2.2M616.4 303.6h2.2m-1.1 -1.1v2.2M616.4 301.6h2.2m-1.1 -1.1v2.2M616.4 299.7h2.2m-1.1 -1.1v2.2M616.4 297.7h2.2m-1.1 -1.1v2.2M621.7 357.9h2.2m-1.1 -1.1v2.2M621.7 356.2h2.2m-1.1 -1.1v2.2M621.7 354.4h2.2m-1.1 -1.1v2.2M621.7 352.5h2.2m-1.1 -1.1v2.2M621.7 350.5h2.2m-1.1 -1.1v2.2M621.7 348.6h2.2m-1.1 -1.1v2.2M621.7 346.6h2.2m-1.1 -1.1v2.2M621.7 344.6h2.2m-1.1 -1.1v2.2M621.7 342.7h2.2m-1.1 -1.1v2.2M621.7 340.7h2.2m-1.1 -1.1v2.2M621.7 336.8h2.2m-1.1 -1.1v2.2M621.7 334.9h2.2m-1.1 -1.1v2.2M621.7 332.9h2.2m-1.1 -1.1v2.2M621.7 329h2.2m-1.1 -1.1v2.2M621.7 327h2.2m-1.1 -1.1v2.2M621.7 325.1h2.2m-1.1 -1.1v2.2M621.7 323.1h2.2m-1.1 -1.1v2.2M621.7 321.2h2.2m-1.1 -1.1v2.2M621.7 319.2h2.2m-1.1 -1.1v2.2M621.7 317.3h2.2m-1.1 -1.1v2.2M621.7 315.3h2.2m-1.1 -1.1v2.2M621.7 313.3h2.2m-1.1 -1.1v2.2M621.7 311.4h2.2m-1.1 -1.1v2.2M621.7 309.4h2.2m-1.1 -1.1v2.2M621.7 307.5h2.2m-1.1 -1.1v2.2M621.7 305.5h2.2m-1.1 -1.1v2.2M621.7 303.6h2.2m-1.1 -1.1v2.2M621.7 301.6h2.2m-1.1 -1.1v2.2M621.7 299.7h2.2m-1.1 -1.1v2.2M621.7 297.7h2.2m-1.1 -1.1v2.2M626.5 359h2.2m-1.1 -1.1v2.2M626.5 357.3h2.2m-1.1 -1.1v2.2M626.5 355.6h2.2m-1.1 -1.1v2.2M626.5 353.7h2.2m-1.1 -1.1v2.2M626.5 351.7h2.2m-1.1 -1.1v2.2M626.5 349.7h2.2m-1.1 -1.1v2.2M626.5 347.7h2.2m-1.1 -1.1v2.2M626.5 345.7h2.2m-1.1 -1.1v2.2M626.5 343.7h2.2m-1.1 -1.1v2.2M626.5 341.7h2.2m-1.1 -1.1v2.2M626.5 339.7h2.2m-1.1 -1.1v2.2M626.5 337.7h2.2m-1.1 -1.1v2.2M626.5 335.7h2.2m-1.1 -1.1v2.2M626.5 333.7h2.2m-1.1 -1.1v2.2M626.5 331.7h2.2m-1.1 -1.1v2.2M626.5 329.7h2.2m-1.1 -1.1v2.2M626.5 327.7h2.2m-1.1 -1.1v2.2M626.5 325.7h2.2m-1.1 -1.1v2.2M626.5 323.7h2.2m-1.1 -1.1v2.2M626.5 321.7h2.2m-1.1 -1.1v2.2M626.5 319.7h2.2m-1.1 -1.1v2.2M626.5 317.7h2.2m-1.1 -1.1v2.2M626.5 315.7h2.2m-1.1 -1.1v2.2M626.5 313.7h2.2m-1.1 -1.1v2.2M626.5 311.7h2.2m-1.1 -1.1v2.2M626.5 309.7h2.2m-1.1 -1.1v2.2M626.5 307.7h2.2m-1.1 -1.1v2.2M626.5 305.7h2.2m-1.1 -1.1v2.2M626.5 303.7h2.2m-1.1 -1.1v2.2M626.5 301.7h2.2m-1.1 -1.1v2.2M626.5 299.7h2.2m-1.1 -1.1v2.2M630.9 358.6h2.2m-1.1 -1.1v2.2M630.9 356.9h2.2m-1.1 -1.1v2.2M630.9 355.1h2.2m-1.1 -1.1v2.2M630.9 351.3h2.2m-1.1 -1.1v2.2M630.9 349.3h2.2m-1.1 -1.1v2.2M630.9 347.3h2.2m-1.1 -1.1v2.2M630.9 345.3h2.2m-1.1 -1.1v2.2M630.9 343.3h2.2m-1.1 -1.1v2.2M630.9 341.4h2.2m-1.1 -1.1v2.2M630.9 339.4h2.2m-1.1 -1.1v2.2M630.9 337.4h2.2m-1.1 -1.1v2.2M630.9 335.4h2.2m-1.1 -1.1v2.2M630.9 333.4h2.2m-1.1 -1.1v2.2M630.9 329.5h2.2m-1.1 -1.1v2.2M630.9 327.5h2.2m-1.1 -1.1v2.2M630.9 325.5h2.2m-1.1 -1.1v2.2M630.9 323.5h2.2m-1.1 -1.1v2.2M630.9 321.5h2.2m-1.1 -1.1v2.2M630.9 319.5h2.2m-1.1 -1.1v2.2M630.9 317.5h2.2m-1.1 -1.1v2.2M630.9 315.6h2.2m-1.1 -1.1v2.2M630.9 313.6h2.2m-1.1 -1.1v2.2M630.9 311.6h2.2m-1.1 -1.1v2.2M630.9 309.6h2.2m-1.1 -1.1v2.2M630.9 307.6h2.2m-1.1 -1.1v2.2M630.9 303.7h2.2m-1.1 -1.1v2.2M630.9 301.7h2.2m-1.1 -1.1v2.2M630.9 299.7h2.2m-1.1 -1.1v2.2M630.9 297.7h2.2m-1.1 -1.1v2.2M635 358.1h2.2m-1.1 -1.1v2.2M635 356.5h2.2m-1.1 -1.1v2.2M635 354.7h2.2m-1.1 -1.1v2.2M635 352.8h2.2m-1.1 -1.1v2.2M635 346.9h2.2m-1.1 -1.1v2.2M635 345h2.2m-1.1 -1.1v2.2M635 341h2.2m-1.1 -1.1v2.2M635 333.2h2.2m-1.1 -1.1v2.2M635 331.2h2.2m-1.1 -1.1v2.2M635 329.2h2.2m-1.1 -1.1v2.2M635 327.2h2.2m-1.1 -1.1v2.2M635 325.3h2.2m-1.1 -1.1v2.2M635 323.3h2.2m-1.1 -1.1v2.2M635 321.3h2.2m-1.1 -1.1v2.2M635 319.4h2.2m-1.1 -1.1v2.2M635 317.4h2.2m-1.1 -1.1v2.2M635 315.4h2.2m-1.1 -1.1v2.2M635 313.5h2.2m-1.1 -1.1v2.2M635 311.5h2.2m-1.1 -1.1v2.2M635 309.5h2.2m-1.1 -1.1v2.2M635 307.5h2.2m-1.1 -1.1v2.2M635 305.6h2.2m-1.1 -1.1v2.2M635 303.6h2.2m-1.1 -1.1v2.2M635 301.6h2.2m-1.1 -1.1v2.2M635 299.7h2.2m-1.1 -1.1v2.2M635 297.7h2.2m-1.1 -1.1v2.2M638.8 358.8h2.2m-1.1 -1.1v2.2M638.8 357.2h2.2m-1.1 -1.1v2.2M638.8 355.5h2.2m-1.1 -1.1v2.2M638.8 353.7h2.2m-1.1 -1.1v2.2M638.8 351.7h2.2m-1.1 -1.1v2.2M638.8 347.9h2.2m-1.1 -1.1v2.2M638.8 345.9h2.2m-1.1 -1.1v2.2M638.8 340.2h2.2m-1.1 -1.1v2.2M638.8 332.4h2.2m-1.1 -1.1v2.2M638.8 330.5h2.2m-1.1 -1.1v2.2M638.8 328.6h2.2m-1.1 -1.1v2.2M638.8 326.6h2.2m-1.1 -1.1v2.2M638.8 324.7h2.2m-1.1 -1.1v2.2M638.8 322.8h2.2m-1.1 -1.1v2.2M638.8 320.9h2.2m-1.1 -1.1v2.2M638.8 318.9h2.2m-1.1 -1.1v2.2M638.8 317h2.2m-1.1 -1.1v2.2M638.8 315.1h2.2m-1.1 -1.1v2.2M638.8 313.1h2.2m-1.1 -1.1v2.2M638.8 311.2h2.2m-1.1 -1.1v2.2M638.8 309.3h2.2m-1.1 -1.1v2.2M638.8 307.3h2.2m-1.1 -1.1v2.2M638.8 305.4h2.2m-1.1 -1.1v2.2M638.8 303.5h2.2m-1.1 -1.1v2.2M638.8 301.6h2.2m-1.1 -1.1v2.2M638.8 299.6h2.2m-1.1 -1.1v2.2M638.8 297.7h2.2m-1.1 -1.1v2.2M642.4 359.5h2.2m-1.1 -1.1v2.2M642.4 357.8h2.2m-1.1 -1.1v2.2M642.4 356.1h2.2m-1.1 -1.1v2.2M642.4 354.2h2.2m-1.1 -1.1v2.2M642.4 352.3h2.2m-1.1 -1.1v2.2M642.4 348.4h2.2m-1.1 -1.1v2.2M642.4 346.4h2.2m-1.1 -1.1v2.2M642.4 332.8h2.2m-1.1 -1.1v2.2M642.4 330.8h2.2m-1.1 -1.1v2.2M642.4 328.9h2.2m-1.1 -1.1v2.2M642.4 326.9h2.2m-1.1 -1.1v2.2M642.4 325h2.2m-1.1 -1.1v2.2M642.4 323h2.2m-1.1 -1.1v2.2M642.4 321.1h2.2m-1.1 -1.1v2.2M642.4 319.1h2.2m-1.1 -1.1v2.2M642.4 317.2h2.2m-1.1 -1.1v2.2M642.4 313.3h2.2m-1.1 -1.1v2.2M642.4 311.3h2.2m-1.1 -1.1v2.2M642.4 309.4h2.2m-1.1 -1.1v2.2M642.4 307.4h2.2m-1.1 -1.1v2.2M642.4 305.5h2.2m-1.1 -1.1v2.2M642.4 303.5h2.2m-1.1 -1.1v2.2M642.4 301.6h2.2m-1.1 -1.1v2.2M642.4 299.6h2.2m-1.1 -1.1v2.2M642.4 297.7h2.2m-1.1 -1.1v2.2M645.7 360.1h2.2m-1.1 -1.1v2.2M645.7 350.8h2.2m-1.1 -1.1v2.2M645.7 348.9h2.2m-1.1 -1.1v2.2M645.7 346.9h2.2m-1.1 -1.1v2.2M645.7 343h2.2m-1.1 -1.1v2.2M645.7 337.1h2.2m-1.1 -1.1v2.2M645.7 335.1h2.2m-1.1 -1.1v2.2M645.7 333.1h2.2m-1.1 -1.1v2.2M645.7 329.2h2.2m-1.1 -1.1v2.2M645.7 327.2h2.2m-1.1 -1.1v2.2M645.7 325.2h2.2m-1.1 -1.1v2.2M645.7 323.3h2.2m-1.1 -1.1v2.2M645.7 321.3h2.2m-1.1 -1.1v2.2M645.7 319.3h2.2m-1.1 -1.1v2.2M645.7 315.4h2.2m-1.1 -1.1v2.2M645.7 313.4h2.2m-1.1 -1.1v2.2M645.7 311.5h2.2m-1.1 -1.1v2.2M645.7 309.5h2.2m-1.1 -1.1v2.2M645.7 307.5h2.2m-1.1 -1.1v2.2M645.7 305.6h2.2m-1.1 -1.1v2.2M645.7 301.6h2.2m-1.1 -1.1v2.2M645.7 299.7h2.2m-1.1 -1.1v2.2M645.7 297.7h2.2m-1.1 -1.1v2.2M648.9 359h2.2m-1.1 -1.1v2.2M648.9 357.3h2.2m-1.1 -1.1v2.2M648.9 353.5h2.2m-1.1 -1.1v2.2M648.9 351.6h2.2m-1.1 -1.1v2.2M648.9 349.7h2.2m-1.1 -1.1v2.2M648.9 342h2.2m-1.1 -1.1v2.2M648.9 340.1h2.2m-1.1 -1.1v2.2M648.9 328.5h2.2m-1.1 -1.1v2.2M648.9 326.6h2.2m-1.1 -1.1v2.2M648.9 324.7h2.2m-1.1 -1.1v2.2M648.9 322.7h2.2m-1.1 -1.1v2.2M648.9 320.8h2.2m-1.1 -1.1v2.2M648.9 318.9h2.2m-1.1 -1.1v2.2M648.9 317h2.2m-1.1 -1.1v2.2M648.9 315h2.2m-1.1 -1.1v2.2M648.9 313.1h2.2m-1.1 -1.1v2.2M648.9 311.2h2.2m-1.1 -1.1v2.2M648.9 307.3h2.2m-1.1 -1.1v2.2M648.9 305.4h2.2m-1.1 -1.1v2.2M648.9 303.5h2.2m-1.1 -1.1v2.2M648.9 301.6h2.2m-1.1 -1.1v2.2M648.9 299.6h2.2m-1.1 -1.1v2.2M648.9 297.7h2.2m-1.1 -1.1v2.2M651.9 355.9h2.2m-1.1 -1.1v2.2M651.9 352.1h2.2m-1.1 -1.1v2.2M651.9 350.1h2.2m-1.1 -1.1v2.2M651.9 344.3h2.2m-1.1 -1.1v2.2M651.9 342.4h2.2m-1.1 -1.1v2.2M651.9 340.4h2.2m-1.1 -1.1v2.2M651.9 336.5h2.2m-1.1 -1.1v2.2M651.9 334.6h2.2m-1.1 -1.1v2.2M651.9 326.8h2.2m-1.1 -1.1v2.2M651.9 324.9h2.2m-1.1 -1.1v2.2M651.9 322.9h2.2m-1.1 -1.1v2.2M651.9 319.1h2.2m-1.1 -1.1v2.2M651.9 317.1h2.2m-1.1 -1.1v2.2M651.9 313.2h2.2m-1.1 -1.1v2.2M651.9 311.3h2.2m-1.1 -1.1v2.2M651.9 309.3h2.2m-1.1 -1.1v2.2M651.9 307.4h2.2m-1.1 -1.1v2.2M651.9 305.5h2.2m-1.1 -1.1v2.2M651.9 303.5h2.2m-1.1 -1.1v2.2M651.9 301.6h2.2m-1.1 -1.1v2.2M651.9 299.6h2.2m-1.1 -1.1v2.2M651.9 297.7h2.2m-1.1 -1.1v2.2M654.7 361.7h2.2m-1.1 -1.1v2.2M654.7 356.4h2.2m-1.1 -1.1v2.2M654.7 354.4h2.2m-1.1 -1.1v2.2M654.7 346.6h2.2m-1.1 -1.1v2.2M654.7 344.7h2.2m-1.1 -1.1v2.2M654.7 342.7h2.2m-1.1 -1.1v2.2M654.7 327h2.2m-1.1 -1.1v2.2M654.7 325.1h2.2m-1.1 -1.1v2.2M654.7 323.1h2.2m-1.1 -1.1v2.2M654.7 321.2h2.2m-1.1 -1.1v2.2M654.7 317.3h2.2m-1.1 -1.1v2.2M654.7 315.3h2.2m-1.1 -1.1v2.2M654.7 313.4h2.2m-1.1 -1.1v2.2M654.7 309.4h2.2m-1.1 -1.1v2.2M654.7 307.5h2.2m-1.1 -1.1v2.2M654.7 305.5h2.2m-1.1 -1.1v2.2M654.7 303.6h2.2m-1.1 -1.1v2.2M654.7 301.6h2.2m-1.1 -1.1v2.2M654.7 299.7h2.2m-1.1 -1.1v2.2M654.7 297.7h2.2m-1.1 -1.1v2.2" stroke="#bcbcbc" stroke-width="0.8" fill="none"/>
<g fill="#0000ff"><circle cx="490.2" cy="385.9" r="2.35"/><circle cx="490.2" cy="387.9" r="2.35"/><circle cx="490.2" cy="389.9" r="2.35"/><circle cx="490.2" cy="391.9" r="2.35"/><circle cx="490.2" cy="393.9" r="2.35"/><circle cx="490.2" cy="395.9" r="2.35"/><circle cx="528.5" cy="368.3" r="2.35"/><circle cx="528.5" cy="370.2" r="2.35"/><circle cx="528.5" cy="372.2" r="2.35"/><circle cx="528.5" cy="374.2" r="2.35"/><circle cx="528.5" cy="376.1" r="2.35"/><circle cx="528.5" cy="378.1" r="2.35"/><circle cx="528.5" cy="380" r="2.35"/><circle cx="528.5" cy="381.9" r="2.35"/><circle cx="528.5" cy="383.9" r="2.35"/><circle cx="528.5" cy="385.9" r="2.35"/><circle cx="528.5" cy="387.8" r="2.35"/><circle cx="550.9" cy="361.2" r="2.35"/><circle cx="550.9" cy="363.1" r="2.35"/><circle cx="550.9" cy="365" r="2.35"/><circle cx="550.9" cy="367" r="2.35"/><circle cx="550.9" cy="368.9" r="2.35"/><circle cx="550.9" cy="370.8" r="2.35"/><circle cx="550.9" cy="372.7" r="2.35"/><circle cx="550.9" cy="374.6" r="2.35"/><circle cx="550.9" cy="376.5" r="2.35"/><circle cx="550.9" cy="378.5" r="2.35"/><circle cx="550.9" cy="380.4" r="2.35"/><circle cx="550.9" cy="382.3" r="2.35"/><circle cx="566.8" cy="353.9" r="2.35"/><circle cx="566.8" cy="355.9" r="2.35"/><circle cx="566.8" cy="357.8" r="2.35"/><circle cx="566.8" cy="359.8" r="2.35"/><circle cx="566.8" cy="361.8" r="2.35"/><circle cx="566.8" cy="363.7" r="2.35"/><circle cx="566.8" cy="365.7" r="2.35"/><circle cx="566.8" cy="367.7" r="2.35"/><circle cx="566.8" cy="369.6" r="2.35"/><circle cx="566.8" cy="371.6" r="2.35"/><circle cx="566.8" cy="373.6" r="2.35"/><circle cx="566.8" cy="375.5" r="2.35"/><circle cx="566.8" cy="377.5" r="2.35"/><circle cx="579.2" cy="352" r="2.35"/><circle cx="579.2" cy="353.9" r="2.35"/><circle cx="579.2" cy="355.7" r="2.35"/><circle cx="579.2" cy="357.6" r="2.35"/><circle cx="579.2" cy="359.4" r="2.35"/><circle cx="579.2" cy="361.2" r="2.35"/><circle cx="579.2" cy="363.1" r="2.35"/><circle cx="579.2" cy="364.9" r="2.35"/><circle cx="579.2" cy="366.8" r="2.35"/><circle cx="579.2" cy="368.6" r="2.35"/><circle cx="579.2" cy="370.5" r="2.35"/><circle cx="579.2" cy="372.3" r="2.35"/><circle cx="579.2" cy="374.2" r="2.35"/><circle cx="589.3" cy="346.3" r="2.35"/><circle cx="589.3" cy="351.2" r="2.35"/><circle cx="589.3" cy="353.1" r="2.35"/><circle cx="589.3" cy="355" r="2.35"/><circle cx="589.3" cy="356.9" r="2.35"/><circle cx="589.3" cy="358.8" r="2.35"/><circle cx="589.3" cy="360.6" r="2.35"/><circle cx="589.3" cy="362.5" r="2.35"/><circle cx="589.3" cy="364.4" r="2.35"/><circle cx="589.3" cy="366.3" r="2.35"/><circle cx="589.3" cy="368.2" r="2.35"/><circle cx="589.3" cy="370.1" r="2.35"/><circle cx="597.8" cy="348.5" r="2.35"/><circle cx="597.8" cy="350.4" r="2.35"/><circle cx="597.8" cy="352.3" r="2.35"/><circle cx="597.8" cy="354.2" r="2.35"/><circle cx="597.8" cy="356.1" r="2.35"/><circle cx="597.8" cy="357.9" r="2.35"/><circle cx="597.8" cy="359.8" r="2.35"/><circle cx="597.8" cy="361.7" r="2.35"/><circle cx="597.8" cy="363.6" r="2.35"/><circle cx="597.8" cy="365.5" r="2.35"/><circle cx="597.8" cy="367.4" r="2.35"/><circle cx="605.2" cy="340.9" r="2.35"/><circle cx="605.2" cy="342.8" r="2.35"/><circle cx="605.2" cy="344.7" r="2.35"/><circle cx="605.2" cy="346.6" r="2.35"/><circle cx="605.2" cy="348.5" r="2.35"/><circle cx="605.2" cy="350.4" r="2.35"/><circle cx="605.2" cy="352.3" r="2.35"/><circle cx="605.2" cy="354.1" r="2.35"/><circle cx="605.2" cy="356" r="2.35"/><circle cx="605.2" cy="357.9" r="2.35"/><circle cx="605.2" cy="359.8" r="2.35"/><circle cx="605.2" cy="361.7" r="2.35"/><circle cx="605.2" cy="363.6" r="2.35"/><circle cx="605.2" cy="365.5" r="2.35"/><circle cx="611.7" cy="344.4" r="2.35"/><circle cx="611.7" cy="346.4" r="2.35"/><circle cx="611.7" cy="348.3" r="2.35"/><circle cx="611.7" cy="350.3" r="2.35"/><circle cx="611.7" cy="352.2" r="2.35"/><circle cx="611.7" cy="354.2" r="2.35"/><circle cx="611.7" cy="356.1" r="2.35"/><circle cx="611.7" cy="358.1" r="2.35"/><circle cx="611.7" cy="360" r="2.35"/><circle cx="611.7" cy="362" r="2.35"/><circle cx="617.5" cy="345.8" r="2.35"/><circle cx="617.5" cy="347.8" r="2.35"/><circle cx="617.5" cy="349.7" r="2.35"/><circle cx="617.5" cy="351.7" r="2.35"/><circle cx="617.5" cy="353.6" r="2.35"/><circle cx="617.5" cy="355.6" r="2.35"/><circle cx="617.5" cy="357.5" r="2.35"/><circle cx="617.5" cy="359.5" r="2.35"/><circle cx="622.8" cy="344.4" r="2.35"/><circle cx="622.8" cy="350.5" r="2.35"/><circle cx="622.8" cy="352.4" r="2.35"/><circle cx="622.8" cy="354.4" r="2.35"/><circle cx="622.8" cy="356.4" r="2.35"/><circle cx="622.8" cy="358.3" r="2.35"/><circle cx="627.6" cy="343.8" r="2.35"/><circle cx="627.6" cy="345.6" r="2.35"/><circle cx="627.6" cy="347.4" r="2.35"/><circle cx="627.6" cy="349.2" r="2.35"/><circle cx="627.6" cy="350.9" r="2.35"/><circle cx="627.6" cy="352.7" r="2.35"/><circle cx="627.6" cy="354.5" r="2.35"/><circle cx="627.6" cy="356.3" r="2.35"/><circle cx="632" cy="340.9" r="2.35"/><circle cx="632" cy="342.8" r="2.35"/><circle cx="632" cy="344.8" r="2.35"/><circle cx="632" cy="346.7" r="2.35"/><circle cx="632" cy="348.6" r="2.35"/><circle cx="632" cy="350.6" r="2.35"/><circle cx="632" cy="352.5" r="2.35"/><circle cx="636.1" cy="340.3" r="2.35"/><circle cx="636.1" cy="342.2" r="2.35"/><circle cx="636.1" cy="344.1" r="2.35"/><circle cx="636.1" cy="346" r="2.35"/><circle cx="636.1" cy="347.9" r="2.35"/><circle cx="636.1" cy="349.8" r="2.35"/><circle cx="639.9" cy="348.5" r="2.35"/></g>
<path d="M470.7 432.4h2M663.3 432.4h-2M470.7 429.1h2M663.3 429.1h-2M470.7 426.1h4M663.3 426.1h-4M470.7 406.8h2M663.3 406.8h-2M470.7 395.4h2M663.3 395.4h-2M470.7 387.4h2M663.3 387.4h-2M470.7 381.1h2M663.3 381.1h-2M470.7 376h2M663.3 376h-2M470.7 371.7h2M663.3 371.7h-2M470.7 368h2M663.3 368h-2M470.7 364.7h2M663.3 364.7h-2M470.7 361.8h4M663.3 361.8h-4M470.7 342.4h2M663.3 342.4h-2M470.7 331h2M663.3 331h-2M470.7 323h2M663.3 323h-2M470.7 316.7h2M663.3 316.7h-2M470.7 311.6h2M663.3 311.6h-2M470.7 307.3h2M663.3 307.3h-2M470.7 303.6h2M663.3 303.6h-2M470.7 300.3h2M663.3 300.3h-2M470.7 297.3h4M663.3 297.3h-4M477.9 294.7v1.6M477.9 435.9v-1.7M484.4 294.7v1.6M484.4 435.9v-1.7M490.2 294.7v2.7M490.2 435.9v-3.2M528.5 294.7v1.6M528.5 435.9v-1.7M550.9 294.7v1.6M550.9 435.9v-1.7M566.8 294.7v1.6M566.8 435.9v-1.7M579.2 294.7v1.6M579.2 435.9v-1.7M589.3 294.7v1.6M589.3 435.9v-1.7M597.8 294.7v1.6M597.8 435.9v-1.7M605.2 294.7v1.6M605.2 435.9v-1.7M611.7 294.7v1.6M611.7 435.9v-1.7M617.5 294.7v2.7M617.5 435.9v-3.2M655.8 294.7v1.6M655.8 435.9v-1.7" stroke="#000" stroke-width="1.1" fill="none"/>
<rect x="470.7" y="294.7" width="192.6" height="141.2" fill="none" stroke="#000" stroke-width="1.25"/>
<g font-size="16" fill="#2e2e2e" class="t">
<text x="504" y="317.5">I</text>
<text x="597.4" y="401.3" textLength="23.2" lengthAdjust="spacing">6M</text>
<circle cx="625.9" cy="401.1" r="3.4" fill="none" stroke="#222" stroke-width="1.1"/><circle cx="625.9" cy="401.1" r="0.95"/>
<text x="597.1" y="427" textLength="43.4" lengthAdjust="spacing">TAMS</text>
</g>
</g>
<g font-size="16" fill="#363636" class="t">
<text x="64.6" y="13.1" text-anchor="end" textLength="34.2" lengthAdjust="spacing">10.0</text>
<text x="64.6" y="75.7" text-anchor="end" textLength="24.1" lengthAdjust="spacing">1.0</text>
<text x="63.4" y="140" text-anchor="end" textLength="24.1" lengthAdjust="spacing">0.1</text>
<g transform="translate(14.1 107.8) rotate(-90)" font-size="14.5" text-anchor="middle"><text><tspan x="19">e</tspan><tspan x="27">q</tspan><tspan x="41.1">c</tspan><tspan x="66.2">d</tspan></text><text transform="translate(3.1 0) scale(1.25 1)">f</text><text transform="translate(10.7 0) scale(1.25 1)">r</text><path d="M48.9 3.4L60.7 -10.7" stroke="#333" stroke-width="1.1" fill="none"/></g>
<text x="64.6" y="159.6" text-anchor="end" textLength="34.2" lengthAdjust="spacing">10.0</text>
<text x="64.6" y="222.2" text-anchor="end" textLength="24.1" lengthAdjust="spacing">1.0</text>
<text x="63.4" y="286.5" text-anchor="end" textLength="24.1" lengthAdjust="spacing">0.1</text>
<g transform="translate(14.1 254.3) rotate(-90)" font-size="14.5" text-anchor="middle"><text><tspan x="19">e</tspan><tspan x="27">q</tspan><tspan x="41.1">c</tspan><tspan x="66.2">d</tspan></text><text transform="translate(3.1 0) scale(1.25 1)">f</text><text transform="translate(10.7 0) scale(1.25 1)">r</text><path d="M48.9 3.4L60.7 -10.7" stroke="#333" stroke-width="1.1" fill="none"/></g>
<text x="64.6" y="306.4" text-anchor="end" textLength="34.2" lengthAdjust="spacing">10.0</text>
<text x="64.6" y="369" text-anchor="end" textLength="24.1" lengthAdjust="spacing">1.0</text>
<text x="63.4" y="433.3" text-anchor="end" textLength="24.1" lengthAdjust="spacing">0.1</text>
<g transform="translate(14.1 401.1) rotate(-90)" font-size="14.5" text-anchor="middle"><text><tspan x="19">e</tspan><tspan x="27">q</tspan><tspan x="41.1">c</tspan><tspan x="66.2">d</tspan></text><text transform="translate(3.1 0) scale(1.25 1)">f</text><text transform="translate(10.7 0) scale(1.25 1)">r</text><path d="M48.9 3.4L60.7 -10.7" stroke="#333" stroke-width="1.1" fill="none"/></g>
<text x="89.7" y="460.6" text-anchor="middle">1</text>
<text x="217.8" y="460.6" text-anchor="middle" textLength="18.8" lengthAdjust="spacing">10</text>
<path d="M168.8 477.2 C168 479.2 166.2 480.3 165.2 479.2 C164.2 478 165 474.5 165.8 472.2 C166.6 469.8 167.4 468.2 168.2 468.6 C169 469.2 168 472.2 165.5 474.8" fill="none" stroke="#111" stroke-width="1.1" stroke-linecap="round"/>
<text x="289.8" y="460.6" text-anchor="middle">1</text>
<text x="417.9" y="460.6" text-anchor="middle" textLength="18.8" lengthAdjust="spacing">10</text>
<path d="M368.9 477.2 C368.1 479.2 366.3 480.3 365.3 479.2 C364.3 478 365.1 474.5 365.9 472.2 C366.7 469.8 367.5 468.2 368.3 468.6 C369.1 469.2 368.1 472.2 365.6 474.8" fill="none" stroke="#111" stroke-width="1.1" stroke-linecap="round"/>
<text x="489.9" y="460.6" text-anchor="middle">1</text>
<text x="618" y="460.6" text-anchor="middle" textLength="18.8" lengthAdjust="spacing">10</text>
<path d="M569 477.2 C568.2 479.2 566.4 480.3 565.4 479.2 C564.4 478 565.2 474.5 566 472.2 C566.8 469.8 567.6 468.2 568.4 468.6 C569.2 469.2 568.2 472.2 565.7 474.8" fill="none" stroke="#111" stroke-width="1.1" stroke-linecap="round"/>
</g>
</svg>
</body></html>
